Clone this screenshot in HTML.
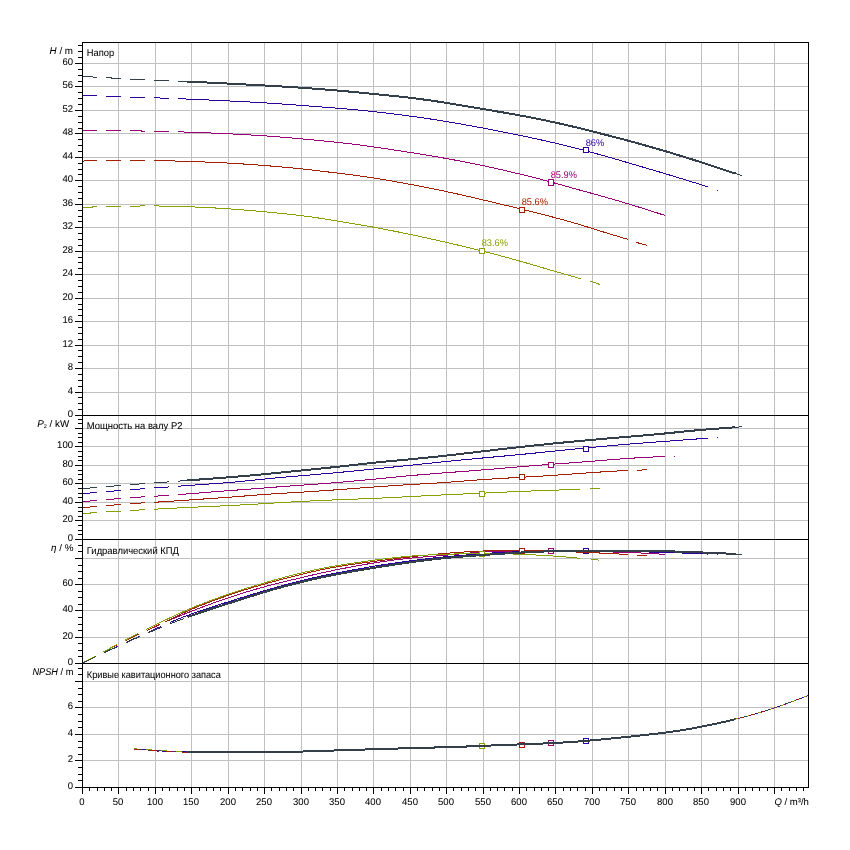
<!DOCTYPE html>
<html><head><meta charset="utf-8"><title>Pump curves</title>
<style>html,body{margin:0;padding:0;background:#fff;width:850px;height:850px;overflow:hidden}svg{display:block}</style>
</head><body>
<svg width="850" height="850" viewBox="0 0 850 850">
<rect width="850" height="850" fill="#fff"/>
<path d="M118.5 42V787M155.5 42V787M191.5 42V787M228.5 42V787M264.5 42V787M301.5 42V787M337.5 42V787M373.5 42V787M410.5 42V787M446.5 42V787M483.5 42V787M519.5 42V787M555.5 42V787M592.5 42V787M628.5 42V787M665.5 42V787M701.5 42V787M738.5 42V787M774.5 42V787M82 392.5H808M82 368.5H808M82 345.5H808M82 321.5H808M82 298.5H808M82 274.5H808M82 251.5H808M82 227.5H808M82 204.5H808M82 180.5H808M82 157.5H808M82 133.5H808M82 110.5H808M82 86.5H808M82 63.5H808M82 520.5H808M82 502.5H808M82 483.5H808M82 465.5H808M82 446.5H808M82 428.5H808M82 637.5H808M82 610.5H808M82 584.5H808M82 558.5H808M82 760.5H808M82 734.5H808M82 707.5H808M82 681.5H808" stroke="#c0c0c0" stroke-width="1" fill="none" shape-rendering="crispEdges"/>
<g fill="none" shape-rendering="crispEdges" stroke-linejoin="round">
<polyline points="82.5,95.28 83.5,95.32 84.5,95.36 85.5,95.40 86.5,95.44 87.5,95.47 88.5,95.51 89.5,95.55 90.5,95.59 91.5,95.63 92.5,95.67 93.5,95.71 94.5,95.75 95.5,95.79 96.5,95.83 97.5,95.87 98.5,95.91 99.5,95.95 100.5,95.99 101.5,96.03 102.5,96.07 103.5,96.11 104.5,96.15 105.5,96.19 106.5,96.23 107.5,96.27 108.5,96.30 109.5,96.34 110.5,96.38 111.5,96.42 112.5,96.46 113.5,96.50 114.5,96.53 115.5,96.57 116.5,96.61 117.5,96.65 118.5,96.68 119.5,96.72 120.5,96.76 121.5,96.79 122.5,96.83 123.5,96.86 124.5,96.90 125.5,96.93 126.5,96.97 127.5,97.00 128.5,97.04 129.5,97.07 130.5,97.11 131.5,97.14 132.5,97.17 133.5,97.20 134.5,97.24 135.5,97.27 136.5,97.30 137.5,97.33 138.5,97.36 139.5,97.39 140.5,97.42 141.5,97.45 142.5,97.48 143.5,97.51 144.5,97.54 145.5,97.57 146.5,97.60 147.5,97.62 148.5,97.65 149.5,97.68 150.5,97.71 151.5,97.74 152.5,97.77 153.5,97.80 154.5,97.83 155.5,97.86 156.5,97.89 157.5,97.93 158.5,97.96 159.5,97.99 160.5,98.03 161.5,98.06 162.5,98.09 163.5,98.13 164.5,98.16 165.5,98.20 166.5,98.24 167.5,98.27 168.5,98.31 169.5,98.35 170.5,98.38 171.5,98.42 172.5,98.46 173.5,98.50 174.5,98.54 175.5,98.57 176.5,98.61 177.5,98.65 178.5,98.69 179.5,98.73 180.5,98.77 181.5,98.82 182.5,98.86" stroke="#2e00a0" stroke-width="1" stroke-dasharray="15 9"/>
<polyline points="182.5,98.86 183.5,98.90 184.5,98.94 185.5,98.98 186.5,99.02 187.5,99.07 188.5,99.11 189.5,99.15 190.5,99.20 191.5,99.24 192.5,99.28 193.5,99.33 194.5,99.37 195.5,99.41 196.5,99.46 197.5,99.50 198.5,99.55 199.5,99.59 200.5,99.64 201.5,99.68 202.5,99.72 203.5,99.77 204.5,99.81 205.5,99.86 206.5,99.90 207.5,99.95 208.5,99.99 209.5,100.04 210.5,100.08 211.5,100.13 212.5,100.17 213.5,100.22 214.5,100.26 215.5,100.31 216.5,100.36 217.5,100.40 218.5,100.45 219.5,100.50 220.5,100.54 221.5,100.59 222.5,100.64 223.5,100.68 224.5,100.73 225.5,100.78 226.5,100.82 227.5,100.87 228.5,100.92 229.5,100.97 230.5,101.02 231.5,101.07 232.5,101.11 233.5,101.16 234.5,101.21 235.5,101.26 236.5,101.31 237.5,101.36 238.5,101.41 239.5,101.46 240.5,101.51 241.5,101.57 242.5,101.62 243.5,101.67 244.5,101.72 245.5,101.77 246.5,101.83 247.5,101.88 248.5,101.93 249.5,101.99 250.5,102.04 251.5,102.10 252.5,102.15 253.5,102.21 254.5,102.26 255.5,102.32 256.5,102.38 257.5,102.44 258.5,102.49 259.5,102.55 260.5,102.61 261.5,102.67 262.5,102.74 263.5,102.80 264.5,102.86 265.5,102.92 266.5,102.99 267.5,103.05 268.5,103.11 269.5,103.18 270.5,103.24 271.5,103.31 272.5,103.38 273.5,103.44 274.5,103.51 275.5,103.58 276.5,103.65 277.5,103.72 278.5,103.79 279.5,103.86 280.5,103.93 281.5,104.00 282.5,104.07 283.5,104.14 284.5,104.21 285.5,104.28 286.5,104.35 287.5,104.42 288.5,104.50 289.5,104.57 290.5,104.64 291.5,104.71 292.5,104.79 293.5,104.86 294.5,104.93 295.5,105.00 296.5,105.08 297.5,105.15 298.5,105.22 299.5,105.30 300.5,105.37 301.5,105.45 302.5,105.52 303.5,105.59 304.5,105.67 305.5,105.74 306.5,105.82 307.5,105.89 308.5,105.97 309.5,106.04 310.5,106.12 311.5,106.19 312.5,106.27 313.5,106.34 314.5,106.42 315.5,106.50 316.5,106.57 317.5,106.65 318.5,106.72 319.5,106.80 320.5,106.87 321.5,106.95 322.5,107.03 323.5,107.10 324.5,107.18 325.5,107.26 326.5,107.33 327.5,107.41 328.5,107.49 329.5,107.57 330.5,107.64 331.5,107.72 332.5,107.80 333.5,107.88 334.5,107.96 335.5,108.04 336.5,108.12 337.5,108.20 338.5,108.28 339.5,108.36 340.5,108.44 341.5,108.53 342.5,108.61 343.5,108.69 344.5,108.78 345.5,108.86 346.5,108.95 347.5,109.04 348.5,109.13 349.5,109.22 350.5,109.31 351.5,109.40 352.5,109.49 353.5,109.58 354.5,109.68 355.5,109.77 356.5,109.87 357.5,109.96 358.5,110.06 359.5,110.16 360.5,110.26 361.5,110.36 362.5,110.46 363.5,110.57 364.5,110.67 365.5,110.78 366.5,110.88 367.5,110.99 368.5,111.09 369.5,111.20 370.5,111.31 371.5,111.42 372.5,111.52 373.5,111.63 374.5,111.74 375.5,111.85 376.5,111.97 377.5,112.08 378.5,112.19 379.5,112.30 380.5,112.42 381.5,112.53 382.5,112.65 383.5,112.76 384.5,112.88 385.5,113.00 386.5,113.12 387.5,113.24 388.5,113.35 389.5,113.47 390.5,113.59 391.5,113.72 392.5,113.84 393.5,113.96 394.5,114.08 395.5,114.21 396.5,114.33 397.5,114.46 398.5,114.58 399.5,114.71 400.5,114.84 401.5,114.97 402.5,115.09 403.5,115.22 404.5,115.35 405.5,115.49 406.5,115.62 407.5,115.75 408.5,115.88 409.5,116.02 410.5,116.15 411.5,116.29 412.5,116.42 413.5,116.56 414.5,116.70 415.5,116.84 416.5,116.98 417.5,117.12 418.5,117.26 419.5,117.40 420.5,117.54 421.5,117.68 422.5,117.83 423.5,117.97 424.5,118.12 425.5,118.26 426.5,118.41 427.5,118.56 428.5,118.71 429.5,118.86 430.5,119.01 431.5,119.16 432.5,119.31 433.5,119.47 434.5,119.62 435.5,119.78 436.5,119.93 437.5,120.09 438.5,120.25 439.5,120.40 440.5,120.56 441.5,120.72 442.5,120.89 443.5,121.05 444.5,121.21 445.5,121.38 446.5,121.54 447.5,121.71 448.5,121.87 449.5,122.04 450.5,122.21 451.5,122.38 452.5,122.55 453.5,122.72 454.5,122.90 455.5,123.07 456.5,123.24 457.5,123.42 458.5,123.59 459.5,123.77 460.5,123.95 461.5,124.13 462.5,124.30 463.5,124.48 464.5,124.66 465.5,124.84 466.5,125.03 467.5,125.21 468.5,125.39 469.5,125.57 470.5,125.76 471.5,125.94 472.5,126.12 473.5,126.31 474.5,126.49 475.5,126.68 476.5,126.87 477.5,127.05 478.5,127.24 479.5,127.43 480.5,127.62 481.5,127.80 482.5,127.99 483.5,128.18 484.5,128.37 485.5,128.56 486.5,128.75 487.5,128.94 488.5,129.13 489.5,129.32 490.5,129.51 491.5,129.71 492.5,129.90 493.5,130.09 494.5,130.28 495.5,130.48 496.5,130.67 497.5,130.87 498.5,131.06 499.5,131.26 500.5,131.45 501.5,131.65 502.5,131.85 503.5,132.05 504.5,132.24 505.5,132.44 506.5,132.64 507.5,132.84 508.5,133.04 509.5,133.24 510.5,133.44 511.5,133.65 512.5,133.85 513.5,134.05 514.5,134.26 515.5,134.46 516.5,134.67 517.5,134.87 518.5,135.08 519.5,135.28 520.5,135.49 521.5,135.70 522.5,135.91 523.5,136.12 524.5,136.33 525.5,136.54 526.5,136.75 527.5,136.96 528.5,137.18 529.5,137.39 530.5,137.60 531.5,137.82 532.5,138.03 533.5,138.25 534.5,138.47 535.5,138.69 536.5,138.90 537.5,139.12 538.5,139.34 539.5,139.56 540.5,139.79 541.5,140.01 542.5,140.23 543.5,140.46 544.5,140.68 545.5,140.91 546.5,141.13 547.5,141.36 548.5,141.59 549.5,141.81 550.5,142.04 551.5,142.27 552.5,142.51 553.5,142.74 554.5,142.97 555.5,143.20 556.5,143.44 557.5,143.67 558.5,143.91 559.5,144.15 560.5,144.39 561.5,144.62 562.5,144.86 563.5,145.11 564.5,145.35 565.5,145.59 566.5,145.84 567.5,146.08 568.5,146.33 569.5,146.58 570.5,146.83 571.5,147.08 572.5,147.33 573.5,147.59 574.5,147.84 575.5,148.10 576.5,148.36 577.5,148.62 578.5,148.88 579.5,149.14 580.5,149.40 581.5,149.67 582.5,149.93 583.5,150.20 584.5,150.47 585.5,150.73 586.5,151.00 587.5,151.27 588.5,151.54 589.5,151.81 590.5,152.08 591.5,152.36 592.5,152.63 593.5,152.90 594.5,153.18 595.5,153.45 596.5,153.73 597.5,154.00 598.5,154.28 599.5,154.56 600.5,154.83 601.5,155.11 602.5,155.39 603.5,155.67 604.5,155.95 605.5,156.23 606.5,156.52 607.5,156.80 608.5,157.08 609.5,157.37 610.5,157.65 611.5,157.94 612.5,158.23 613.5,158.51 614.5,158.80 615.5,159.09 616.5,159.38 617.5,159.67 618.5,159.96 619.5,160.25 620.5,160.54 621.5,160.83 622.5,161.13 623.5,161.42 624.5,161.71 625.5,162.00 626.5,162.30 627.5,162.59 628.5,162.88 629.5,163.18 630.5,163.47 631.5,163.77 632.5,164.06 633.5,164.35 634.5,164.65 635.5,164.94 636.5,165.23 637.5,165.53 638.5,165.82 639.5,166.11 640.5,166.41 641.5,166.70 642.5,166.99 643.5,167.29 644.5,167.58 645.5,167.87 646.5,168.16 647.5,168.46 648.5,168.75 649.5,169.04 650.5,169.33 651.5,169.63 652.5,169.92 653.5,170.21 654.5,170.51 655.5,170.80 656.5,171.10 657.5,171.39 658.5,171.69 659.5,171.99 660.5,172.28 661.5,172.58 662.5,172.88 663.5,173.18 664.5,173.48 665.5,173.78 666.5,174.08 667.5,174.38 668.5,174.69 669.5,174.99 670.5,175.29 671.5,175.60 672.5,175.90 673.5,176.20 674.5,176.51 675.5,176.81 676.5,177.12 677.5,177.42 678.5,177.73 679.5,178.03 680.5,178.34 681.5,178.65 682.5,178.95 683.5,179.26 684.5,179.57 685.5,179.88 686.5,180.18 687.5,180.49 688.5,180.80 689.5,181.11 690.5,181.42 691.5,181.73 692.5,182.04 693.5,182.35 694.5,182.66 695.5,182.97 696.5,183.28 697.5,183.59 698.5,183.91 699.5,184.22 700.5,184.54 701.5,184.85 702.5,185.17 703.5,185.48 704.5,185.80 705.5,186.12 706.5,186.43 707.5,186.75 708,186.91" stroke="#2e00a0" stroke-width="1"/>
<polyline points="717,190.50 718,190.70" stroke="#2e00a0" stroke-width="1"/>
<rect x="583.5" y="147.5" width="5" height="5" fill="#fff" stroke="#2e00a0"/>
<polyline points="82.5,130.47 83.5,130.47 84.5,130.47 85.5,130.47 86.5,130.47 87.5,130.47 88.5,130.47 89.5,130.47 90.5,130.48 91.5,130.48 92.5,130.48 93.5,130.48 94.5,130.48 95.5,130.48 96.5,130.49 97.5,130.49 98.5,130.49 99.5,130.49 100.5,130.50 101.5,130.50 102.5,130.50 103.5,130.51 104.5,130.51 105.5,130.52 106.5,130.52 107.5,130.53 108.5,130.53 109.5,130.54 110.5,130.55 111.5,130.56 112.5,130.56 113.5,130.57 114.5,130.58 115.5,130.59 116.5,130.60 117.5,130.61 118.5,130.62 119.5,130.63 120.5,130.65 121.5,130.66 122.5,130.67 123.5,130.69 124.5,130.70 125.5,130.72 126.5,130.73 127.5,130.75 128.5,130.76 129.5,130.78 130.5,130.80 131.5,130.81 132.5,130.83 133.5,130.85 134.5,130.87 135.5,130.89 136.5,130.91 137.5,130.93 138.5,130.95 139.5,130.97 140.5,130.99 141.5,131.01 142.5,131.03 143.5,131.05 144.5,131.08 145.5,131.10 146.5,131.12 147.5,131.14 148.5,131.16 149.5,131.18 150.5,131.20 151.5,131.22 152.5,131.25 153.5,131.27 154.5,131.29 155.5,131.31 156.5,131.33 157.5,131.35 158.5,131.38 159.5,131.40 160.5,131.42 161.5,131.44 162.5,131.46 163.5,131.49 164.5,131.51 165.5,131.53 166.5,131.56 167.5,131.58 168.5,131.60 169.5,131.63 170.5,131.65 171.5,131.67 172.5,131.70 173.5,131.72 174.5,131.75 175.5,131.78 176.5,131.80 177.5,131.83 178.5,131.86 179.5,131.88 180.5,131.91 181.5,131.94" stroke="#9c0078" stroke-width="1" stroke-dasharray="15 9"/>
<polyline points="181.5,131.94 182.5,131.97 183.5,132.00 184.5,132.03 185.5,132.06 186.5,132.09 187.5,132.13 188.5,132.16 189.5,132.19 190.5,132.23 191.5,132.26 192.5,132.29 193.5,132.33 194.5,132.36 195.5,132.40 196.5,132.44 197.5,132.47 198.5,132.51 199.5,132.55 200.5,132.58 201.5,132.62 202.5,132.66 203.5,132.70 204.5,132.74 205.5,132.78 206.5,132.82 207.5,132.86 208.5,132.90 209.5,132.94 210.5,132.98 211.5,133.02 212.5,133.06 213.5,133.11 214.5,133.15 215.5,133.19 216.5,133.24 217.5,133.28 218.5,133.32 219.5,133.37 220.5,133.41 221.5,133.46 222.5,133.50 223.5,133.55 224.5,133.60 225.5,133.64 226.5,133.69 227.5,133.74 228.5,133.79 229.5,133.84 230.5,133.89 231.5,133.94 232.5,133.99 233.5,134.04 234.5,134.09 235.5,134.14 236.5,134.19 237.5,134.24 238.5,134.30 239.5,134.35 240.5,134.40 241.5,134.46 242.5,134.51 243.5,134.57 244.5,134.62 245.5,134.68 246.5,134.74 247.5,134.79 248.5,134.85 249.5,134.91 250.5,134.97 251.5,135.03 252.5,135.09 253.5,135.15 254.5,135.21 255.5,135.27 256.5,135.34 257.5,135.40 258.5,135.46 259.5,135.53 260.5,135.59 261.5,135.66 262.5,135.73 263.5,135.79 264.5,135.86 265.5,135.93 266.5,136.00 267.5,136.07 268.5,136.14 269.5,136.22 270.5,136.29 271.5,136.36 272.5,136.44 273.5,136.51 274.5,136.59 275.5,136.66 276.5,136.74 277.5,136.82 278.5,136.89 279.5,136.97 280.5,137.05 281.5,137.13 282.5,137.22 283.5,137.30 284.5,137.38 285.5,137.46 286.5,137.55 287.5,137.63 288.5,137.72 289.5,137.80 290.5,137.89 291.5,137.98 292.5,138.07 293.5,138.15 294.5,138.24 295.5,138.33 296.5,138.42 297.5,138.51 298.5,138.60 299.5,138.69 300.5,138.78 301.5,138.88 302.5,138.97 303.5,139.06 304.5,139.15 305.5,139.25 306.5,139.34 307.5,139.43 308.5,139.53 309.5,139.62 310.5,139.71 311.5,139.81 312.5,139.90 313.5,140.00 314.5,140.09 315.5,140.19 316.5,140.28 317.5,140.38 318.5,140.47 319.5,140.57 320.5,140.67 321.5,140.76 322.5,140.86 323.5,140.96 324.5,141.06 325.5,141.16 326.5,141.26 327.5,141.36 328.5,141.46 329.5,141.57 330.5,141.67 331.5,141.77 332.5,141.88 333.5,141.98 334.5,142.09 335.5,142.19 336.5,142.30 337.5,142.41 338.5,142.52 339.5,142.63 340.5,142.74 341.5,142.85 342.5,142.96 343.5,143.07 344.5,143.18 345.5,143.30 346.5,143.41 347.5,143.53 348.5,143.65 349.5,143.76 350.5,143.88 351.5,144.00 352.5,144.12 353.5,144.25 354.5,144.37 355.5,144.49 356.5,144.62 357.5,144.74 358.5,144.87 359.5,145.00 360.5,145.13 361.5,145.26 362.5,145.39 363.5,145.53 364.5,145.66 365.5,145.79 366.5,145.93 367.5,146.07 368.5,146.21 369.5,146.34 370.5,146.48 371.5,146.63 372.5,146.77 373.5,146.91 374.5,147.05 375.5,147.19 376.5,147.34 377.5,147.48 378.5,147.63 379.5,147.77 380.5,147.92 381.5,148.07 382.5,148.21 383.5,148.36 384.5,148.51 385.5,148.66 386.5,148.81 387.5,148.96 388.5,149.11 389.5,149.26 390.5,149.41 391.5,149.56 392.5,149.71 393.5,149.87 394.5,150.02 395.5,150.17 396.5,150.33 397.5,150.48 398.5,150.63 399.5,150.79 400.5,150.94 401.5,151.10 402.5,151.26 403.5,151.41 404.5,151.57 405.5,151.72 406.5,151.88 407.5,152.04 408.5,152.20 409.5,152.36 410.5,152.51 411.5,152.67 412.5,152.83 413.5,152.99 414.5,153.15 415.5,153.31 416.5,153.47 417.5,153.63 418.5,153.79 419.5,153.96 420.5,154.12 421.5,154.28 422.5,154.44 423.5,154.61 424.5,154.77 425.5,154.94 426.5,155.10 427.5,155.27 428.5,155.43 429.5,155.60 430.5,155.77 431.5,155.93 432.5,156.10 433.5,156.27 434.5,156.44 435.5,156.61 436.5,156.78 437.5,156.96 438.5,157.13 439.5,157.30 440.5,157.48 441.5,157.65 442.5,157.83 443.5,158.00 444.5,158.18 445.5,158.36 446.5,158.54 447.5,158.72 448.5,158.90 449.5,159.08 450.5,159.26 451.5,159.44 452.5,159.63 453.5,159.81 454.5,160.00 455.5,160.18 456.5,160.37 457.5,160.56 458.5,160.75 459.5,160.94 460.5,161.13 461.5,161.32 462.5,161.51 463.5,161.71 464.5,161.90 465.5,162.10 466.5,162.29 467.5,162.49 468.5,162.69 469.5,162.89 470.5,163.09 471.5,163.29 472.5,163.49 473.5,163.69 474.5,163.90 475.5,164.10 476.5,164.31 477.5,164.51 478.5,164.72 479.5,164.93 480.5,165.14 481.5,165.35 482.5,165.56 483.5,165.77 484.5,165.99 485.5,166.20 486.5,166.42 487.5,166.63 488.5,166.85 489.5,167.07 490.5,167.28 491.5,167.50 492.5,167.72 493.5,167.95 494.5,168.17 495.5,168.39 496.5,168.62 497.5,168.84 498.5,169.07 499.5,169.29 500.5,169.52 501.5,169.75 502.5,169.98 503.5,170.21 504.5,170.44 505.5,170.67 506.5,170.90 507.5,171.13 508.5,171.37 509.5,171.60 510.5,171.83 511.5,172.07 512.5,172.31 513.5,172.54 514.5,172.78 515.5,173.02 516.5,173.26 517.5,173.50 518.5,173.74 519.5,173.98 520.5,174.22 521.5,174.47 522.5,174.71 523.5,174.95 524.5,175.20 525.5,175.44 526.5,175.69 527.5,175.94 528.5,176.19 529.5,176.44 530.5,176.69 531.5,176.94 532.5,177.19 533.5,177.44 534.5,177.69 535.5,177.95 536.5,178.20 537.5,178.46 538.5,178.72 539.5,178.98 540.5,179.24 541.5,179.50 542.5,179.76 543.5,180.03 544.5,180.29 545.5,180.56 546.5,180.82 547.5,181.09 548.5,181.36 549.5,181.63 550.5,181.91 551.5,182.18 552.5,182.45 553.5,182.73 554.5,183.00 555.5,183.28 556.5,183.56 557.5,183.83 558.5,184.11 559.5,184.39 560.5,184.67 561.5,184.95 562.5,185.23 563.5,185.51 564.5,185.79 565.5,186.07 566.5,186.35 567.5,186.63 568.5,186.92 569.5,187.20 570.5,187.48 571.5,187.76 572.5,188.04 573.5,188.32 574.5,188.60 575.5,188.88 576.5,189.16 577.5,189.44 578.5,189.72 579.5,189.99 580.5,190.27 581.5,190.55 582.5,190.82 583.5,191.10 584.5,191.37 585.5,191.65 586.5,191.92 587.5,192.20 588.5,192.47 589.5,192.74 590.5,193.02 591.5,193.29 592.5,193.57 593.5,193.85 594.5,194.12 595.5,194.40 596.5,194.68 597.5,194.95 598.5,195.23 599.5,195.51 600.5,195.79 601.5,196.07 602.5,196.35 603.5,196.64 604.5,196.92 605.5,197.20 606.5,197.49 607.5,197.77 608.5,198.05 609.5,198.34 610.5,198.63 611.5,198.91 612.5,199.20 613.5,199.49 614.5,199.78 615.5,200.07 616.5,200.36 617.5,200.66 618.5,200.95 619.5,201.24 620.5,201.54 621.5,201.83 622.5,202.13 623.5,202.43 624.5,202.73 625.5,203.03 626.5,203.33 627.5,203.63 628.5,203.93 629.5,204.23 630.5,204.54 631.5,204.84 632.5,205.15 633.5,205.45 634.5,205.76 635.5,206.07 636.5,206.38 637.5,206.69 638.5,207.00 639.5,207.31 640.5,207.62 641.5,207.94 642.5,208.25 643.5,208.57 644.5,208.88 645.5,209.20 646.5,209.51 647.5,209.83 648.5,210.15 649.5,210.46 650.5,210.78 651.5,211.10 652.5,211.42 653.5,211.74 654.5,212.05 655.5,212.37 656.5,212.69 657.5,213.01 658.5,213.33 659.5,213.65 660.5,213.98 661.5,214.30 662.5,214.62 663.5,214.94 664.5,215.26 665.3,215.51" stroke="#9c0078" stroke-width="1"/>
<rect x="548.5" y="179.5" width="5" height="6" fill="#fff" stroke="#9c0078"/>
<polyline points="82.5,161.05 83.5,161.03 84.5,161.00 85.5,160.98 86.5,160.95 87.5,160.93 88.5,160.91 89.5,160.88 90.5,160.86 91.5,160.84 92.5,160.82 93.5,160.80 94.5,160.78 95.5,160.76 96.5,160.74 97.5,160.72 98.5,160.70 99.5,160.68 100.5,160.67 101.5,160.65 102.5,160.63 103.5,160.62 104.5,160.61 105.5,160.59 106.5,160.58 107.5,160.57 108.5,160.55 109.5,160.54 110.5,160.53 111.5,160.52 112.5,160.51 113.5,160.50 114.5,160.49 115.5,160.49 116.5,160.48 117.5,160.47 118.5,160.47 119.5,160.46 120.5,160.45 121.5,160.45 122.5,160.45 123.5,160.44 124.5,160.44 125.5,160.44 126.5,160.43 127.5,160.43 128.5,160.43 129.5,160.43 130.5,160.43 131.5,160.43 132.5,160.43 133.5,160.43 134.5,160.43 135.5,160.44 136.5,160.44 137.5,160.44 138.5,160.45 139.5,160.45 140.5,160.45 141.5,160.46 142.5,160.47 143.5,160.47 144.5,160.48 145.5,160.48 146.5,160.49 147.5,160.50 148.5,160.51 149.5,160.52 150.5,160.53 151.5,160.54 152.5,160.55 153.5,160.56 154.5,160.58 155.5,160.59 156.5,160.60 157.5,160.62 158.5,160.63 159.5,160.65 160.5,160.67 161.5,160.69 162.5,160.70 163.5,160.72 164.5,160.74 165.5,160.77" stroke="#a52000" stroke-width="1" stroke-dasharray="15 9"/>
<polyline points="165.5,160.77 166.5,160.79 167.5,160.81 168.5,160.83 169.5,160.86 170.5,160.88 171.5,160.91 172.5,160.93 173.5,160.96 174.5,160.99 175.5,161.02 176.5,161.04 177.5,161.07 178.5,161.10 179.5,161.13 180.5,161.16 181.5,161.19 182.5,161.22 183.5,161.25 184.5,161.28 185.5,161.32 186.5,161.35 187.5,161.38 188.5,161.41 189.5,161.45 190.5,161.48 191.5,161.51 192.5,161.55 193.5,161.58 194.5,161.62 195.5,161.65 196.5,161.69 197.5,161.72 198.5,161.76 199.5,161.80 200.5,161.84 201.5,161.87 202.5,161.91 203.5,161.95 204.5,161.99 205.5,162.03 206.5,162.07 207.5,162.11 208.5,162.15 209.5,162.19 210.5,162.24 211.5,162.28 212.5,162.32 213.5,162.37 214.5,162.41 215.5,162.46 216.5,162.50 217.5,162.55 218.5,162.60 219.5,162.65 220.5,162.70 221.5,162.75 222.5,162.80 223.5,162.85 224.5,162.90 225.5,162.95 226.5,163.00 227.5,163.06 228.5,163.11 229.5,163.17 230.5,163.22 231.5,163.28 232.5,163.34 233.5,163.39 234.5,163.45 235.5,163.51 236.5,163.57 237.5,163.63 238.5,163.69 239.5,163.75 240.5,163.82 241.5,163.88 242.5,163.95 243.5,164.01 244.5,164.08 245.5,164.14 246.5,164.21 247.5,164.28 248.5,164.34 249.5,164.41 250.5,164.48 251.5,164.55 252.5,164.62 253.5,164.70 254.5,164.77 255.5,164.84 256.5,164.92 257.5,164.99 258.5,165.06 259.5,165.14 260.5,165.22 261.5,165.29 262.5,165.37 263.5,165.45 264.5,165.53 265.5,165.61 266.5,165.69 267.5,165.77 268.5,165.85 269.5,165.93 270.5,166.01 271.5,166.09 272.5,166.18 273.5,166.26 274.5,166.35 275.5,166.43 276.5,166.52 277.5,166.60 278.5,166.69 279.5,166.78 280.5,166.87 281.5,166.95 282.5,167.04 283.5,167.13 284.5,167.23 285.5,167.32 286.5,167.41 287.5,167.50 288.5,167.60 289.5,167.69 290.5,167.79 291.5,167.88 292.5,167.98 293.5,168.08 294.5,168.17 295.5,168.27 296.5,168.37 297.5,168.48 298.5,168.58 299.5,168.68 300.5,168.78 301.5,168.89 302.5,168.99 303.5,169.10 304.5,169.21 305.5,169.32 306.5,169.43 307.5,169.54 308.5,169.65 309.5,169.76 310.5,169.87 311.5,169.99 312.5,170.10 313.5,170.22 314.5,170.34 315.5,170.45 316.5,170.57 317.5,170.69 318.5,170.81 319.5,170.93 320.5,171.05 321.5,171.17 322.5,171.29 323.5,171.41 324.5,171.53 325.5,171.65 326.5,171.77 327.5,171.89 328.5,172.01 329.5,172.13 330.5,172.25 331.5,172.37 332.5,172.49 333.5,172.61 334.5,172.73 335.5,172.85 336.5,172.97 337.5,173.09 338.5,173.22 339.5,173.34 340.5,173.46 341.5,173.58 342.5,173.70 343.5,173.82 344.5,173.95 345.5,174.07 346.5,174.20 347.5,174.32 348.5,174.45 349.5,174.58 350.5,174.70 351.5,174.83 352.5,174.96 353.5,175.10 354.5,175.23 355.5,175.36 356.5,175.50 357.5,175.64 358.5,175.78 359.5,175.91 360.5,176.06 361.5,176.20 362.5,176.34 363.5,176.49 364.5,176.63 365.5,176.78 366.5,176.93 367.5,177.08 368.5,177.23 369.5,177.38 370.5,177.54 371.5,177.69 372.5,177.85 373.5,178.00 374.5,178.16 375.5,178.32 376.5,178.48 377.5,178.64 378.5,178.80 379.5,178.96 380.5,179.13 381.5,179.29 382.5,179.46 383.5,179.62 384.5,179.79 385.5,179.96 386.5,180.13 387.5,180.30 388.5,180.47 389.5,180.64 390.5,180.81 391.5,180.99 392.5,181.16 393.5,181.33 394.5,181.51 395.5,181.69 396.5,181.86 397.5,182.04 398.5,182.22 399.5,182.40 400.5,182.58 401.5,182.76 402.5,182.94 403.5,183.12 404.5,183.30 405.5,183.49 406.5,183.67 407.5,183.86 408.5,184.04 409.5,184.23 410.5,184.41 411.5,184.60 412.5,184.79 413.5,184.98 414.5,185.16 415.5,185.35 416.5,185.54 417.5,185.73 418.5,185.92 419.5,186.12 420.5,186.31 421.5,186.50 422.5,186.70 423.5,186.89 424.5,187.09 425.5,187.28 426.5,187.48 427.5,187.68 428.5,187.87 429.5,188.07 430.5,188.27 431.5,188.47 432.5,188.68 433.5,188.88 434.5,189.08 435.5,189.29 436.5,189.49 437.5,189.70 438.5,189.90 439.5,190.11 440.5,190.32 441.5,190.53 442.5,190.74 443.5,190.95 444.5,191.16 445.5,191.37 446.5,191.59 447.5,191.80 448.5,192.02 449.5,192.23 450.5,192.45 451.5,192.67 452.5,192.89 453.5,193.11 454.5,193.33 455.5,193.55 456.5,193.78 457.5,194.00 458.5,194.22 459.5,194.45 460.5,194.68 461.5,194.90 462.5,195.13 463.5,195.36 464.5,195.59 465.5,195.82 466.5,196.05 467.5,196.28 468.5,196.51 469.5,196.74 470.5,196.97 471.5,197.20 472.5,197.44 473.5,197.67 474.5,197.91 475.5,198.14 476.5,198.38 477.5,198.61 478.5,198.85 479.5,199.08 480.5,199.32 481.5,199.56 482.5,199.79 483.5,200.03 484.5,200.27 485.5,200.50 486.5,200.74 487.5,200.98 488.5,201.22 489.5,201.45 490.5,201.69 491.5,201.93 492.5,202.17 493.5,202.41 494.5,202.64 495.5,202.88 496.5,203.12 497.5,203.36 498.5,203.60 499.5,203.84 500.5,204.07 501.5,204.31 502.5,204.55 503.5,204.79 504.5,205.03 505.5,205.27 506.5,205.51 507.5,205.75 508.5,205.99 509.5,206.23 510.5,206.47 511.5,206.71 512.5,206.95 513.5,207.19 514.5,207.43 515.5,207.67 516.5,207.92 517.5,208.16 518.5,208.40 519.5,208.65 520.5,208.89 521.5,209.14 522.5,209.38 523.5,209.63 524.5,209.88 525.5,210.12 526.5,210.37 527.5,210.62 528.5,210.87 529.5,211.12 530.5,211.37 531.5,211.61 532.5,211.87 533.5,212.12 534.5,212.37 535.5,212.62 536.5,212.87 537.5,213.12 538.5,213.38 539.5,213.63 540.5,213.89 541.5,214.14 542.5,214.40 543.5,214.65 544.5,214.91 545.5,215.17 546.5,215.43 547.5,215.69 548.5,215.95 549.5,216.21 550.5,216.47 551.5,216.74 552.5,217.00 553.5,217.26 554.5,217.53 555.5,217.80 556.5,218.06 557.5,218.33 558.5,218.60 559.5,218.87 560.5,219.14 561.5,219.42 562.5,219.69 563.5,219.96 564.5,220.24 565.5,220.52 566.5,220.80 567.5,221.08 568.5,221.36 569.5,221.64 570.5,221.93 571.5,222.21 572.5,222.50 573.5,222.79 574.5,223.08 575.5,223.37 576.5,223.67 577.5,223.96 578.5,224.26 579.5,224.56 580.5,224.86 581.5,225.16 582.5,225.47 583.5,225.78 584.5,226.08 585.5,226.39 586.5,226.70 587.5,227.01 588.5,227.32 589.5,227.63 590.5,227.95 591.5,228.26 592.5,228.57 593.5,228.88 594.5,229.19 595.5,229.50 596.5,229.82 597.5,230.13 598.5,230.44 599.5,230.75 600.5,231.06 601.5,231.37 602.5,231.67 603.5,231.98 604.5,232.29 605.5,232.60 606.5,232.91 607.5,233.21 608.5,233.52 609.5,233.82 610.5,234.13 611.5,234.43 612.5,234.74 613.5,235.04 614.5,235.34 615.5,235.64 616.5,235.94 617.5,236.25 618.5,236.55 619.5,236.85 620.5,237.15 621.5,237.45 622.5,237.75 623.5,238.04 624.5,238.34 625.5,238.64 626.5,238.94 627.5,239.24 628.4,239.51" stroke="#a52000" stroke-width="1"/>
<polyline points="636,242.30 647,245.30" stroke="#a52000" stroke-width="1"/>
<rect x="519.5" y="207.5" width="5" height="5" fill="#fff" stroke="#a52000"/>
<polyline points="82.5,207.39 83.5,207.35 84.5,207.31 85.5,207.27 86.5,207.23 87.5,207.20 88.5,207.16 89.5,207.12 90.5,207.08 91.5,207.05 92.5,207.01 93.5,206.98 94.5,206.94 95.5,206.91 96.5,206.88 97.5,206.84 98.5,206.81 99.5,206.78 100.5,206.75 101.5,206.73 102.5,206.70 103.5,206.67 104.5,206.65 105.5,206.62 106.5,206.60 107.5,206.57 108.5,206.55 109.5,206.53 110.5,206.50 111.5,206.48 112.5,206.46 113.5,206.44 114.5,206.42 115.5,206.40 116.5,206.38 117.5,206.36 118.5,206.34 119.5,206.32 120.5,206.30 121.5,206.28 122.5,206.27 123.5,206.25 124.5,206.23 125.5,206.22 126.5,206.20 127.5,206.18 128.5,206.17 129.5,206.15 130.5,206.14 131.5,206.12 132.5,206.11 133.5,206.09 134.5,206.08 135.5,206.07 136.5,206.05 137.5,206.04 138.5,206.03 139.5,206.01 140.5,206.00 141.5,205.99 142.5,205.98 143.5,205.98 144.5,205.97 145.5,205.96 146.5,205.96 147.5,205.95 148.5,205.95 149.5,205.95 150.5,205.95 151.5,205.95 152.5,205.95 153.5,205.96 154.5,205.96 155.5,205.97 156.5,205.98 157.5,205.99 158.5,206.00 159.5,206.01" stroke="#88a000" stroke-width="1" stroke-dasharray="15 9"/>
<polyline points="159.5,206.01 160.5,206.02 161.5,206.04 162.5,206.05 163.5,206.07 164.5,206.09 165.5,206.11 166.5,206.13 167.5,206.15 168.5,206.17 169.5,206.20 170.5,206.22 171.5,206.24 172.5,206.27 173.5,206.29 174.5,206.32 175.5,206.35 176.5,206.37 177.5,206.40 178.5,206.43 179.5,206.46 180.5,206.49 181.5,206.52 182.5,206.55 183.5,206.59 184.5,206.62 185.5,206.65 186.5,206.69 187.5,206.72 188.5,206.76 189.5,206.80 190.5,206.83 191.5,206.87 192.5,206.91 193.5,206.95 194.5,206.99 195.5,207.03 196.5,207.08 197.5,207.12 198.5,207.16 199.5,207.21 200.5,207.25 201.5,207.30 202.5,207.34 203.5,207.39 204.5,207.44 205.5,207.49 206.5,207.54 207.5,207.58 208.5,207.64 209.5,207.69 210.5,207.74 211.5,207.79 212.5,207.85 213.5,207.90 214.5,207.96 215.5,208.01 216.5,208.07 217.5,208.13 218.5,208.19 219.5,208.25 220.5,208.31 221.5,208.37 222.5,208.43 223.5,208.50 224.5,208.56 225.5,208.63 226.5,208.69 227.5,208.76 228.5,208.83 229.5,208.90 230.5,208.97 231.5,209.04 232.5,209.11 233.5,209.18 234.5,209.26 235.5,209.33 236.5,209.41 237.5,209.48 238.5,209.56 239.5,209.64 240.5,209.72 241.5,209.80 242.5,209.88 243.5,209.96 244.5,210.04 245.5,210.13 246.5,210.21 247.5,210.29 248.5,210.38 249.5,210.47 250.5,210.55 251.5,210.64 252.5,210.73 253.5,210.81 254.5,210.90 255.5,210.99 256.5,211.08 257.5,211.17 258.5,211.26 259.5,211.35 260.5,211.44 261.5,211.53 262.5,211.62 263.5,211.71 264.5,211.81 265.5,211.90 266.5,211.99 267.5,212.09 268.5,212.18 269.5,212.28 270.5,212.37 271.5,212.47 272.5,212.56 273.5,212.66 274.5,212.75 275.5,212.85 276.5,212.95 277.5,213.05 278.5,213.15 279.5,213.25 280.5,213.35 281.5,213.45 282.5,213.55 283.5,213.65 284.5,213.76 285.5,213.86 286.5,213.97 287.5,214.07 288.5,214.18 289.5,214.29 290.5,214.40 291.5,214.51 292.5,214.62 293.5,214.73 294.5,214.85 295.5,214.96 296.5,215.08 297.5,215.19 298.5,215.31 299.5,215.43 300.5,215.55 301.5,215.68 302.5,215.80 303.5,215.93 304.5,216.06 305.5,216.19 306.5,216.32 307.5,216.45 308.5,216.58 309.5,216.72 310.5,216.86 311.5,217.00 312.5,217.14 313.5,217.28 314.5,217.42 315.5,217.57 316.5,217.71 317.5,217.86 318.5,218.01 319.5,218.16 320.5,218.32 321.5,218.47 322.5,218.63 323.5,218.79 324.5,218.94 325.5,219.10 326.5,219.26 327.5,219.43 328.5,219.59 329.5,219.75 330.5,219.92 331.5,220.08 332.5,220.24 333.5,220.41 334.5,220.57 335.5,220.74 336.5,220.90 337.5,221.07 338.5,221.23 339.5,221.40 340.5,221.56 341.5,221.73 342.5,221.89 343.5,222.06 344.5,222.22 345.5,222.39 346.5,222.55 347.5,222.71 348.5,222.88 349.5,223.04 350.5,223.21 351.5,223.37 352.5,223.54 353.5,223.70 354.5,223.87 355.5,224.03 356.5,224.20 357.5,224.37 358.5,224.54 359.5,224.71 360.5,224.88 361.5,225.05 362.5,225.22 363.5,225.39 364.5,225.57 365.5,225.74 366.5,225.92 367.5,226.10 368.5,226.28 369.5,226.45 370.5,226.64 371.5,226.82 372.5,227.00 373.5,227.18 374.5,227.37 375.5,227.55 376.5,227.74 377.5,227.92 378.5,228.11 379.5,228.30 380.5,228.49 381.5,228.68 382.5,228.87 383.5,229.06 384.5,229.25 385.5,229.44 386.5,229.63 387.5,229.83 388.5,230.02 389.5,230.22 390.5,230.41 391.5,230.61 392.5,230.81 393.5,231.01 394.5,231.21 395.5,231.41 396.5,231.61 397.5,231.81 398.5,232.01 399.5,232.21 400.5,232.42 401.5,232.62 402.5,232.83 403.5,233.03 404.5,233.24 405.5,233.44 406.5,233.65 407.5,233.86 408.5,234.07 409.5,234.28 410.5,234.49 411.5,234.70 412.5,234.91 413.5,235.12 414.5,235.34 415.5,235.55 416.5,235.76 417.5,235.98 418.5,236.19 419.5,236.41 420.5,236.63 421.5,236.84 422.5,237.06 423.5,237.28 424.5,237.50 425.5,237.72 426.5,237.94 427.5,238.16 428.5,238.38 429.5,238.60 430.5,238.82 431.5,239.05 432.5,239.27 433.5,239.49 434.5,239.72 435.5,239.94 436.5,240.17 437.5,240.39 438.5,240.62 439.5,240.85 440.5,241.07 441.5,241.30 442.5,241.53 443.5,241.76 444.5,241.99 445.5,242.22 446.5,242.45 447.5,242.68 448.5,242.91 449.5,243.14 450.5,243.37 451.5,243.60 452.5,243.84 453.5,244.07 454.5,244.30 455.5,244.54 456.5,244.77 457.5,245.01 458.5,245.24 459.5,245.48 460.5,245.72 461.5,245.95 462.5,246.19 463.5,246.43 464.5,246.67 465.5,246.91 466.5,247.15 467.5,247.39 468.5,247.63 469.5,247.88 470.5,248.12 471.5,248.36 472.5,248.61 473.5,248.85 474.5,249.10 475.5,249.35 476.5,249.60 477.5,249.84 478.5,250.09 479.5,250.34 480.5,250.59 481.5,250.85 482.5,251.10 483.5,251.35 484.5,251.60 485.5,251.86 486.5,252.11 487.5,252.37 488.5,252.63 489.5,252.88 490.5,253.14 491.5,253.40 492.5,253.66 493.5,253.92 494.5,254.18 495.5,254.44 496.5,254.70 497.5,254.97 498.5,255.23 499.5,255.50 500.5,255.76 501.5,256.03 502.5,256.30 503.5,256.57 504.5,256.84 505.5,257.11 506.5,257.38 507.5,257.65 508.5,257.92 509.5,258.20 510.5,258.47 511.5,258.75 512.5,259.03 513.5,259.30 514.5,259.58 515.5,259.86 516.5,260.14 517.5,260.43 518.5,260.71 519.5,260.99 520.5,261.28 521.5,261.57 522.5,261.85 523.5,262.14 524.5,262.43 525.5,262.72 526.5,263.01 527.5,263.30 528.5,263.60 529.5,263.89 530.5,264.18 531.5,264.48 532.5,264.77 533.5,265.07 534.5,265.36 535.5,265.66 536.5,265.95 537.5,266.25 538.5,266.54 539.5,266.84 540.5,267.13 541.5,267.43 542.5,267.73 543.5,268.02 544.5,268.32 545.5,268.61 546.5,268.91 547.5,269.20 548.5,269.50 549.5,269.79 550.5,270.08 551.5,270.38 552.5,270.67 553.5,270.96 554.5,271.25 555.5,271.54 556.5,271.83 557.5,272.12 558.5,272.40 559.5,272.69 560.5,272.98 561.5,273.26 562.5,273.55 563.5,273.83 564.5,274.11 565.5,274.40 566.5,274.68 567.5,274.96 568.5,275.24 569.5,275.52 570.5,275.81 571.5,276.09 572.5,276.37 573.5,276.65 574.5,276.93 575.5,277.20 576.5,277.48 577.5,277.76 578.5,278.04 579.5,278.32 580.5,278.60" stroke="#88a000" stroke-width="1"/>
<polyline points="590.3,281.20 599.7,284.40" stroke="#88a000" stroke-width="1"/>
<rect x="479.5" y="248.5" width="5" height="5" fill="#fff" stroke="#88a000"/>
<polyline points="82.5,76.41 83.5,76.47 84.5,76.53 85.5,76.59 86.5,76.65 87.5,76.71 88.5,76.77 89.5,76.82 90.5,76.88 91.5,76.94 92.5,77.00 93.5,77.05 94.5,77.11 95.5,77.16 96.5,77.22 97.5,77.27 98.5,77.32 99.5,77.38 100.5,77.43 101.5,77.48 102.5,77.53 103.5,77.58 104.5,77.64 105.5,77.69 106.5,77.74 107.5,77.79 108.5,77.85 109.5,77.90 110.5,77.95 111.5,78.01 112.5,78.06 113.5,78.12 114.5,78.17 115.5,78.23 116.5,78.28 117.5,78.34 118.5,78.39 119.5,78.45 120.5,78.51 121.5,78.56 122.5,78.62 123.5,78.67 124.5,78.72 125.5,78.78 126.5,78.83 127.5,78.89 128.5,78.94 129.5,79.00 130.5,79.05 131.5,79.10 132.5,79.16 133.5,79.21 134.5,79.26 135.5,79.31 136.5,79.36 137.5,79.42 138.5,79.47 139.5,79.52 140.5,79.57 141.5,79.62 142.5,79.67 143.5,79.72 144.5,79.76 145.5,79.81 146.5,79.86 147.5,79.91 148.5,79.96 149.5,80.01 150.5,80.05 151.5,80.10 152.5,80.15 153.5,80.19 154.5,80.24 155.5,80.29 156.5,80.33 157.5,80.38 158.5,80.42 159.5,80.47 160.5,80.51 161.5,80.56 162.5,80.61 163.5,80.65 164.5,80.70 165.5,80.74 166.5,80.78 167.5,80.83 168.5,80.87 169.5,80.92 170.5,80.96 171.5,81.01 172.5,81.05 173.5,81.09 174.5,81.14 175.5,81.18 176.5,81.22 177.5,81.27 178.5,81.31 179.5,81.35 180.5,81.39 181.5,81.43 182.5,81.47 183.5,81.52 184.5,81.56 185.5,81.60 186.5,81.64 187.5,81.68" stroke="#343f4c" stroke-width="1" stroke-dasharray="15 9"/>
<polyline points="187.5,81.68 188.5,81.72 189.5,81.76 190.5,81.80 191.5,81.84 192.5,81.88 193.5,81.93 194.5,81.97 195.5,82.01 196.5,82.05 197.5,82.09 198.5,82.14 199.5,82.18 200.5,82.22 201.5,82.27 202.5,82.31 203.5,82.36 204.5,82.40 205.5,82.45 206.5,82.49 207.5,82.54 208.5,82.58 209.5,82.63 210.5,82.68 211.5,82.72 212.5,82.77 213.5,82.82 214.5,82.87 215.5,82.92 216.5,82.96 217.5,83.01 218.5,83.06 219.5,83.11 220.5,83.16 221.5,83.21 222.5,83.26 223.5,83.31 224.5,83.36 225.5,83.41 226.5,83.46 227.5,83.52 228.5,83.57 229.5,83.62 230.5,83.67 231.5,83.72 232.5,83.77 233.5,83.83 234.5,83.88 235.5,83.93 236.5,83.99 237.5,84.04 238.5,84.09 239.5,84.14 240.5,84.20 241.5,84.25 242.5,84.30 243.5,84.36 244.5,84.41 245.5,84.47 246.5,84.52 247.5,84.57 248.5,84.63 249.5,84.68 250.5,84.74 251.5,84.79 252.5,84.85 253.5,84.90 254.5,84.95 255.5,85.01 256.5,85.06 257.5,85.12 258.5,85.17 259.5,85.23 260.5,85.28 261.5,85.34 262.5,85.39 263.5,85.45 264.5,85.50 265.5,85.56 266.5,85.62 267.5,85.67 268.5,85.73 269.5,85.78 270.5,85.84 271.5,85.89 272.5,85.95 273.5,86.01 274.5,86.06 275.5,86.12 276.5,86.18 277.5,86.23 278.5,86.29 279.5,86.35 280.5,86.41 281.5,86.47 282.5,86.52 283.5,86.58 284.5,86.64 285.5,86.70 286.5,86.76 287.5,86.83 288.5,86.89 289.5,86.95 290.5,87.01 291.5,87.08 292.5,87.14 293.5,87.21 294.5,87.27 295.5,87.34 296.5,87.40 297.5,87.47 298.5,87.54 299.5,87.61 300.5,87.68 301.5,87.75 302.5,87.82 303.5,87.89 304.5,87.96 305.5,88.03 306.5,88.11 307.5,88.18 308.5,88.26 309.5,88.33 310.5,88.40 311.5,88.48 312.5,88.56 313.5,88.63 314.5,88.71 315.5,88.79 316.5,88.86 317.5,88.94 318.5,89.02 319.5,89.09 320.5,89.17 321.5,89.25 322.5,89.33 323.5,89.41 324.5,89.48 325.5,89.56 326.5,89.64 327.5,89.72 328.5,89.80 329.5,89.88 330.5,89.96 331.5,90.04 332.5,90.13 333.5,90.21 334.5,90.29 335.5,90.37 336.5,90.46 337.5,90.54 338.5,90.63 339.5,90.71 340.5,90.80 341.5,90.88 342.5,90.97 343.5,91.06 344.5,91.15 345.5,91.24 346.5,91.33 347.5,91.42 348.5,91.51 349.5,91.60 350.5,91.69 351.5,91.79 352.5,91.88 353.5,91.98 354.5,92.07 355.5,92.17 356.5,92.26 357.5,92.36 358.5,92.46 359.5,92.56 360.5,92.65 361.5,92.75 362.5,92.85 363.5,92.95 364.5,93.05 365.5,93.15 366.5,93.25 367.5,93.35 368.5,93.45 369.5,93.55 370.5,93.65 371.5,93.75 372.5,93.86 373.5,93.96 374.5,94.06 375.5,94.16 376.5,94.26 377.5,94.36 378.5,94.46 379.5,94.56 380.5,94.66 381.5,94.76 382.5,94.86 383.5,94.96 384.5,95.06 385.5,95.16 386.5,95.26 387.5,95.37 388.5,95.47 389.5,95.57 390.5,95.67 391.5,95.77 392.5,95.87 393.5,95.98 394.5,96.08 395.5,96.19 396.5,96.29 397.5,96.40 398.5,96.50 399.5,96.61 400.5,96.72 401.5,96.83 402.5,96.94 403.5,97.05 404.5,97.16 405.5,97.27 406.5,97.38 407.5,97.50 408.5,97.61 409.5,97.73 410.5,97.85 411.5,97.97 412.5,98.09 413.5,98.21 414.5,98.34 415.5,98.46 416.5,98.59 417.5,98.72 418.5,98.85 419.5,98.98 420.5,99.11 421.5,99.24 422.5,99.38 423.5,99.51 424.5,99.65 425.5,99.78 426.5,99.92 427.5,100.06 428.5,100.20 429.5,100.35 430.5,100.49 431.5,100.63 432.5,100.78 433.5,100.92 434.5,101.07 435.5,101.22 436.5,101.37 437.5,101.52 438.5,101.67 439.5,101.82 440.5,101.97 441.5,102.13 442.5,102.28 443.5,102.44 444.5,102.60 445.5,102.75 446.5,102.91 447.5,103.07 448.5,103.23 449.5,103.39 450.5,103.55 451.5,103.71 452.5,103.88 453.5,104.04 454.5,104.21 455.5,104.37 456.5,104.54 457.5,104.70 458.5,104.87 459.5,105.03 460.5,105.20 461.5,105.37 462.5,105.54 463.5,105.71 464.5,105.88 465.5,106.04 466.5,106.21 467.5,106.38 468.5,106.55 469.5,106.72 470.5,106.89 471.5,107.06 472.5,107.23 473.5,107.41 474.5,107.58 475.5,107.75 476.5,107.92 477.5,108.09 478.5,108.26 479.5,108.43 480.5,108.60 481.5,108.77 482.5,108.94 483.5,109.11 484.5,109.28 485.5,109.45 486.5,109.62 487.5,109.79 488.5,109.96 489.5,110.13 490.5,110.30 491.5,110.47 492.5,110.63 493.5,110.80 494.5,110.97 495.5,111.14 496.5,111.31 497.5,111.49 498.5,111.66 499.5,111.83 500.5,112.00 501.5,112.17 502.5,112.34 503.5,112.52 504.5,112.69 505.5,112.86 506.5,113.04 507.5,113.21 508.5,113.39 509.5,113.56 510.5,113.74 511.5,113.92 512.5,114.09 513.5,114.27 514.5,114.45 515.5,114.63 516.5,114.81 517.5,115.00 518.5,115.18 519.5,115.36 520.5,115.55 521.5,115.73 522.5,115.92 523.5,116.11 524.5,116.29 525.5,116.48 526.5,116.67 527.5,116.87 528.5,117.06 529.5,117.25 530.5,117.45 531.5,117.64 532.5,117.84 533.5,118.03 534.5,118.23 535.5,118.43 536.5,118.63 537.5,118.83 538.5,119.03 539.5,119.24 540.5,119.44 541.5,119.65 542.5,119.85 543.5,120.06 544.5,120.27 545.5,120.48 546.5,120.69 547.5,120.90 548.5,121.11 549.5,121.32 550.5,121.54 551.5,121.75 552.5,121.97 553.5,122.19 554.5,122.41 555.5,122.63 556.5,122.85 557.5,123.07 558.5,123.29 559.5,123.52 560.5,123.74 561.5,123.97 562.5,124.19 563.5,124.42 564.5,124.65 565.5,124.88 566.5,125.11 567.5,125.34 568.5,125.58 569.5,125.81 570.5,126.04 571.5,126.28 572.5,126.52 573.5,126.75 574.5,126.99 575.5,127.23 576.5,127.47 577.5,127.72 578.5,127.96 579.5,128.20 580.5,128.45 581.5,128.69 582.5,128.94 583.5,129.19 584.5,129.43 585.5,129.68 586.5,129.93 587.5,130.18 588.5,130.43 589.5,130.68 590.5,130.93 591.5,131.18 592.5,131.44 593.5,131.69 594.5,131.94 595.5,132.20 596.5,132.45 597.5,132.70 598.5,132.96 599.5,133.21 600.5,133.47 601.5,133.72 602.5,133.98 603.5,134.24 604.5,134.49 605.5,134.75 606.5,135.01 607.5,135.27 608.5,135.52 609.5,135.78 610.5,136.04 611.5,136.30 612.5,136.56 613.5,136.82 614.5,137.09 615.5,137.35 616.5,137.61 617.5,137.87 618.5,138.14 619.5,138.40 620.5,138.67 621.5,138.93 622.5,139.20 623.5,139.46 624.5,139.73 625.5,140.00 626.5,140.26 627.5,140.53 628.5,140.80 629.5,141.07 630.5,141.34 631.5,141.61 632.5,141.89 633.5,142.16 634.5,142.43 635.5,142.70 636.5,142.98 637.5,143.25 638.5,143.53 639.5,143.81 640.5,144.08 641.5,144.36 642.5,144.64 643.5,144.92 644.5,145.20 645.5,145.48 646.5,145.76 647.5,146.04 648.5,146.32 649.5,146.61 650.5,146.89 651.5,147.18 652.5,147.46 653.5,147.75 654.5,148.04 655.5,148.32 656.5,148.61 657.5,148.90 658.5,149.19 659.5,149.48 660.5,149.78 661.5,150.07 662.5,150.36 663.5,150.66 664.5,150.95 665.5,151.25 666.5,151.55 667.5,151.84 668.5,152.14 669.5,152.44 670.5,152.74 671.5,153.04 672.5,153.34 673.5,153.65 674.5,153.95 675.5,154.26 676.5,154.56 677.5,154.87 678.5,155.17 679.5,155.48 680.5,155.79 681.5,156.10 682.5,156.41 683.5,156.72 684.5,157.03 685.5,157.34 686.5,157.65 687.5,157.96 688.5,158.28 689.5,158.59 690.5,158.91 691.5,159.22 692.5,159.54 693.5,159.85 694.5,160.17 695.5,160.49 696.5,160.81 697.5,161.13 698.5,161.45 699.5,161.77 700.5,162.09 701.5,162.41 702.5,162.73 703.5,163.05 704.5,163.37 705.5,163.70 706.5,164.02 707.5,164.34 708.5,164.67 709.5,164.99 710.5,165.32 711.5,165.65 712.5,165.97 713.5,166.30 714.5,166.62 715.5,166.95 716.5,167.28 717.5,167.61 718.5,167.94 719.5,168.26 720.5,168.59 721.5,168.92 722.5,169.25 723.5,169.58 724.5,169.91 725.5,170.24 726.5,170.57 727.5,170.90 728.5,171.23 729.5,171.56 730.5,171.90 731.5,172.23 732.5,172.56 733.5,172.89 734.5,173.22 735.5,173.55" stroke="#343f4c" stroke-width="2"/>
<polyline points="735.5,173.55 736.5,173.89 737.5,174.22 738.5,174.55 739.5,174.88 740.5,175.22 741.5,175.55 742,175.71" stroke="#343f4c" stroke-width="1"/>
<polyline points="82.5,493.66 83.5,493.57 84.5,493.48 85.5,493.40 86.5,493.31 87.5,493.23 88.5,493.14 89.5,493.06 90.5,492.97 91.5,492.89 92.5,492.80 93.5,492.71 94.5,492.63 95.5,492.54 96.5,492.46 97.5,492.38 98.5,492.29 99.5,492.21 100.5,492.12 101.5,492.04 102.5,491.96 103.5,491.87 104.5,491.79 105.5,491.71 106.5,491.63 107.5,491.54 108.5,491.46 109.5,491.38 110.5,491.29 111.5,491.21 112.5,491.13 113.5,491.05 114.5,490.96 115.5,490.88 116.5,490.80 117.5,490.72 118.5,490.64 119.5,490.56 120.5,490.48 121.5,490.40 122.5,490.32 123.5,490.24 124.5,490.16 125.5,490.08 126.5,490.01 127.5,489.93 128.5,489.85 129.5,489.78 130.5,489.70 131.5,489.62 132.5,489.55 133.5,489.47 134.5,489.40 135.5,489.33 136.5,489.25 137.5,489.18 138.5,489.11 139.5,489.03 140.5,488.96 141.5,488.89 142.5,488.82 143.5,488.75 144.5,488.68 145.5,488.61 146.5,488.54 147.5,488.47 148.5,488.40 149.5,488.33 150.5,488.26 151.5,488.19 152.5,488.12 153.5,488.05 154.5,487.98 155.5,487.91 156.5,487.84 157.5,487.77 158.5,487.70 159.5,487.62 160.5,487.55 161.5,487.47 162.5,487.40 163.5,487.32 164.5,487.25 165.5,487.17 166.5,487.10 167.5,487.02 168.5,486.95 169.5,486.87 170.5,486.79 171.5,486.72 172.5,486.64 173.5,486.57 174.5,486.49 175.5,486.42 176.5,486.34 177.5,486.27 178.5,486.20 179.5,486.12 180.5,486.05 181.5,485.97 182.5,485.90" stroke="#2e00a0" stroke-width="1" stroke-dasharray="15 9"/>
<polyline points="182.5,485.90 183.5,485.82 184.5,485.75 185.5,485.67 186.5,485.60 187.5,485.53 188.5,485.45 189.5,485.38 190.5,485.31 191.5,485.24 192.5,485.17 193.5,485.10 194.5,485.03 195.5,484.96 196.5,484.89 197.5,484.82 198.5,484.75 199.5,484.68 200.5,484.61 201.5,484.54 202.5,484.47 203.5,484.40 204.5,484.33 205.5,484.27 206.5,484.20 207.5,484.13 208.5,484.06 209.5,483.99 210.5,483.92 211.5,483.85 212.5,483.78 213.5,483.71 214.5,483.63 215.5,483.56 216.5,483.49 217.5,483.42 218.5,483.34 219.5,483.27 220.5,483.19 221.5,483.12 222.5,483.04 223.5,482.96 224.5,482.88 225.5,482.80 226.5,482.72 227.5,482.64 228.5,482.55 229.5,482.47 230.5,482.38 231.5,482.30 232.5,482.21 233.5,482.12 234.5,482.03 235.5,481.94 236.5,481.85 237.5,481.76 238.5,481.66 239.5,481.57 240.5,481.48 241.5,481.38 242.5,481.29 243.5,481.19 244.5,481.09 245.5,480.99 246.5,480.90 247.5,480.80 248.5,480.70 249.5,480.60 250.5,480.50 251.5,480.40 252.5,480.30 253.5,480.20 254.5,480.09 255.5,479.99 256.5,479.89 257.5,479.79 258.5,479.69 259.5,479.59 260.5,479.49 261.5,479.38 262.5,479.28 263.5,479.18 264.5,479.08 265.5,478.98 266.5,478.88 267.5,478.78 268.5,478.68 269.5,478.58 270.5,478.48 271.5,478.38 272.5,478.28 273.5,478.18 274.5,478.09 275.5,477.99 276.5,477.89 277.5,477.80 278.5,477.70 279.5,477.61 280.5,477.52 281.5,477.42 282.5,477.33 283.5,477.24 284.5,477.15 285.5,477.06 286.5,476.98 287.5,476.89 288.5,476.80 289.5,476.71 290.5,476.63 291.5,476.54 292.5,476.46 293.5,476.37 294.5,476.29 295.5,476.20 296.5,476.12 297.5,476.03 298.5,475.95 299.5,475.86 300.5,475.78 301.5,475.70 302.5,475.61 303.5,475.53 304.5,475.44 305.5,475.36 306.5,475.28 307.5,475.19 308.5,475.11 309.5,475.02 310.5,474.94 311.5,474.85 312.5,474.77 313.5,474.68 314.5,474.60 315.5,474.51 316.5,474.42 317.5,474.34 318.5,474.25 319.5,474.17 320.5,474.08 321.5,473.99 322.5,473.91 323.5,473.82 324.5,473.73 325.5,473.64 326.5,473.56 327.5,473.47 328.5,473.38 329.5,473.29 330.5,473.20 331.5,473.11 332.5,473.02 333.5,472.93 334.5,472.84 335.5,472.75 336.5,472.66 337.5,472.57 338.5,472.47 339.5,472.38 340.5,472.29 341.5,472.20 342.5,472.10 343.5,472.01 344.5,471.92 345.5,471.82 346.5,471.73 347.5,471.63 348.5,471.54 349.5,471.44 350.5,471.34 351.5,471.25 352.5,471.15 353.5,471.05 354.5,470.96 355.5,470.86 356.5,470.76 357.5,470.66 358.5,470.57 359.5,470.47 360.5,470.37 361.5,470.27 362.5,470.17 363.5,470.07 364.5,469.97 365.5,469.87 366.5,469.77 367.5,469.67 368.5,469.57 369.5,469.47 370.5,469.37 371.5,469.27 372.5,469.17 373.5,469.06 374.5,468.96 375.5,468.86 376.5,468.76 377.5,468.66 378.5,468.55 379.5,468.45 380.5,468.35 381.5,468.25 382.5,468.14 383.5,468.04 384.5,467.94 385.5,467.84 386.5,467.73 387.5,467.63 388.5,467.53 389.5,467.43 390.5,467.32 391.5,467.22 392.5,467.12 393.5,467.01 394.5,466.91 395.5,466.81 396.5,466.71 397.5,466.60 398.5,466.50 399.5,466.39 400.5,466.29 401.5,466.19 402.5,466.08 403.5,465.98 404.5,465.88 405.5,465.77 406.5,465.67 407.5,465.56 408.5,465.46 409.5,465.35 410.5,465.25 411.5,465.14 412.5,465.04 413.5,464.93 414.5,464.82 415.5,464.72 416.5,464.61 417.5,464.51 418.5,464.40 419.5,464.29 420.5,464.19 421.5,464.08 422.5,463.98 423.5,463.87 424.5,463.76 425.5,463.66 426.5,463.55 427.5,463.44 428.5,463.34 429.5,463.23 430.5,463.13 431.5,463.02 432.5,462.92 433.5,462.81 434.5,462.70 435.5,462.60 436.5,462.49 437.5,462.39 438.5,462.29 439.5,462.18 440.5,462.08 441.5,461.97 442.5,461.87 443.5,461.77 444.5,461.67 445.5,461.56 446.5,461.46 447.5,461.36 448.5,461.26 449.5,461.16 450.5,461.06 451.5,460.96 452.5,460.86 453.5,460.76 454.5,460.66 455.5,460.56 456.5,460.46 457.5,460.36 458.5,460.27 459.5,460.17 460.5,460.07 461.5,459.98 462.5,459.88 463.5,459.78 464.5,459.69 465.5,459.59 466.5,459.50 467.5,459.40 468.5,459.31 469.5,459.21 470.5,459.12 471.5,459.02 472.5,458.93 473.5,458.84 474.5,458.74 475.5,458.65 476.5,458.56 477.5,458.47 478.5,458.37 479.5,458.28 480.5,458.19 481.5,458.10 482.5,458.01 483.5,457.92 484.5,457.83 485.5,457.73 486.5,457.64 487.5,457.55 488.5,457.46 489.5,457.37 490.5,457.28 491.5,457.19 492.5,457.10 493.5,457.01 494.5,456.92 495.5,456.83 496.5,456.74 497.5,456.65 498.5,456.56 499.5,456.47 500.5,456.38 501.5,456.28 502.5,456.19 503.5,456.10 504.5,456.01 505.5,455.92 506.5,455.83 507.5,455.73 508.5,455.64 509.5,455.55 510.5,455.46 511.5,455.36 512.5,455.27 513.5,455.17 514.5,455.08 515.5,454.99 516.5,454.89 517.5,454.79 518.5,454.70 519.5,454.60 520.5,454.51 521.5,454.41 522.5,454.31 523.5,454.21 524.5,454.11 525.5,454.01 526.5,453.92 527.5,453.82 528.5,453.72 529.5,453.62 530.5,453.52 531.5,453.41 532.5,453.31 533.5,453.21 534.5,453.11 535.5,453.01 536.5,452.91 537.5,452.81 538.5,452.70 539.5,452.60 540.5,452.50 541.5,452.40 542.5,452.29 543.5,452.19 544.5,452.09 545.5,451.99 546.5,451.89 547.5,451.78 548.5,451.68 549.5,451.58 550.5,451.48 551.5,451.37 552.5,451.27 553.5,451.17 554.5,451.07 555.5,450.97 556.5,450.87 557.5,450.77 558.5,450.67 559.5,450.57 560.5,450.47 561.5,450.37 562.5,450.27 563.5,450.17 564.5,450.07 565.5,449.97 566.5,449.87 567.5,449.77 568.5,449.67 569.5,449.57 570.5,449.47 571.5,449.37 572.5,449.28 573.5,449.18 574.5,449.08 575.5,448.98 576.5,448.88 577.5,448.79 578.5,448.69 579.5,448.59 580.5,448.49 581.5,448.40 582.5,448.30 583.5,448.20 584.5,448.11 585.5,448.01 586.5,447.91 587.5,447.82 588.5,447.72 589.5,447.63 590.5,447.53 591.5,447.44 592.5,447.34 593.5,447.25 594.5,447.15 595.5,447.06 596.5,446.97 597.5,446.87 598.5,446.78 599.5,446.69 600.5,446.59 601.5,446.50 602.5,446.41 603.5,446.32 604.5,446.23 605.5,446.14 606.5,446.05 607.5,445.96 608.5,445.87 609.5,445.78 610.5,445.69 611.5,445.60 612.5,445.51 613.5,445.42 614.5,445.34 615.5,445.25 616.5,445.16 617.5,445.08 618.5,444.99 619.5,444.91 620.5,444.82 621.5,444.74 622.5,444.65 623.5,444.57 624.5,444.48 625.5,444.40 626.5,444.32 627.5,444.24 628.5,444.16 629.5,444.07 630.5,443.99 631.5,443.91 632.5,443.83 633.5,443.75 634.5,443.67 635.5,443.60 636.5,443.52 637.5,443.44 638.5,443.36 639.5,443.28 640.5,443.21 641.5,443.13 642.5,443.05 643.5,442.98 644.5,442.90 645.5,442.82 646.5,442.75 647.5,442.67 648.5,442.60 649.5,442.52 650.5,442.45 651.5,442.37 652.5,442.30 653.5,442.22 654.5,442.15 655.5,442.07 656.5,442.00 657.5,441.92 658.5,441.85 659.5,441.77 660.5,441.70 661.5,441.62 662.5,441.55 663.5,441.47 664.5,441.40 665.5,441.32 666.5,441.25 667.5,441.17 668.5,441.10 669.5,441.02 670.5,440.95 671.5,440.87 672.5,440.80 673.5,440.72 674.5,440.65 675.5,440.57 676.5,440.50 677.5,440.42 678.5,440.35 679.5,440.27 680.5,440.20 681.5,440.12 682.5,440.05 683.5,439.97 684.5,439.90 685.5,439.82 686.5,439.75 687.5,439.67 688.5,439.60 689.5,439.53 690.5,439.45 691.5,439.38 692.5,439.31 693.5,439.23 694.5,439.16 695.5,439.09 696.5,439.01 697.5,438.94 698.5,438.87 699.5,438.80 700.5,438.72 701.5,438.65 702.5,438.58 703.5,438.51 704.5,438.44 705.5,438.37 706.5,438.30 707.5,438.23 708,438.19" stroke="#2e00a0" stroke-width="1"/>
<polyline points="717,437.50 718,437.50" stroke="#2e00a0" stroke-width="1"/>
<rect x="583.5" y="446.5" width="5" height="5" fill="#fff" stroke="#2e00a0"/>
<polyline points="82.5,501.65 83.5,501.57 84.5,501.48 85.5,501.40 86.5,501.31 87.5,501.22 88.5,501.14 89.5,501.05 90.5,500.96 91.5,500.88 92.5,500.79 93.5,500.71 94.5,500.62 95.5,500.54 96.5,500.45 97.5,500.37 98.5,500.28 99.5,500.20 100.5,500.11 101.5,500.03 102.5,499.95 103.5,499.86 104.5,499.78 105.5,499.70 106.5,499.61 107.5,499.53 108.5,499.45 109.5,499.37 110.5,499.28 111.5,499.20 112.5,499.12 113.5,499.04 114.5,498.96 115.5,498.88 116.5,498.80 117.5,498.72 118.5,498.64 119.5,498.56 120.5,498.48 121.5,498.40 122.5,498.32 123.5,498.25 124.5,498.17 125.5,498.10 126.5,498.02 127.5,497.95 128.5,497.88 129.5,497.81 130.5,497.73 131.5,497.66 132.5,497.59 133.5,497.52 134.5,497.45 135.5,497.39 136.5,497.32 137.5,497.25 138.5,497.19 139.5,497.12 140.5,497.06 141.5,496.99 142.5,496.93 143.5,496.87 144.5,496.81 145.5,496.75 146.5,496.69 147.5,496.63 148.5,496.57 149.5,496.51 150.5,496.45 151.5,496.39 152.5,496.33 153.5,496.27 154.5,496.21 155.5,496.15 156.5,496.09 157.5,496.03 158.5,495.97 159.5,495.91 160.5,495.84 161.5,495.78 162.5,495.71 163.5,495.65 164.5,495.58 165.5,495.51 166.5,495.45 167.5,495.38 168.5,495.31 169.5,495.24 170.5,495.17 171.5,495.10 172.5,495.03 173.5,494.95 174.5,494.88 175.5,494.81 176.5,494.73 177.5,494.66 178.5,494.58 179.5,494.51 180.5,494.43 181.5,494.36" stroke="#9c0078" stroke-width="1" stroke-dasharray="15 9"/>
<polyline points="181.5,494.36 182.5,494.28 183.5,494.20 184.5,494.12 185.5,494.05 186.5,493.97 187.5,493.89 188.5,493.81 189.5,493.73 190.5,493.65 191.5,493.57 192.5,493.49 193.5,493.42 194.5,493.34 195.5,493.26 196.5,493.18 197.5,493.10 198.5,493.02 199.5,492.94 200.5,492.86 201.5,492.78 202.5,492.70 203.5,492.62 204.5,492.55 205.5,492.47 206.5,492.39 207.5,492.31 208.5,492.23 209.5,492.15 210.5,492.07 211.5,491.99 212.5,491.92 213.5,491.84 214.5,491.76 215.5,491.68 216.5,491.60 217.5,491.53 218.5,491.45 219.5,491.37 220.5,491.29 221.5,491.22 222.5,491.14 223.5,491.06 224.5,490.99 225.5,490.91 226.5,490.84 227.5,490.76 228.5,490.68 229.5,490.61 230.5,490.53 231.5,490.46 232.5,490.38 233.5,490.31 234.5,490.24 235.5,490.16 236.5,490.09 237.5,490.01 238.5,489.94 239.5,489.87 240.5,489.79 241.5,489.72 242.5,489.64 243.5,489.57 244.5,489.50 245.5,489.42 246.5,489.35 247.5,489.27 248.5,489.20 249.5,489.13 250.5,489.05 251.5,488.98 252.5,488.90 253.5,488.83 254.5,488.75 255.5,488.67 256.5,488.60 257.5,488.52 258.5,488.44 259.5,488.37 260.5,488.29 261.5,488.21 262.5,488.13 263.5,488.05 264.5,487.98 265.5,487.90 266.5,487.82 267.5,487.74 268.5,487.66 269.5,487.57 270.5,487.49 271.5,487.41 272.5,487.33 273.5,487.25 274.5,487.17 275.5,487.09 276.5,487.01 277.5,486.94 278.5,486.86 279.5,486.78 280.5,486.70 281.5,486.63 282.5,486.55 283.5,486.48 284.5,486.41 285.5,486.34 286.5,486.26 287.5,486.19 288.5,486.12 289.5,486.05 290.5,485.98 291.5,485.91 292.5,485.84 293.5,485.77 294.5,485.70 295.5,485.63 296.5,485.56 297.5,485.49 298.5,485.42 299.5,485.35 300.5,485.28 301.5,485.21 302.5,485.14 303.5,485.07 304.5,485.00 305.5,484.93 306.5,484.85 307.5,484.78 308.5,484.71 309.5,484.64 310.5,484.56 311.5,484.49 312.5,484.41 313.5,484.34 314.5,484.26 315.5,484.19 316.5,484.11 317.5,484.03 318.5,483.96 319.5,483.88 320.5,483.80 321.5,483.73 322.5,483.65 323.5,483.57 324.5,483.49 325.5,483.41 326.5,483.33 327.5,483.26 328.5,483.18 329.5,483.10 330.5,483.02 331.5,482.93 332.5,482.85 333.5,482.77 334.5,482.69 335.5,482.61 336.5,482.53 337.5,482.45 338.5,482.36 339.5,482.28 340.5,482.20 341.5,482.11 342.5,482.03 343.5,481.95 344.5,481.86 345.5,481.78 346.5,481.69 347.5,481.61 348.5,481.52 349.5,481.44 350.5,481.35 351.5,481.26 352.5,481.18 353.5,481.09 354.5,481.00 355.5,480.91 356.5,480.82 357.5,480.73 358.5,480.64 359.5,480.55 360.5,480.46 361.5,480.37 362.5,480.28 363.5,480.19 364.5,480.10 365.5,480.00 366.5,479.91 367.5,479.81 368.5,479.72 369.5,479.62 370.5,479.53 371.5,479.43 372.5,479.33 373.5,479.24 374.5,479.14 375.5,479.04 376.5,478.94 377.5,478.84 378.5,478.74 379.5,478.64 380.5,478.54 381.5,478.44 382.5,478.34 383.5,478.24 384.5,478.14 385.5,478.04 386.5,477.94 387.5,477.84 388.5,477.74 389.5,477.64 390.5,477.54 391.5,477.44 392.5,477.34 393.5,477.25 394.5,477.15 395.5,477.05 396.5,476.95 397.5,476.85 398.5,476.76 399.5,476.66 400.5,476.56 401.5,476.47 402.5,476.37 403.5,476.28 404.5,476.18 405.5,476.09 406.5,476.00 407.5,475.90 408.5,475.81 409.5,475.72 410.5,475.63 411.5,475.54 412.5,475.45 413.5,475.36 414.5,475.27 415.5,475.19 416.5,475.10 417.5,475.01 418.5,474.93 419.5,474.84 420.5,474.76 421.5,474.67 422.5,474.59 423.5,474.51 424.5,474.42 425.5,474.34 426.5,474.26 427.5,474.18 428.5,474.10 429.5,474.02 430.5,473.94 431.5,473.86 432.5,473.78 433.5,473.70 434.5,473.62 435.5,473.54 436.5,473.46 437.5,473.38 438.5,473.31 439.5,473.23 440.5,473.15 441.5,473.08 442.5,473.00 443.5,472.92 444.5,472.85 445.5,472.77 446.5,472.69 447.5,472.62 448.5,472.54 449.5,472.47 450.5,472.39 451.5,472.31 452.5,472.24 453.5,472.16 454.5,472.09 455.5,472.01 456.5,471.94 457.5,471.86 458.5,471.78 459.5,471.71 460.5,471.63 461.5,471.56 462.5,471.48 463.5,471.40 464.5,471.33 465.5,471.25 466.5,471.18 467.5,471.10 468.5,471.02 469.5,470.95 470.5,470.87 471.5,470.79 472.5,470.71 473.5,470.64 474.5,470.56 475.5,470.48 476.5,470.40 477.5,470.32 478.5,470.24 479.5,470.16 480.5,470.08 481.5,470.00 482.5,469.92 483.5,469.84 484.5,469.76 485.5,469.68 486.5,469.60 487.5,469.51 488.5,469.43 489.5,469.35 490.5,469.27 491.5,469.18 492.5,469.10 493.5,469.02 494.5,468.93 495.5,468.85 496.5,468.76 497.5,468.68 498.5,468.60 499.5,468.51 500.5,468.43 501.5,468.34 502.5,468.26 503.5,468.17 504.5,468.09 505.5,468.00 506.5,467.92 507.5,467.84 508.5,467.75 509.5,467.67 510.5,467.58 511.5,467.50 512.5,467.41 513.5,467.33 514.5,467.24 515.5,467.16 516.5,467.07 517.5,466.99 518.5,466.90 519.5,466.82 520.5,466.74 521.5,466.65 522.5,466.57 523.5,466.49 524.5,466.40 525.5,466.32 526.5,466.24 527.5,466.15 528.5,466.07 529.5,465.99 530.5,465.91 531.5,465.83 532.5,465.74 533.5,465.66 534.5,465.58 535.5,465.50 536.5,465.42 537.5,465.34 538.5,465.26 539.5,465.18 540.5,465.10 541.5,465.02 542.5,464.94 543.5,464.87 544.5,464.79 545.5,464.71 546.5,464.63 547.5,464.56 548.5,464.48 549.5,464.40 550.5,464.33 551.5,464.25 552.5,464.18 553.5,464.10 554.5,464.03 555.5,463.95 556.5,463.88 557.5,463.81 558.5,463.74 559.5,463.66 560.5,463.59 561.5,463.52 562.5,463.45 563.5,463.38 564.5,463.31 565.5,463.23 566.5,463.16 567.5,463.09 568.5,463.02 569.5,462.95 570.5,462.88 571.5,462.80 572.5,462.73 573.5,462.66 574.5,462.59 575.5,462.51 576.5,462.44 577.5,462.37 578.5,462.29 579.5,462.22 580.5,462.14 581.5,462.06 582.5,461.99 583.5,461.91 584.5,461.83 585.5,461.75 586.5,461.67 587.5,461.60 588.5,461.52 589.5,461.44 590.5,461.35 591.5,461.27 592.5,461.19 593.5,461.11 594.5,461.03 595.5,460.95 596.5,460.87 597.5,460.79 598.5,460.70 599.5,460.62 600.5,460.54 601.5,460.46 602.5,460.38 603.5,460.29 604.5,460.21 605.5,460.13 606.5,460.05 607.5,459.97 608.5,459.89 609.5,459.81 610.5,459.73 611.5,459.65 612.5,459.57 613.5,459.49 614.5,459.41 615.5,459.33 616.5,459.26 617.5,459.18 618.5,459.11 619.5,459.03 620.5,458.96 621.5,458.88 622.5,458.81 623.5,458.74 624.5,458.67 625.5,458.60 626.5,458.53 627.5,458.46 628.5,458.39 629.5,458.33 630.5,458.26 631.5,458.20 632.5,458.13 633.5,458.07 634.5,458.01 635.5,457.95 636.5,457.89 637.5,457.83 638.5,457.77 639.5,457.71 640.5,457.66 641.5,457.60 642.5,457.55 643.5,457.49 644.5,457.44 645.5,457.38 646.5,457.33 647.5,457.28 648.5,457.23 649.5,457.17 650.5,457.12 651.5,457.07 652.5,457.02 653.5,456.97 654.5,456.92 655.5,456.87 656.5,456.82 657.5,456.78 658.5,456.73 659.5,456.68 660.5,456.63 661.5,456.58 662.5,456.53 663.5,456.49 664.5,456.44 665.3,456.40" stroke="#9c0078" stroke-width="1"/>
<polyline points="674,456.50 675.2,456.50" stroke="#9c0078" stroke-width="1"/>
<rect x="548.5" y="462.5" width="5" height="5" fill="#fff" stroke="#9c0078"/>
<polyline points="82.5,507.65 83.5,507.57 84.5,507.48 85.5,507.40 86.5,507.31 87.5,507.22 88.5,507.14 89.5,507.05 90.5,506.96 91.5,506.88 92.5,506.79 93.5,506.70 94.5,506.62 95.5,506.53 96.5,506.45 97.5,506.36 98.5,506.28 99.5,506.19 100.5,506.11 101.5,506.03 102.5,505.94 103.5,505.86 104.5,505.78 105.5,505.69 106.5,505.61 107.5,505.53 108.5,505.44 109.5,505.36 110.5,505.28 111.5,505.20 112.5,505.11 113.5,505.03 114.5,504.95 115.5,504.87 116.5,504.79 117.5,504.71 118.5,504.63 119.5,504.55 120.5,504.47 121.5,504.39 122.5,504.32 123.5,504.24 124.5,504.17 125.5,504.09 126.5,504.02 127.5,503.94 128.5,503.87 129.5,503.80 130.5,503.73 131.5,503.66 132.5,503.59 133.5,503.52 134.5,503.45 135.5,503.38 136.5,503.32 137.5,503.25 138.5,503.18 139.5,503.12 140.5,503.06 141.5,502.99 142.5,502.93 143.5,502.87 144.5,502.81 145.5,502.75 146.5,502.70 147.5,502.64 148.5,502.58 149.5,502.52 150.5,502.47 151.5,502.41 152.5,502.35 153.5,502.30 154.5,502.24 155.5,502.18 156.5,502.13 157.5,502.07 158.5,502.01 159.5,501.95 160.5,501.89 161.5,501.83 162.5,501.77 163.5,501.71 164.5,501.65 165.5,501.59" stroke="#a52000" stroke-width="1" stroke-dasharray="15 9"/>
<polyline points="165.5,501.59 166.5,501.53 167.5,501.46 168.5,501.40 169.5,501.33 170.5,501.27 171.5,501.20 172.5,501.14 173.5,501.07 174.5,501.00 175.5,500.93 176.5,500.87 177.5,500.80 178.5,500.73 179.5,500.66 180.5,500.59 181.5,500.52 182.5,500.45 183.5,500.38 184.5,500.31 185.5,500.24 186.5,500.17 187.5,500.10 188.5,500.03 189.5,499.97 190.5,499.90 191.5,499.83 192.5,499.76 193.5,499.69 194.5,499.62 195.5,499.55 196.5,499.49 197.5,499.42 198.5,499.35 199.5,499.28 200.5,499.21 201.5,499.15 202.5,499.08 203.5,499.01 204.5,498.94 205.5,498.87 206.5,498.81 207.5,498.74 208.5,498.67 209.5,498.60 210.5,498.53 211.5,498.46 212.5,498.39 213.5,498.33 214.5,498.26 215.5,498.19 216.5,498.12 217.5,498.05 218.5,497.98 219.5,497.90 220.5,497.83 221.5,497.76 222.5,497.69 223.5,497.62 224.5,497.54 225.5,497.47 226.5,497.40 227.5,497.32 228.5,497.25 229.5,497.17 230.5,497.10 231.5,497.02 232.5,496.94 233.5,496.87 234.5,496.79 235.5,496.71 236.5,496.64 237.5,496.56 238.5,496.48 239.5,496.40 240.5,496.32 241.5,496.24 242.5,496.16 243.5,496.08 244.5,496.01 245.5,495.93 246.5,495.85 247.5,495.77 248.5,495.69 249.5,495.61 250.5,495.53 251.5,495.45 252.5,495.38 253.5,495.30 254.5,495.22 255.5,495.14 256.5,495.07 257.5,494.99 258.5,494.91 259.5,494.84 260.5,494.76 261.5,494.69 262.5,494.61 263.5,494.54 264.5,494.47 265.5,494.39 266.5,494.32 267.5,494.25 268.5,494.18 269.5,494.11 270.5,494.04 271.5,493.97 272.5,493.91 273.5,493.84 274.5,493.77 275.5,493.71 276.5,493.64 277.5,493.58 278.5,493.52 279.5,493.45 280.5,493.39 281.5,493.33 282.5,493.27 283.5,493.21 284.5,493.15 285.5,493.09 286.5,493.03 287.5,492.98 288.5,492.92 289.5,492.86 290.5,492.81 291.5,492.75 292.5,492.69 293.5,492.63 294.5,492.58 295.5,492.52 296.5,492.46 297.5,492.40 298.5,492.35 299.5,492.29 300.5,492.23 301.5,492.17 302.5,492.11 303.5,492.05 304.5,491.99 305.5,491.92 306.5,491.86 307.5,491.80 308.5,491.74 309.5,491.67 310.5,491.61 311.5,491.54 312.5,491.48 313.5,491.41 314.5,491.34 315.5,491.28 316.5,491.21 317.5,491.14 318.5,491.07 319.5,491.00 320.5,490.93 321.5,490.87 322.5,490.80 323.5,490.73 324.5,490.65 325.5,490.58 326.5,490.51 327.5,490.44 328.5,490.37 329.5,490.30 330.5,490.23 331.5,490.15 332.5,490.08 333.5,490.01 334.5,489.93 335.5,489.86 336.5,489.79 337.5,489.71 338.5,489.64 339.5,489.56 340.5,489.49 341.5,489.42 342.5,489.34 343.5,489.27 344.5,489.19 345.5,489.12 346.5,489.04 347.5,488.97 348.5,488.89 349.5,488.82 350.5,488.74 351.5,488.67 352.5,488.59 353.5,488.51 354.5,488.44 355.5,488.36 356.5,488.29 357.5,488.21 358.5,488.14 359.5,488.06 360.5,487.99 361.5,487.91 362.5,487.84 363.5,487.76 364.5,487.69 365.5,487.61 366.5,487.54 367.5,487.47 368.5,487.39 369.5,487.32 370.5,487.24 371.5,487.17 372.5,487.10 373.5,487.02 374.5,486.95 375.5,486.88 376.5,486.80 377.5,486.73 378.5,486.66 379.5,486.59 380.5,486.52 381.5,486.45 382.5,486.38 383.5,486.31 384.5,486.24 385.5,486.17 386.5,486.10 387.5,486.03 388.5,485.97 389.5,485.90 390.5,485.83 391.5,485.77 392.5,485.70 393.5,485.64 394.5,485.57 395.5,485.51 396.5,485.44 397.5,485.38 398.5,485.31 399.5,485.25 400.5,485.19 401.5,485.13 402.5,485.06 403.5,485.00 404.5,484.94 405.5,484.88 406.5,484.82 407.5,484.76 408.5,484.70 409.5,484.64 410.5,484.58 411.5,484.52 412.5,484.46 413.5,484.40 414.5,484.34 415.5,484.28 416.5,484.22 417.5,484.17 418.5,484.11 419.5,484.05 420.5,483.99 421.5,483.93 422.5,483.87 423.5,483.81 424.5,483.75 425.5,483.70 426.5,483.64 427.5,483.58 428.5,483.52 429.5,483.46 430.5,483.40 431.5,483.33 432.5,483.27 433.5,483.21 434.5,483.15 435.5,483.09 436.5,483.02 437.5,482.96 438.5,482.90 439.5,482.83 440.5,482.77 441.5,482.70 442.5,482.63 443.5,482.56 444.5,482.50 445.5,482.43 446.5,482.36 447.5,482.29 448.5,482.21 449.5,482.14 450.5,482.07 451.5,481.99 452.5,481.92 453.5,481.84 454.5,481.77 455.5,481.69 456.5,481.62 457.5,481.54 458.5,481.46 459.5,481.38 460.5,481.31 461.5,481.23 462.5,481.15 463.5,481.07 464.5,480.99 465.5,480.91 466.5,480.84 467.5,480.76 468.5,480.68 469.5,480.60 470.5,480.53 471.5,480.45 472.5,480.37 473.5,480.30 474.5,480.22 475.5,480.15 476.5,480.07 477.5,480.00 478.5,479.92 479.5,479.85 480.5,479.78 481.5,479.71 482.5,479.64 483.5,479.57 484.5,479.50 485.5,479.43 486.5,479.36 487.5,479.30 488.5,479.23 489.5,479.17 490.5,479.10 491.5,479.04 492.5,478.97 493.5,478.91 494.5,478.85 495.5,478.79 496.5,478.72 497.5,478.66 498.5,478.60 499.5,478.54 500.5,478.48 501.5,478.42 502.5,478.36 503.5,478.30 504.5,478.24 505.5,478.18 506.5,478.13 507.5,478.07 508.5,478.01 509.5,477.95 510.5,477.89 511.5,477.84 512.5,477.78 513.5,477.72 514.5,477.67 515.5,477.61 516.5,477.55 517.5,477.49 518.5,477.44 519.5,477.38 520.5,477.32 521.5,477.26 522.5,477.21 523.5,477.15 524.5,477.09 525.5,477.03 526.5,476.98 527.5,476.92 528.5,476.86 529.5,476.80 530.5,476.74 531.5,476.68 532.5,476.62 533.5,476.56 534.5,476.50 535.5,476.44 536.5,476.38 537.5,476.32 538.5,476.26 539.5,476.20 540.5,476.14 541.5,476.08 542.5,476.02 543.5,475.95 544.5,475.89 545.5,475.83 546.5,475.76 547.5,475.70 548.5,475.64 549.5,475.57 550.5,475.50 551.5,475.44 552.5,475.37 553.5,475.31 554.5,475.24 555.5,475.17 556.5,475.10 557.5,475.03 558.5,474.96 559.5,474.89 560.5,474.82 561.5,474.75 562.5,474.68 563.5,474.61 564.5,474.54 565.5,474.47 566.5,474.39 567.5,474.32 568.5,474.25 569.5,474.18 570.5,474.10 571.5,474.03 572.5,473.96 573.5,473.88 574.5,473.81 575.5,473.74 576.5,473.67 577.5,473.59 578.5,473.52 579.5,473.45 580.5,473.38 581.5,473.30 582.5,473.23 583.5,473.16 584.5,473.09 585.5,473.02 586.5,472.95 587.5,472.88 588.5,472.81 589.5,472.74 590.5,472.67 591.5,472.60 592.5,472.53 593.5,472.46 594.5,472.40 595.5,472.33 596.5,472.27 597.5,472.20 598.5,472.13 599.5,472.07 600.5,472.01 601.5,471.94 602.5,471.88 603.5,471.82 604.5,471.75 605.5,471.69 606.5,471.63 607.5,471.57 608.5,471.51 609.5,471.45 610.5,471.39 611.5,471.33 612.5,471.27 613.5,471.21 614.5,471.15 615.5,471.09 616.5,471.03 617.5,470.97 618.5,470.91 619.5,470.85 620.5,470.79 621.5,470.73 622.5,470.67 623.5,470.62 624.5,470.56 625.5,470.50 626.5,470.44 627.5,470.38 628.4,470.33" stroke="#a52000" stroke-width="1"/>
<polyline points="637,470.60 647,469.40" stroke="#a52000" stroke-width="1"/>
<rect x="519.5" y="474.5" width="5" height="5" fill="#fff" stroke="#a52000"/>
<polyline points="82.5,513.58 83.5,513.51 84.5,513.44 85.5,513.37 86.5,513.30 87.5,513.22 88.5,513.15 89.5,513.08 90.5,513.01 91.5,512.94 92.5,512.87 93.5,512.80 94.5,512.73 95.5,512.66 96.5,512.59 97.5,512.53 98.5,512.46 99.5,512.39 100.5,512.33 101.5,512.26 102.5,512.20 103.5,512.13 104.5,512.07 105.5,512.00 106.5,511.94 107.5,511.88 108.5,511.81 109.5,511.75 110.5,511.69 111.5,511.63 112.5,511.57 113.5,511.51 114.5,511.45 115.5,511.39 116.5,511.33 117.5,511.27 118.5,511.21 119.5,511.15 120.5,511.09 121.5,511.03 122.5,510.97 123.5,510.92 124.5,510.86 125.5,510.80 126.5,510.74 127.5,510.68 128.5,510.63 129.5,510.57 130.5,510.51 131.5,510.45 132.5,510.40 133.5,510.34 134.5,510.28 135.5,510.23 136.5,510.17 137.5,510.11 138.5,510.05 139.5,510.00 140.5,509.94 141.5,509.88 142.5,509.83 143.5,509.77 144.5,509.72 145.5,509.66 146.5,509.61 147.5,509.55 148.5,509.50 149.5,509.45 150.5,509.39 151.5,509.34 152.5,509.29 153.5,509.23 154.5,509.18 155.5,509.13 156.5,509.07 157.5,509.02 158.5,508.97 159.5,508.91" stroke="#88a000" stroke-width="1" stroke-dasharray="15 9"/>
<polyline points="159.5,508.91 160.5,508.86 161.5,508.81 162.5,508.76 163.5,508.70 164.5,508.65 165.5,508.60 166.5,508.54 167.5,508.49 168.5,508.44 169.5,508.39 170.5,508.34 171.5,508.28 172.5,508.23 173.5,508.18 174.5,508.13 175.5,508.08 176.5,508.03 177.5,507.98 178.5,507.93 179.5,507.88 180.5,507.83 181.5,507.78 182.5,507.73 183.5,507.69 184.5,507.64 185.5,507.59 186.5,507.55 187.5,507.50 188.5,507.45 189.5,507.41 190.5,507.36 191.5,507.32 192.5,507.27 193.5,507.22 194.5,507.18 195.5,507.13 196.5,507.09 197.5,507.04 198.5,507.00 199.5,506.95 200.5,506.91 201.5,506.86 202.5,506.81 203.5,506.77 204.5,506.72 205.5,506.68 206.5,506.63 207.5,506.58 208.5,506.54 209.5,506.49 210.5,506.45 211.5,506.40 212.5,506.35 213.5,506.31 214.5,506.26 215.5,506.21 216.5,506.17 217.5,506.12 218.5,506.07 219.5,506.02 220.5,505.98 221.5,505.93 222.5,505.88 223.5,505.83 224.5,505.78 225.5,505.73 226.5,505.69 227.5,505.64 228.5,505.59 229.5,505.54 230.5,505.49 231.5,505.44 232.5,505.39 233.5,505.33 234.5,505.28 235.5,505.23 236.5,505.18 237.5,505.13 238.5,505.08 239.5,505.02 240.5,504.97 241.5,504.92 242.5,504.86 243.5,504.81 244.5,504.76 245.5,504.70 246.5,504.65 247.5,504.59 248.5,504.54 249.5,504.48 250.5,504.42 251.5,504.37 252.5,504.31 253.5,504.25 254.5,504.20 255.5,504.14 256.5,504.08 257.5,504.02 258.5,503.96 259.5,503.90 260.5,503.84 261.5,503.78 262.5,503.72 263.5,503.66 264.5,503.60 265.5,503.54 266.5,503.47 267.5,503.41 268.5,503.35 269.5,503.29 270.5,503.22 271.5,503.16 272.5,503.10 273.5,503.04 274.5,502.97 275.5,502.91 276.5,502.85 277.5,502.79 278.5,502.73 279.5,502.66 280.5,502.60 281.5,502.54 282.5,502.49 283.5,502.43 284.5,502.37 285.5,502.31 286.5,502.25 287.5,502.20 288.5,502.14 289.5,502.09 290.5,502.03 291.5,501.98 292.5,501.92 293.5,501.87 294.5,501.81 295.5,501.76 296.5,501.71 297.5,501.65 298.5,501.60 299.5,501.55 300.5,501.50 301.5,501.45 302.5,501.40 303.5,501.34 304.5,501.29 305.5,501.24 306.5,501.19 307.5,501.14 308.5,501.09 309.5,501.04 310.5,501.00 311.5,500.95 312.5,500.90 313.5,500.85 314.5,500.80 315.5,500.75 316.5,500.71 317.5,500.66 318.5,500.61 319.5,500.57 320.5,500.52 321.5,500.48 322.5,500.43 323.5,500.39 324.5,500.34 325.5,500.30 326.5,500.25 327.5,500.21 328.5,500.16 329.5,500.12 330.5,500.08 331.5,500.04 332.5,499.99 333.5,499.95 334.5,499.91 335.5,499.87 336.5,499.83 337.5,499.79 338.5,499.75 339.5,499.71 340.5,499.67 341.5,499.63 342.5,499.59 343.5,499.56 344.5,499.52 345.5,499.48 346.5,499.44 347.5,499.40 348.5,499.37 349.5,499.33 350.5,499.29 351.5,499.25 352.5,499.22 353.5,499.18 354.5,499.14 355.5,499.10 356.5,499.07 357.5,499.03 358.5,498.99 359.5,498.95 360.5,498.91 361.5,498.88 362.5,498.84 363.5,498.80 364.5,498.76 365.5,498.72 366.5,498.68 367.5,498.64 368.5,498.60 369.5,498.56 370.5,498.52 371.5,498.47 372.5,498.43 373.5,498.39 374.5,498.34 375.5,498.30 376.5,498.26 377.5,498.21 378.5,498.16 379.5,498.12 380.5,498.07 381.5,498.02 382.5,497.98 383.5,497.93 384.5,497.88 385.5,497.83 386.5,497.78 387.5,497.73 388.5,497.68 389.5,497.63 390.5,497.58 391.5,497.53 392.5,497.48 393.5,497.43 394.5,497.38 395.5,497.33 396.5,497.28 397.5,497.22 398.5,497.17 399.5,497.12 400.5,497.07 401.5,497.02 402.5,496.96 403.5,496.91 404.5,496.86 405.5,496.81 406.5,496.75 407.5,496.70 408.5,496.65 409.5,496.59 410.5,496.54 411.5,496.49 412.5,496.44 413.5,496.38 414.5,496.33 415.5,496.28 416.5,496.23 417.5,496.18 418.5,496.13 419.5,496.07 420.5,496.02 421.5,495.97 422.5,495.92 423.5,495.87 424.5,495.82 425.5,495.77 426.5,495.72 427.5,495.67 428.5,495.62 429.5,495.57 430.5,495.52 431.5,495.47 432.5,495.42 433.5,495.37 434.5,495.32 435.5,495.27 436.5,495.22 437.5,495.17 438.5,495.12 439.5,495.07 440.5,495.03 441.5,494.98 442.5,494.93 443.5,494.89 444.5,494.84 445.5,494.79 446.5,494.75 447.5,494.70 448.5,494.65 449.5,494.61 450.5,494.56 451.5,494.52 452.5,494.47 453.5,494.43 454.5,494.38 455.5,494.34 456.5,494.30 457.5,494.25 458.5,494.21 459.5,494.16 460.5,494.12 461.5,494.08 462.5,494.03 463.5,493.99 464.5,493.95 465.5,493.91 466.5,493.86 467.5,493.82 468.5,493.78 469.5,493.73 470.5,493.69 471.5,493.65 472.5,493.61 473.5,493.56 474.5,493.52 475.5,493.48 476.5,493.44 477.5,493.39 478.5,493.35 479.5,493.30 480.5,493.26 481.5,493.22 482.5,493.17 483.5,493.12 484.5,493.08 485.5,493.03 486.5,492.99 487.5,492.94 488.5,492.89 489.5,492.84 490.5,492.80 491.5,492.75 492.5,492.70 493.5,492.65 494.5,492.60 495.5,492.56 496.5,492.51 497.5,492.46 498.5,492.41 499.5,492.36 500.5,492.31 501.5,492.27 502.5,492.22 503.5,492.17 504.5,492.12 505.5,492.08 506.5,492.03 507.5,491.98 508.5,491.93 509.5,491.89 510.5,491.84 511.5,491.80 512.5,491.75 513.5,491.71 514.5,491.66 515.5,491.62 516.5,491.58 517.5,491.53 518.5,491.49 519.5,491.45 520.5,491.41 521.5,491.37 522.5,491.33 523.5,491.29 524.5,491.25 525.5,491.21 526.5,491.17 527.5,491.13 528.5,491.10 529.5,491.06 530.5,491.02 531.5,490.98 532.5,490.95 533.5,490.91 534.5,490.87 535.5,490.84 536.5,490.80 537.5,490.77 538.5,490.73 539.5,490.69 540.5,490.66 541.5,490.62 542.5,490.59 543.5,490.55 544.5,490.52 545.5,490.48 546.5,490.45 547.5,490.41 548.5,490.38 549.5,490.34 550.5,490.31 551.5,490.27 552.5,490.24 553.5,490.20 554.5,490.17 555.5,490.13 556.5,490.10 557.5,490.06 558.5,490.03 559.5,489.99 560.5,489.95 561.5,489.92 562.5,489.88 563.5,489.85 564.5,489.81 565.5,489.77 566.5,489.74 567.5,489.70 568.5,489.66 569.5,489.63 570.5,489.59 571.5,489.55 572.5,489.51 573.5,489.48 574.5,489.44 575.5,489.40 576.5,489.37 577.5,489.33 578.5,489.29 579.5,489.25 580.5,489.22" stroke="#88a000" stroke-width="1"/>
<polyline points="590,488.50 600,488.50" stroke="#88a000" stroke-width="1"/>
<rect x="479.5" y="491.5" width="5" height="5" fill="#fff" stroke="#88a000"/>
<polyline points="82.5,488.66 83.5,488.57 84.5,488.49 85.5,488.40 86.5,488.32 87.5,488.23 88.5,488.14 89.5,488.06 90.5,487.97 91.5,487.89 92.5,487.80 93.5,487.72 94.5,487.63 95.5,487.55 96.5,487.46 97.5,487.38 98.5,487.30 99.5,487.21 100.5,487.13 101.5,487.04 102.5,486.96 103.5,486.88 104.5,486.79 105.5,486.71 106.5,486.63 107.5,486.54 108.5,486.46 109.5,486.38 110.5,486.30 111.5,486.21 112.5,486.13 113.5,486.05 114.5,485.96 115.5,485.88 116.5,485.80 117.5,485.72 118.5,485.63 119.5,485.55 120.5,485.47 121.5,485.39 122.5,485.31 123.5,485.23 124.5,485.15 125.5,485.07 126.5,484.99 127.5,484.91 128.5,484.84 129.5,484.76 130.5,484.68 131.5,484.60 132.5,484.53 133.5,484.45 134.5,484.37 135.5,484.30 136.5,484.22 137.5,484.14 138.5,484.07 139.5,483.99 140.5,483.92 141.5,483.85 142.5,483.77 143.5,483.70 144.5,483.63 145.5,483.55 146.5,483.48 147.5,483.41 148.5,483.34 149.5,483.27 150.5,483.20 151.5,483.13 152.5,483.06 153.5,482.98 154.5,482.91 155.5,482.84 156.5,482.77 157.5,482.70 158.5,482.62 159.5,482.55 160.5,482.47 161.5,482.40 162.5,482.33 163.5,482.25 164.5,482.18 165.5,482.10 166.5,482.02 167.5,481.95 168.5,481.87 169.5,481.80 170.5,481.72 171.5,481.65 172.5,481.57 173.5,481.49 174.5,481.42 175.5,481.34 176.5,481.27 177.5,481.19 178.5,481.11 179.5,481.04 180.5,480.96 181.5,480.88 182.5,480.81 183.5,480.73 184.5,480.65 185.5,480.58 186.5,480.50 187.5,480.42" stroke="#343f4c" stroke-width="1" stroke-dasharray="15 9"/>
<polyline points="187.5,480.42 188.5,480.34 189.5,480.27 190.5,480.19 191.5,480.11 192.5,480.04 193.5,479.96 194.5,479.89 195.5,479.81 196.5,479.73 197.5,479.66 198.5,479.58 199.5,479.51 200.5,479.43 201.5,479.36 202.5,479.28 203.5,479.21 204.5,479.13 205.5,479.05 206.5,478.98 207.5,478.90 208.5,478.83 209.5,478.75 210.5,478.68 211.5,478.60 212.5,478.53 213.5,478.45 214.5,478.37 215.5,478.30 216.5,478.22 217.5,478.15 218.5,478.07 219.5,477.99 220.5,477.92 221.5,477.84 222.5,477.76 223.5,477.68 224.5,477.61 225.5,477.53 226.5,477.45 227.5,477.37 228.5,477.29 229.5,477.21 230.5,477.13 231.5,477.05 232.5,476.97 233.5,476.89 234.5,476.81 235.5,476.73 236.5,476.65 237.5,476.57 238.5,476.48 239.5,476.40 240.5,476.32 241.5,476.23 242.5,476.15 243.5,476.06 244.5,475.98 245.5,475.89 246.5,475.81 247.5,475.72 248.5,475.63 249.5,475.55 250.5,475.46 251.5,475.37 252.5,475.28 253.5,475.19 254.5,475.10 255.5,475.01 256.5,474.91 257.5,474.82 258.5,474.73 259.5,474.64 260.5,474.54 261.5,474.45 262.5,474.35 263.5,474.25 264.5,474.16 265.5,474.06 266.5,473.96 267.5,473.86 268.5,473.76 269.5,473.66 270.5,473.56 271.5,473.46 272.5,473.36 273.5,473.26 274.5,473.16 275.5,473.06 276.5,472.96 277.5,472.86 278.5,472.76 279.5,472.66 280.5,472.56 281.5,472.46 282.5,472.36 283.5,472.26 284.5,472.16 285.5,472.06 286.5,471.97 287.5,471.87 288.5,471.77 289.5,471.67 290.5,471.58 291.5,471.48 292.5,471.38 293.5,471.28 294.5,471.19 295.5,471.09 296.5,470.99 297.5,470.89 298.5,470.80 299.5,470.70 300.5,470.60 301.5,470.50 302.5,470.40 303.5,470.30 304.5,470.20 305.5,470.10 306.5,470.00 307.5,469.90 308.5,469.80 309.5,469.70 310.5,469.60 311.5,469.50 312.5,469.39 313.5,469.29 314.5,469.19 315.5,469.09 316.5,468.98 317.5,468.88 318.5,468.78 319.5,468.67 320.5,468.57 321.5,468.46 322.5,468.36 323.5,468.25 324.5,468.15 325.5,468.04 326.5,467.93 327.5,467.83 328.5,467.72 329.5,467.61 330.5,467.51 331.5,467.40 332.5,467.29 333.5,467.18 334.5,467.08 335.5,466.97 336.5,466.86 337.5,466.75 338.5,466.64 339.5,466.53 340.5,466.42 341.5,466.31 342.5,466.20 343.5,466.09 344.5,465.98 345.5,465.87 346.5,465.76 347.5,465.65 348.5,465.53 349.5,465.42 350.5,465.31 351.5,465.20 352.5,465.09 353.5,464.98 354.5,464.87 355.5,464.76 356.5,464.65 357.5,464.54 358.5,464.43 359.5,464.32 360.5,464.21 361.5,464.10 362.5,463.99 363.5,463.88 364.5,463.77 365.5,463.66 366.5,463.55 367.5,463.44 368.5,463.33 369.5,463.23 370.5,463.12 371.5,463.01 372.5,462.91 373.5,462.80 374.5,462.70 375.5,462.59 376.5,462.49 377.5,462.39 378.5,462.28 379.5,462.18 380.5,462.08 381.5,461.98 382.5,461.88 383.5,461.79 384.5,461.69 385.5,461.59 386.5,461.50 387.5,461.40 388.5,461.31 389.5,461.21 390.5,461.12 391.5,461.02 392.5,460.93 393.5,460.84 394.5,460.75 395.5,460.65 396.5,460.56 397.5,460.47 398.5,460.38 399.5,460.29 400.5,460.19 401.5,460.10 402.5,460.01 403.5,459.92 404.5,459.83 405.5,459.73 406.5,459.64 407.5,459.55 408.5,459.46 409.5,459.36 410.5,459.27 411.5,459.17 412.5,459.08 413.5,458.98 414.5,458.89 415.5,458.79 416.5,458.69 417.5,458.59 418.5,458.50 419.5,458.40 420.5,458.30 421.5,458.20 422.5,458.10 423.5,458.00 424.5,457.90 425.5,457.80 426.5,457.69 427.5,457.59 428.5,457.49 429.5,457.38 430.5,457.28 431.5,457.18 432.5,457.07 433.5,456.97 434.5,456.86 435.5,456.75 436.5,456.65 437.5,456.54 438.5,456.43 439.5,456.32 440.5,456.21 441.5,456.10 442.5,455.99 443.5,455.88 444.5,455.77 445.5,455.66 446.5,455.55 447.5,455.44 448.5,455.32 449.5,455.21 450.5,455.10 451.5,454.98 452.5,454.87 453.5,454.76 454.5,454.64 455.5,454.52 456.5,454.41 457.5,454.29 458.5,454.18 459.5,454.06 460.5,453.94 461.5,453.83 462.5,453.71 463.5,453.59 464.5,453.47 465.5,453.36 466.5,453.24 467.5,453.12 468.5,453.00 469.5,452.88 470.5,452.77 471.5,452.65 472.5,452.53 473.5,452.41 474.5,452.29 475.5,452.18 476.5,452.06 477.5,451.94 478.5,451.82 479.5,451.70 480.5,451.59 481.5,451.47 482.5,451.35 483.5,451.23 484.5,451.11 485.5,451.00 486.5,450.88 487.5,450.76 488.5,450.65 489.5,450.53 490.5,450.41 491.5,450.30 492.5,450.18 493.5,450.07 494.5,449.95 495.5,449.83 496.5,449.72 497.5,449.60 498.5,449.49 499.5,449.37 500.5,449.26 501.5,449.14 502.5,449.03 503.5,448.91 504.5,448.80 505.5,448.69 506.5,448.57 507.5,448.46 508.5,448.35 509.5,448.23 510.5,448.12 511.5,448.01 512.5,447.89 513.5,447.78 514.5,447.67 515.5,447.56 516.5,447.45 517.5,447.34 518.5,447.22 519.5,447.11 520.5,447.00 521.5,446.89 522.5,446.78 523.5,446.67 524.5,446.56 525.5,446.45 526.5,446.34 527.5,446.24 528.5,446.13 529.5,446.02 530.5,445.91 531.5,445.80 532.5,445.70 533.5,445.59 534.5,445.48 535.5,445.37 536.5,445.27 537.5,445.16 538.5,445.06 539.5,444.95 540.5,444.84 541.5,444.74 542.5,444.63 543.5,444.53 544.5,444.43 545.5,444.32 546.5,444.22 547.5,444.12 548.5,444.01 549.5,443.91 550.5,443.81 551.5,443.71 552.5,443.60 553.5,443.50 554.5,443.40 555.5,443.30 556.5,443.20 557.5,443.10 558.5,443.00 559.5,442.90 560.5,442.80 561.5,442.70 562.5,442.60 563.5,442.51 564.5,442.41 565.5,442.31 566.5,442.21 567.5,442.12 568.5,442.02 569.5,441.92 570.5,441.83 571.5,441.73 572.5,441.64 573.5,441.54 574.5,441.45 575.5,441.35 576.5,441.26 577.5,441.17 578.5,441.07 579.5,440.98 580.5,440.89 581.5,440.80 582.5,440.70 583.5,440.61 584.5,440.52 585.5,440.43 586.5,440.34 587.5,440.25 588.5,440.16 589.5,440.07 590.5,439.98 591.5,439.89 592.5,439.81 593.5,439.72 594.5,439.63 595.5,439.54 596.5,439.45 597.5,439.37 598.5,439.28 599.5,439.19 600.5,439.11 601.5,439.02 602.5,438.93 603.5,438.85 604.5,438.76 605.5,438.68 606.5,438.59 607.5,438.50 608.5,438.42 609.5,438.33 610.5,438.25 611.5,438.16 612.5,438.08 613.5,437.99 614.5,437.91 615.5,437.82 616.5,437.74 617.5,437.65 618.5,437.57 619.5,437.48 620.5,437.40 621.5,437.32 622.5,437.23 623.5,437.15 624.5,437.06 625.5,436.98 626.5,436.89 627.5,436.81 628.5,436.72 629.5,436.64 630.5,436.55 631.5,436.47 632.5,436.38 633.5,436.30 634.5,436.21 635.5,436.13 636.5,436.04 637.5,435.96 638.5,435.87 639.5,435.78 640.5,435.70 641.5,435.61 642.5,435.52 643.5,435.44 644.5,435.35 645.5,435.26 646.5,435.17 647.5,435.09 648.5,435.00 649.5,434.91 650.5,434.82 651.5,434.73 652.5,434.64 653.5,434.55 654.5,434.46 655.5,434.36 656.5,434.27 657.5,434.18 658.5,434.09 659.5,433.99 660.5,433.90 661.5,433.80 662.5,433.71 663.5,433.61 664.5,433.51 665.5,433.42 666.5,433.32 667.5,433.22 668.5,433.12 669.5,433.02 670.5,432.92 671.5,432.82 672.5,432.72 673.5,432.61 674.5,432.51 675.5,432.41 676.5,432.31 677.5,432.20 678.5,432.10 679.5,431.99 680.5,431.89 681.5,431.79 682.5,431.69 683.5,431.58 684.5,431.48 685.5,431.38 686.5,431.28 687.5,431.18 688.5,431.08 689.5,430.98 690.5,430.89 691.5,430.79 692.5,430.70 693.5,430.60 694.5,430.51 695.5,430.42 696.5,430.33 697.5,430.24 698.5,430.15 699.5,430.06 700.5,429.98 701.5,429.89 702.5,429.81 703.5,429.72 704.5,429.64 705.5,429.56 706.5,429.48 707.5,429.40 708.5,429.32 709.5,429.24 710.5,429.16 711.5,429.09 712.5,429.01 713.5,428.93 714.5,428.86 715.5,428.78 716.5,428.71 717.5,428.63 718.5,428.56 719.5,428.48 720.5,428.41 721.5,428.33 722.5,428.26 723.5,428.18 724.5,428.11 725.5,428.03 726.5,427.96 727.5,427.88 728.5,427.81 729.5,427.73 730.5,427.65 731.5,427.58 732.5,427.50 733.5,427.42 734.5,427.34 735.5,427.27" stroke="#343f4c" stroke-width="2"/>
<polyline points="735.5,427.27 736.5,427.19 737.5,427.11 738.5,427.03 739.5,426.95 740.5,426.87 741.5,426.79 742,426.75" stroke="#343f4c" stroke-width="1"/>
<polyline points="82.5,662.93 83.5,662.45 84.5,661.97 85.5,661.49 86.5,661.01 87.5,660.53 88.5,660.05 89.5,659.57 90.5,659.09 91.5,658.61 92.5,658.13 93.5,657.65 94.5,657.18 95.5,656.70 96.5,656.22 97.5,655.74 98.5,655.27 99.5,654.79 100.5,654.32 101.5,653.84 102.5,653.37 103.5,652.90 104.5,652.43 105.5,651.96 106.5,651.49 107.5,651.02 108.5,650.56 109.5,650.09 110.5,649.62 111.5,649.16 112.5,648.69 113.5,648.23 114.5,647.76 115.5,647.29 116.5,646.83 117.5,646.36 118.5,645.90 119.5,645.43 120.5,644.97 121.5,644.51 122.5,644.04 123.5,643.58 124.5,643.12 125.5,642.66 126.5,642.20 127.5,641.75 128.5,641.29 129.5,640.84 130.5,640.38 131.5,639.93 132.5,639.47 133.5,639.02 134.5,638.57 135.5,638.11 136.5,637.66 137.5,637.20 138.5,636.75 139.5,636.30 140.5,635.84 141.5,635.38 142.5,634.93 143.5,634.47 144.5,634.02 145.5,633.56 146.5,633.10 147.5,632.65 148.5,632.19 149.5,631.73 150.5,631.27 151.5,630.81 152.5,630.35 153.5,629.89 154.5,629.43 155.5,628.97 156.5,628.51 157.5,628.06 158.5,627.60 159.5,627.14 160.5,626.69 161.5,626.24 162.5,625.78 163.5,625.34 164.5,624.89 165.5,624.44 166.5,624.00 167.5,623.56 168.5,623.12 169.5,622.69 170.5,622.26 171.5,621.83 172.5,621.41 173.5,620.99 174.5,620.57 175.5,620.16 176.5,619.75 177.5,619.34 178.5,618.94 179.5,618.54 180.5,618.14 181.5,617.75 182.5,617.36" stroke="#2e00a0" stroke-width="1" stroke-dasharray="15 9"/>
<polyline points="182.5,617.36 183.5,616.97 184.5,616.58 185.5,616.20 186.5,615.82 187.5,615.45 188.5,615.07 189.5,614.70 190.5,614.33 191.5,613.97 192.5,613.61 193.5,613.25 194.5,612.89 195.5,612.54 196.5,612.18 197.5,611.83 198.5,611.49 199.5,611.14 200.5,610.80 201.5,610.46 202.5,610.12 203.5,609.78 204.5,609.44 205.5,609.11 206.5,608.78 207.5,608.45 208.5,608.12 209.5,607.79 210.5,607.47 211.5,607.14 212.5,606.82 213.5,606.50 214.5,606.17 215.5,605.85 216.5,605.54 217.5,605.22 218.5,604.90 219.5,604.58 220.5,604.27 221.5,603.95 222.5,603.64 223.5,603.33 224.5,603.01 225.5,602.70 226.5,602.39 227.5,602.07 228.5,601.76 229.5,601.45 230.5,601.14 231.5,600.82 232.5,600.51 233.5,600.20 234.5,599.89 235.5,599.57 236.5,599.26 237.5,598.95 238.5,598.64 239.5,598.33 240.5,598.02 241.5,597.70 242.5,597.39 243.5,597.08 244.5,596.77 245.5,596.46 246.5,596.15 247.5,595.84 248.5,595.53 249.5,595.22 250.5,594.91 251.5,594.60 252.5,594.29 253.5,593.98 254.5,593.67 255.5,593.37 256.5,593.06 257.5,592.76 258.5,592.46 259.5,592.15 260.5,591.85 261.5,591.55 262.5,591.25 263.5,590.96 264.5,590.66 265.5,590.37 266.5,590.07 267.5,589.78 268.5,589.49 269.5,589.20 270.5,588.92 271.5,588.63 272.5,588.34 273.5,588.06 274.5,587.78 275.5,587.50 276.5,587.22 277.5,586.94 278.5,586.66 279.5,586.39 280.5,586.11 281.5,585.84 282.5,585.57 283.5,585.29 284.5,585.02 285.5,584.75 286.5,584.49 287.5,584.22 288.5,583.95 289.5,583.69 290.5,583.42 291.5,583.16 292.5,582.90 293.5,582.64 294.5,582.38 295.5,582.12 296.5,581.86 297.5,581.60 298.5,581.35 299.5,581.09 300.5,580.84 301.5,580.59 302.5,580.34 303.5,580.10 304.5,579.86 305.5,579.61 306.5,579.38 307.5,579.14 308.5,578.90 309.5,578.67 310.5,578.44 311.5,578.21 312.5,577.98 313.5,577.76 314.5,577.53 315.5,577.31 316.5,577.09 317.5,576.87 318.5,576.66 319.5,576.44 320.5,576.23 321.5,576.02 322.5,575.81 323.5,575.60 324.5,575.39 325.5,575.18 326.5,574.98 327.5,574.78 328.5,574.57 329.5,574.37 330.5,574.17 331.5,573.97 332.5,573.78 333.5,573.58 334.5,573.38 335.5,573.19 336.5,573.00 337.5,572.80 338.5,572.61 339.5,572.42 340.5,572.23 341.5,572.04 342.5,571.85 343.5,571.67 344.5,571.48 345.5,571.29 346.5,571.11 347.5,570.92 348.5,570.74 349.5,570.56 350.5,570.37 351.5,570.19 352.5,570.01 353.5,569.83 354.5,569.64 355.5,569.46 356.5,569.28 357.5,569.10 358.5,568.92 359.5,568.74 360.5,568.56 361.5,568.39 362.5,568.21 363.5,568.03 364.5,567.85 365.5,567.68 366.5,567.50 367.5,567.33 368.5,567.16 369.5,566.99 370.5,566.82 371.5,566.65 372.5,566.48 373.5,566.31 374.5,566.14 375.5,565.98 376.5,565.81 377.5,565.65 378.5,565.49 379.5,565.33 380.5,565.17 381.5,565.01 382.5,564.85 383.5,564.69 384.5,564.54 385.5,564.38 386.5,564.23 387.5,564.07 388.5,563.92 389.5,563.77 390.5,563.62 391.5,563.47 392.5,563.33 393.5,563.18 394.5,563.03 395.5,562.89 396.5,562.74 397.5,562.60 398.5,562.46 399.5,562.31 400.5,562.17 401.5,562.03 402.5,561.89 403.5,561.76 404.5,561.62 405.5,561.48 406.5,561.35 407.5,561.21 408.5,561.08 409.5,560.94 410.5,560.81 411.5,560.68 412.5,560.54 413.5,560.41 414.5,560.28 415.5,560.15 416.5,560.03 417.5,559.90 418.5,559.77 419.5,559.65 420.5,559.52 421.5,559.40 422.5,559.28 423.5,559.15 424.5,559.03 425.5,558.91 426.5,558.79 427.5,558.68 428.5,558.56 429.5,558.44 430.5,558.33 431.5,558.22 432.5,558.10 433.5,557.99 434.5,557.88 435.5,557.77 436.5,557.67 437.5,557.56 438.5,557.46 439.5,557.35 440.5,557.25 441.5,557.15 442.5,557.05 443.5,556.95 444.5,556.85 445.5,556.76 446.5,556.66 447.5,556.57 448.5,556.48 449.5,556.39 450.5,556.30 451.5,556.21 452.5,556.12 453.5,556.04 454.5,555.95 455.5,555.87 456.5,555.79 457.5,555.71 458.5,555.62 459.5,555.54 460.5,555.46 461.5,555.38 462.5,555.30 463.5,555.22 464.5,555.15 465.5,555.07 466.5,554.99 467.5,554.91 468.5,554.83 469.5,554.76 470.5,554.68 471.5,554.60 472.5,554.52 473.5,554.44 474.5,554.36 475.5,554.28 476.5,554.21 477.5,554.13 478.5,554.05 479.5,553.97 480.5,553.89 481.5,553.80 482.5,553.72 483.5,553.64 484.5,553.57 485.5,553.49 486.5,553.41 487.5,553.33 488.5,553.25 489.5,553.17 490.5,553.10 491.5,553.02 492.5,552.94 493.5,552.87 494.5,552.80 495.5,552.72 496.5,552.65 497.5,552.58 498.5,552.51 499.5,552.45 500.5,552.38 501.5,552.31 502.5,552.25 503.5,552.19 504.5,552.13 505.5,552.07 506.5,552.01 507.5,551.95 508.5,551.90 509.5,551.84 510.5,551.79 511.5,551.74 512.5,551.69 513.5,551.64 514.5,551.59 515.5,551.55 516.5,551.50 517.5,551.46 518.5,551.42 519.5,551.38 520.5,551.34 521.5,551.31 522.5,551.27 523.5,551.24 524.5,551.20 525.5,551.17 526.5,551.14 527.5,551.11 528.5,551.09 529.5,551.06 530.5,551.03 531.5,551.01 532.5,550.99 533.5,550.97 534.5,550.95 535.5,550.93 536.5,550.91 537.5,550.89 538.5,550.87 539.5,550.86 540.5,550.85 541.5,550.83 542.5,550.82 543.5,550.81 544.5,550.80 545.5,550.79 546.5,550.78 547.5,550.77 548.5,550.77 549.5,550.76 550.5,550.76 551.5,550.75 552.5,550.75 553.5,550.75 554.5,550.75 555.5,550.74 556.5,550.74 557.5,550.74 558.5,550.74 559.5,550.75 560.5,550.75 561.5,550.75 562.5,550.75 563.5,550.76 564.5,550.76 565.5,550.77 566.5,550.77 567.5,550.78 568.5,550.79 569.5,550.79 570.5,550.80 571.5,550.81 572.5,550.82 573.5,550.82 574.5,550.83 575.5,550.84 576.5,550.85 577.5,550.86 578.5,550.87 579.5,550.88 580.5,550.89 581.5,550.90 582.5,550.91 583.5,550.93 584.5,550.94 585.5,550.95 586.5,550.96 587.5,550.97 588.5,550.98 589.5,550.99 590.5,551.01 591.5,551.02 592.5,551.03 593.5,551.04 594.5,551.05 595.5,551.07 596.5,551.08 597.5,551.09 598.5,551.10 599.5,551.12 600.5,551.13 601.5,551.14 602.5,551.16 603.5,551.17 604.5,551.19 605.5,551.20 606.5,551.21 607.5,551.23 608.5,551.24 609.5,551.26 610.5,551.27 611.5,551.29 612.5,551.30 613.5,551.32 614.5,551.33 615.5,551.35 616.5,551.36 617.5,551.38 618.5,551.40 619.5,551.41 620.5,551.43 621.5,551.45 622.5,551.46 623.5,551.48 624.5,551.50 625.5,551.52 626.5,551.54 627.5,551.55 628.5,551.57 629.5,551.59 630.5,551.61 631.5,551.63 632.5,551.65 633.5,551.67 634.5,551.69 635.5,551.71 636.5,551.73 637.5,551.75 638.5,551.77 639.5,551.79 640.5,551.82 641.5,551.84 642.5,551.86 643.5,551.88 644.5,551.91 645.5,551.93 646.5,551.95 647.5,551.98 648.5,552.00 649.5,552.03 650.5,552.05 651.5,552.08 652.5,552.10 653.5,552.13 654.5,552.15 655.5,552.18 656.5,552.21 657.5,552.23 658.5,552.26 659.5,552.29 660.5,552.32 661.5,552.34 662.5,552.37 663.5,552.40 664.5,552.43 665.5,552.46 666.5,552.49 667.5,552.52 668.5,552.55 669.5,552.58 670.5,552.61 671.5,552.64 672.5,552.67 673.5,552.71 674.5,552.74 675.5,552.77 676.5,552.80 677.5,552.84 678.5,552.87 679.5,552.90 680.5,552.94 681.5,552.97 682.5,553.01 683.5,553.04 684.5,553.08 685.5,553.11 686.5,553.15 687.5,553.18 688.5,553.22 689.5,553.26 690.5,553.30 691.5,553.34 692.5,553.38 693.5,553.42 694.5,553.46 695.5,553.50 696.5,553.54 697.5,553.58 698.5,553.63 699.5,553.67 700.5,553.72 701.5,553.76 702.5,553.81 703.5,553.86 704.5,553.90 705.5,553.95 706.5,554.00 707.5,554.04 708,554.07" stroke="#2e00a0" stroke-width="1"/>
<polyline points="717,554.50 718,554.50" stroke="#2e00a0" stroke-width="1"/>
<rect x="583.5" y="548.5" width="5" height="5" fill="#fff" stroke="#2e00a0"/>
<polyline points="82.5,663.09 83.5,662.57 84.5,662.05 85.5,661.53 86.5,661.01 87.5,660.49 88.5,659.97 89.5,659.45 90.5,658.92 91.5,658.40 92.5,657.88 93.5,657.36 94.5,656.84 95.5,656.31 96.5,655.79 97.5,655.27 98.5,654.74 99.5,654.22 100.5,653.69 101.5,653.17 102.5,652.64 103.5,652.12 104.5,651.59 105.5,651.07 106.5,650.55 107.5,650.02 108.5,649.50 109.5,648.98 110.5,648.46 111.5,647.93 112.5,647.41 113.5,646.89 114.5,646.37 115.5,645.85 116.5,645.33 117.5,644.82 118.5,644.30 119.5,643.78 120.5,643.27 121.5,642.76 122.5,642.25 123.5,641.74 124.5,641.24 125.5,640.74 126.5,640.24 127.5,639.75 128.5,639.25 129.5,638.76 130.5,638.28 131.5,637.79 132.5,637.31 133.5,636.83 134.5,636.35 135.5,635.87 136.5,635.39 137.5,634.92 138.5,634.44 139.5,633.97 140.5,633.50 141.5,633.02 142.5,632.55 143.5,632.08 144.5,631.62 145.5,631.15 146.5,630.68 147.5,630.22 148.5,629.76 149.5,629.29 150.5,628.84 151.5,628.38 152.5,627.92 153.5,627.47 154.5,627.01 155.5,626.56 156.5,626.10 157.5,625.65 158.5,625.20 159.5,624.75 160.5,624.30 161.5,623.85 162.5,623.40 163.5,622.95 164.5,622.50 165.5,622.05 166.5,621.60 167.5,621.16 168.5,620.71 169.5,620.27 170.5,619.83 171.5,619.39 172.5,618.96 173.5,618.53 174.5,618.10 175.5,617.68 176.5,617.25 177.5,616.83 178.5,616.42 179.5,616.00 180.5,615.59 181.5,615.19" stroke="#9c0078" stroke-width="1" stroke-dasharray="15 9"/>
<polyline points="181.5,615.19 182.5,614.78 183.5,614.38 184.5,613.98 185.5,613.59 186.5,613.19 187.5,612.80 188.5,612.41 189.5,612.02 190.5,611.63 191.5,611.24 192.5,610.85 193.5,610.47 194.5,610.08 195.5,609.70 196.5,609.31 197.5,608.93 198.5,608.55 199.5,608.17 200.5,607.79 201.5,607.41 202.5,607.04 203.5,606.66 204.5,606.29 205.5,605.91 206.5,605.54 207.5,605.17 208.5,604.80 209.5,604.43 210.5,604.07 211.5,603.70 212.5,603.34 213.5,602.97 214.5,602.61 215.5,602.25 216.5,601.89 217.5,601.54 218.5,601.18 219.5,600.83 220.5,600.47 221.5,600.12 222.5,599.77 223.5,599.43 224.5,599.08 225.5,598.74 226.5,598.40 227.5,598.06 228.5,597.72 229.5,597.38 230.5,597.05 231.5,596.72 232.5,596.38 233.5,596.06 234.5,595.73 235.5,595.41 236.5,595.08 237.5,594.76 238.5,594.44 239.5,594.13 240.5,593.81 241.5,593.50 242.5,593.19 243.5,592.88 244.5,592.57 245.5,592.26 246.5,591.95 247.5,591.65 248.5,591.35 249.5,591.05 250.5,590.75 251.5,590.45 252.5,590.16 253.5,589.87 254.5,589.58 255.5,589.29 256.5,589.00 257.5,588.71 258.5,588.43 259.5,588.15 260.5,587.87 261.5,587.59 262.5,587.32 263.5,587.04 264.5,586.77 265.5,586.50 266.5,586.23 267.5,585.97 268.5,585.70 269.5,585.44 270.5,585.18 271.5,584.92 272.5,584.67 273.5,584.41 274.5,584.16 275.5,583.90 276.5,583.65 277.5,583.40 278.5,583.15 279.5,582.90 280.5,582.66 281.5,582.41 282.5,582.16 283.5,581.92 284.5,581.68 285.5,581.43 286.5,581.19 287.5,580.95 288.5,580.71 289.5,580.47 290.5,580.22 291.5,579.98 292.5,579.74 293.5,579.50 294.5,579.26 295.5,579.02 296.5,578.78 297.5,578.54 298.5,578.30 299.5,578.06 300.5,577.83 301.5,577.59 302.5,577.35 303.5,577.11 304.5,576.88 305.5,576.64 306.5,576.41 307.5,576.17 308.5,575.94 309.5,575.71 310.5,575.47 311.5,575.24 312.5,575.01 313.5,574.78 314.5,574.56 315.5,574.33 316.5,574.10 317.5,573.88 318.5,573.65 319.5,573.43 320.5,573.21 321.5,572.98 322.5,572.76 323.5,572.54 324.5,572.33 325.5,572.11 326.5,571.89 327.5,571.68 328.5,571.46 329.5,571.25 330.5,571.04 331.5,570.83 332.5,570.62 333.5,570.41 334.5,570.20 335.5,569.99 336.5,569.79 337.5,569.59 338.5,569.38 339.5,569.18 340.5,568.98 341.5,568.79 342.5,568.59 343.5,568.39 344.5,568.20 345.5,568.00 346.5,567.81 347.5,567.62 348.5,567.43 349.5,567.24 350.5,567.05 351.5,566.86 352.5,566.68 353.5,566.49 354.5,566.31 355.5,566.13 356.5,565.94 357.5,565.76 358.5,565.58 359.5,565.41 360.5,565.23 361.5,565.05 362.5,564.88 363.5,564.70 364.5,564.53 365.5,564.36 366.5,564.19 367.5,564.02 368.5,563.85 369.5,563.68 370.5,563.52 371.5,563.35 372.5,563.19 373.5,563.03 374.5,562.87 375.5,562.71 376.5,562.55 377.5,562.40 378.5,562.25 379.5,562.09 380.5,561.94 381.5,561.79 382.5,561.65 383.5,561.50 384.5,561.35 385.5,561.21 386.5,561.07 387.5,560.93 388.5,560.79 389.5,560.65 390.5,560.52 391.5,560.39 392.5,560.25 393.5,560.12 394.5,559.99 395.5,559.87 396.5,559.74 397.5,559.62 398.5,559.50 399.5,559.38 400.5,559.26 401.5,559.14 402.5,559.03 403.5,558.91 404.5,558.80 405.5,558.69 406.5,558.58 407.5,558.48 408.5,558.37 409.5,558.27 410.5,558.17 411.5,558.07 412.5,557.97 413.5,557.88 414.5,557.78 415.5,557.69 416.5,557.60 417.5,557.51 418.5,557.42 419.5,557.34 420.5,557.25 421.5,557.17 422.5,557.08 423.5,557.00 424.5,556.92 425.5,556.84 426.5,556.76 427.5,556.68 428.5,556.60 429.5,556.53 430.5,556.45 431.5,556.37 432.5,556.29 433.5,556.22 434.5,556.14 435.5,556.06 436.5,555.98 437.5,555.90 438.5,555.82 439.5,555.74 440.5,555.66 441.5,555.58 442.5,555.50 443.5,555.42 444.5,555.33 445.5,555.25 446.5,555.16 447.5,555.08 448.5,554.99 449.5,554.90 450.5,554.81 451.5,554.71 452.5,554.62 453.5,554.53 454.5,554.43 455.5,554.34 456.5,554.24 457.5,554.15 458.5,554.06 459.5,553.96 460.5,553.87 461.5,553.77 462.5,553.68 463.5,553.59 464.5,553.50 465.5,553.40 466.5,553.31 467.5,553.22 468.5,553.14 469.5,553.05 470.5,552.96 471.5,552.88 472.5,552.80 473.5,552.72 474.5,552.64 475.5,552.57 476.5,552.49 477.5,552.42 478.5,552.35 479.5,552.28 480.5,552.22 481.5,552.15 482.5,552.09 483.5,552.03 484.5,551.97 485.5,551.92 486.5,551.86 487.5,551.81 488.5,551.76 489.5,551.71 490.5,551.66 491.5,551.62 492.5,551.57 493.5,551.53 494.5,551.49 495.5,551.45 496.5,551.41 497.5,551.37 498.5,551.34 499.5,551.31 500.5,551.27 501.5,551.24 502.5,551.21 503.5,551.19 504.5,551.16 505.5,551.13 506.5,551.11 507.5,551.09 508.5,551.07 509.5,551.04 510.5,551.03 511.5,551.01 512.5,550.99 513.5,550.97 514.5,550.96 515.5,550.95 516.5,550.93 517.5,550.92 518.5,550.91 519.5,550.90 520.5,550.89 521.5,550.88 522.5,550.88 523.5,550.87 524.5,550.86 525.5,550.86 526.5,550.86 527.5,550.85 528.5,550.85 529.5,550.85 530.5,550.85 531.5,550.85 532.5,550.85 533.5,550.85 534.5,550.85 535.5,550.85 536.5,550.85 537.5,550.86 538.5,550.86 539.5,550.87 540.5,550.87 541.5,550.87 542.5,550.88 543.5,550.89 544.5,550.89 545.5,550.90 546.5,550.90 547.5,550.91 548.5,550.92 549.5,550.93 550.5,550.93 551.5,550.94 552.5,550.95 553.5,550.96 554.5,550.97 555.5,550.97 556.5,550.98 557.5,550.99 558.5,551.00 559.5,551.01 560.5,551.02 561.5,551.03 562.5,551.04 563.5,551.05 564.5,551.06 565.5,551.07 566.5,551.08 567.5,551.09 568.5,551.11 569.5,551.12 570.5,551.13 571.5,551.14 572.5,551.15 573.5,551.17 574.5,551.18 575.5,551.19 576.5,551.21 577.5,551.22 578.5,551.24 579.5,551.25 580.5,551.27 581.5,551.28 582.5,551.30 583.5,551.32 584.5,551.33 585.5,551.35 586.5,551.37 587.5,551.39 588.5,551.41 589.5,551.43 590.5,551.45 591.5,551.47 592.5,551.49 593.5,551.51 594.5,551.53 595.5,551.55 596.5,551.57 597.5,551.60 598.5,551.62 599.5,551.64 600.5,551.67 601.5,551.69 602.5,551.72 603.5,551.74 604.5,551.77 605.5,551.79 606.5,551.82 607.5,551.85 608.5,551.88 609.5,551.91 610.5,551.93 611.5,551.96 612.5,551.99 613.5,552.02 614.5,552.05 615.5,552.08 616.5,552.11 617.5,552.14 618.5,552.17 619.5,552.20 620.5,552.23 621.5,552.26 622.5,552.29 623.5,552.32 624.5,552.36 625.5,552.39 626.5,552.42 627.5,552.46 628.5,552.49 629.5,552.52 630.5,552.56 631.5,552.60 632.5,552.63 633.5,552.67 634.5,552.71 635.5,552.75 636.5,552.79 637.5,552.84 638.5,552.88 639.5,552.92 640.5,552.97 641.5,553.02 642.5,553.07 643.5,553.12 644.5,553.17 645.5,553.22 646.5,553.27 647.5,553.32 648.5,553.38 649.5,553.43 650.5,553.49 651.5,553.55 652.5,553.60 653.5,553.66 654.5,553.72 655.5,553.78 656.5,553.84 657.5,553.90 658.5,553.96 659.5,554.02 660.5,554.09 661.5,554.15 662.5,554.21 663.5,554.27 664.5,554.34 665.3,554.39" stroke="#9c0078" stroke-width="1"/>
<rect x="548.5" y="548.5" width="5" height="5" fill="#fff" stroke="#9c0078"/>
<polyline points="82.5,663.11 83.5,662.59 84.5,662.06 85.5,661.54 86.5,661.02 87.5,660.49 88.5,659.97 89.5,659.45 90.5,658.92 91.5,658.40 92.5,657.87 93.5,657.35 94.5,656.82 95.5,656.29 96.5,655.76 97.5,655.23 98.5,654.71 99.5,654.18 100.5,653.65 101.5,653.12 102.5,652.59 103.5,652.06 104.5,651.53 105.5,651.00 106.5,650.47 107.5,649.94 108.5,649.41 109.5,648.88 110.5,648.36 111.5,647.83 112.5,647.30 113.5,646.78 114.5,646.25 115.5,645.73 116.5,645.20 117.5,644.68 118.5,644.16 119.5,643.64 120.5,643.12 121.5,642.60 122.5,642.09 123.5,641.58 124.5,641.07 125.5,640.57 126.5,640.07 127.5,639.58 128.5,639.08 129.5,638.60 130.5,638.11 131.5,637.62 132.5,637.14 133.5,636.66 134.5,636.19 135.5,635.71 136.5,635.24 137.5,634.76 138.5,634.29 139.5,633.82 140.5,633.35 141.5,632.88 142.5,632.41 143.5,631.95 144.5,631.48 145.5,631.01 146.5,630.55 147.5,630.08 148.5,629.62 149.5,629.16 150.5,628.69 151.5,628.23 152.5,627.76 153.5,627.30 154.5,626.83 155.5,626.37 156.5,625.90 157.5,625.43 158.5,624.96 159.5,624.49 160.5,624.01 161.5,623.54 162.5,623.06 163.5,622.57 164.5,622.09 165.5,621.61" stroke="#a52000" stroke-width="1" stroke-dasharray="15 9"/>
<polyline points="165.5,621.61 166.5,621.12 167.5,620.63 168.5,620.14 169.5,619.66 170.5,619.17 171.5,618.68 172.5,618.20 173.5,617.71 174.5,617.23 175.5,616.74 176.5,616.26 177.5,615.78 178.5,615.31 179.5,614.83 180.5,614.36 181.5,613.89 182.5,613.42 183.5,612.95 184.5,612.49 185.5,612.03 186.5,611.57 187.5,611.12 188.5,610.67 189.5,610.22 190.5,609.78 191.5,609.34 192.5,608.90 193.5,608.47 194.5,608.05 195.5,607.63 196.5,607.21 197.5,606.79 198.5,606.38 199.5,605.97 200.5,605.57 201.5,605.17 202.5,604.77 203.5,604.38 204.5,603.99 205.5,603.60 206.5,603.21 207.5,602.83 208.5,602.45 209.5,602.07 210.5,601.70 211.5,601.33 212.5,600.96 213.5,600.59 214.5,600.22 215.5,599.86 216.5,599.50 217.5,599.14 218.5,598.78 219.5,598.42 220.5,598.07 221.5,597.72 222.5,597.36 223.5,597.01 224.5,596.66 225.5,596.32 226.5,595.97 227.5,595.62 228.5,595.27 229.5,594.93 230.5,594.59 231.5,594.24 232.5,593.90 233.5,593.56 234.5,593.22 235.5,592.89 236.5,592.55 237.5,592.22 238.5,591.90 239.5,591.57 240.5,591.25 241.5,590.93 242.5,590.61 243.5,590.29 244.5,589.97 245.5,589.66 246.5,589.35 247.5,589.04 248.5,588.74 249.5,588.43 250.5,588.13 251.5,587.83 252.5,587.53 253.5,587.23 254.5,586.93 255.5,586.64 256.5,586.35 257.5,586.05 258.5,585.76 259.5,585.48 260.5,585.19 261.5,584.90 262.5,584.62 263.5,584.34 264.5,584.05 265.5,583.77 266.5,583.49 267.5,583.22 268.5,582.94 269.5,582.66 270.5,582.39 271.5,582.11 272.5,581.84 273.5,581.57 274.5,581.30 275.5,581.03 276.5,580.76 277.5,580.49 278.5,580.23 279.5,579.96 280.5,579.70 281.5,579.43 282.5,579.17 283.5,578.91 284.5,578.64 285.5,578.38 286.5,578.12 287.5,577.86 288.5,577.60 289.5,577.35 290.5,577.09 291.5,576.83 292.5,576.58 293.5,576.32 294.5,576.07 295.5,575.81 296.5,575.56 297.5,575.31 298.5,575.05 299.5,574.80 300.5,574.55 301.5,574.31 302.5,574.06 303.5,573.82 304.5,573.58 305.5,573.34 306.5,573.10 307.5,572.86 308.5,572.63 309.5,572.40 310.5,572.17 311.5,571.94 312.5,571.72 313.5,571.49 314.5,571.27 315.5,571.05 316.5,570.83 317.5,570.62 318.5,570.40 319.5,570.19 320.5,569.98 321.5,569.77 322.5,569.57 323.5,569.37 324.5,569.16 325.5,568.97 326.5,568.77 327.5,568.57 328.5,568.38 329.5,568.19 330.5,568.00 331.5,567.81 332.5,567.63 333.5,567.45 334.5,567.27 335.5,567.09 336.5,566.91 337.5,566.74 338.5,566.57 339.5,566.40 340.5,566.23 341.5,566.06 342.5,565.90 343.5,565.74 344.5,565.58 345.5,565.42 346.5,565.26 347.5,565.11 348.5,564.95 349.5,564.80 350.5,564.65 351.5,564.50 352.5,564.36 353.5,564.21 354.5,564.07 355.5,563.92 356.5,563.78 357.5,563.64 358.5,563.50 359.5,563.36 360.5,563.22 361.5,563.09 362.5,562.95 363.5,562.81 364.5,562.68 365.5,562.55 366.5,562.41 367.5,562.28 368.5,562.15 369.5,562.02 370.5,561.89 371.5,561.76 372.5,561.63 373.5,561.50 374.5,561.37 375.5,561.24 376.5,561.11 377.5,560.98 378.5,560.85 379.5,560.73 380.5,560.60 381.5,560.47 382.5,560.34 383.5,560.22 384.5,560.09 385.5,559.96 386.5,559.84 387.5,559.71 388.5,559.59 389.5,559.46 390.5,559.34 391.5,559.21 392.5,559.09 393.5,558.97 394.5,558.84 395.5,558.72 396.5,558.60 397.5,558.48 398.5,558.35 399.5,558.23 400.5,558.11 401.5,557.99 402.5,557.87 403.5,557.75 404.5,557.63 405.5,557.51 406.5,557.39 407.5,557.27 408.5,557.15 409.5,557.03 410.5,556.91 411.5,556.80 412.5,556.68 413.5,556.56 414.5,556.45 415.5,556.33 416.5,556.22 417.5,556.10 418.5,555.99 419.5,555.88 420.5,555.76 421.5,555.65 422.5,555.55 423.5,555.44 424.5,555.33 425.5,555.22 426.5,555.12 427.5,555.02 428.5,554.91 429.5,554.81 430.5,554.71 431.5,554.62 432.5,554.52 433.5,554.42 434.5,554.33 435.5,554.24 436.5,554.14 437.5,554.05 438.5,553.96 439.5,553.88 440.5,553.79 441.5,553.70 442.5,553.62 443.5,553.53 444.5,553.45 445.5,553.37 446.5,553.29 447.5,553.20 448.5,553.12 449.5,553.05 450.5,552.97 451.5,552.89 452.5,552.81 453.5,552.74 454.5,552.66 455.5,552.59 456.5,552.52 457.5,552.44 458.5,552.37 459.5,552.30 460.5,552.23 461.5,552.17 462.5,552.10 463.5,552.03 464.5,551.97 465.5,551.91 466.5,551.84 467.5,551.78 468.5,551.72 469.5,551.67 470.5,551.61 471.5,551.55 472.5,551.50 473.5,551.44 474.5,551.39 475.5,551.34 476.5,551.29 477.5,551.24 478.5,551.20 479.5,551.15 480.5,551.11 481.5,551.07 482.5,551.02 483.5,550.98 484.5,550.95 485.5,550.91 486.5,550.87 487.5,550.84 488.5,550.80 489.5,550.77 490.5,550.74 491.5,550.71 492.5,550.68 493.5,550.65 494.5,550.62 495.5,550.60 496.5,550.57 497.5,550.55 498.5,550.53 499.5,550.51 500.5,550.49 501.5,550.47 502.5,550.45 503.5,550.43 504.5,550.42 505.5,550.40 506.5,550.39 507.5,550.38 508.5,550.37 509.5,550.36 510.5,550.35 511.5,550.34 512.5,550.34 513.5,550.33 514.5,550.33 515.5,550.33 516.5,550.32 517.5,550.32 518.5,550.33 519.5,550.33 520.5,550.33 521.5,550.34 522.5,550.34 523.5,550.35 524.5,550.36 525.5,550.37 526.5,550.38 527.5,550.39 528.5,550.41 529.5,550.42 530.5,550.44 531.5,550.46 532.5,550.47 533.5,550.49 534.5,550.51 535.5,550.53 536.5,550.56 537.5,550.58 538.5,550.61 539.5,550.63 540.5,550.66 541.5,550.69 542.5,550.71 543.5,550.74 544.5,550.77 545.5,550.81 546.5,550.84 547.5,550.87 548.5,550.91 549.5,550.94 550.5,550.98 551.5,551.01 552.5,551.05 553.5,551.09 554.5,551.12 555.5,551.16 556.5,551.20 557.5,551.24 558.5,551.28 559.5,551.32 560.5,551.36 561.5,551.40 562.5,551.44 563.5,551.48 564.5,551.53 565.5,551.57 566.5,551.61 567.5,551.65 568.5,551.70 569.5,551.74 570.5,551.78 571.5,551.82 572.5,551.87 573.5,551.91 574.5,551.95 575.5,552.00 576.5,552.04 577.5,552.08 578.5,552.12 579.5,552.16 580.5,552.20 581.5,552.25 582.5,552.29 583.5,552.33 584.5,552.37 585.5,552.41 586.5,552.45 587.5,552.49 588.5,552.53 589.5,552.58 590.5,552.62 591.5,552.66 592.5,552.70 593.5,552.74 594.5,552.79 595.5,552.83 596.5,552.87 597.5,552.92 598.5,552.96 599.5,553.01 600.5,553.06 601.5,553.10 602.5,553.15 603.5,553.20 604.5,553.25 605.5,553.30 606.5,553.35 607.5,553.40 608.5,553.45 609.5,553.50 610.5,553.55 611.5,553.60 612.5,553.65 613.5,553.71 614.5,553.76 615.5,553.81 616.5,553.87 617.5,553.92 618.5,553.98 619.5,554.03 620.5,554.09 621.5,554.14 622.5,554.20 623.5,554.26 624.5,554.31 625.5,554.37 626.5,554.43 627.5,554.48 628.4,554.53" stroke="#a52000" stroke-width="1"/>
<polyline points="637.4,555.50 646.6,556.00" stroke="#a52000" stroke-width="1"/>
<rect x="519.5" y="548.5" width="5" height="5" fill="#fff" stroke="#a52000"/>
<polyline points="82.5,663.11 83.5,662.57 84.5,662.04 85.5,661.51 86.5,660.98 87.5,660.45 88.5,659.91 89.5,659.38 90.5,658.85 91.5,658.31 92.5,657.78 93.5,657.24 94.5,656.71 95.5,656.17 96.5,655.64 97.5,655.10 98.5,654.56 99.5,654.02 100.5,653.48 101.5,652.94 102.5,652.41 103.5,651.87 104.5,651.33 105.5,650.79 106.5,650.25 107.5,649.71 108.5,649.16 109.5,648.62 110.5,648.08 111.5,647.54 112.5,647.00 113.5,646.46 114.5,645.92 115.5,645.38 116.5,644.84 117.5,644.29 118.5,643.75 119.5,643.21 120.5,642.67 121.5,642.13 122.5,641.60 123.5,641.06 124.5,640.53 125.5,640.00 126.5,639.48 127.5,638.95 128.5,638.43 129.5,637.91 130.5,637.39 131.5,636.88 132.5,636.36 133.5,635.85 134.5,635.34 135.5,634.82 136.5,634.31 137.5,633.80 138.5,633.29 139.5,632.78 140.5,632.27 141.5,631.76 142.5,631.25 143.5,630.74 144.5,630.24 145.5,629.73 146.5,629.23 147.5,628.73 148.5,628.23 149.5,627.73 150.5,627.24 151.5,626.74 152.5,626.25 153.5,625.76 154.5,625.27 155.5,624.78 156.5,624.30 157.5,623.81 158.5,623.32 159.5,622.84" stroke="#88a000" stroke-width="1" stroke-dasharray="15 9"/>
<polyline points="159.5,622.84 160.5,622.36 161.5,621.87 162.5,621.39 163.5,620.91 164.5,620.43 165.5,619.95 166.5,619.47 167.5,618.99 168.5,618.52 169.5,618.04 170.5,617.57 171.5,617.10 172.5,616.63 173.5,616.16 174.5,615.70 175.5,615.23 176.5,614.77 177.5,614.31 178.5,613.85 179.5,613.40 180.5,612.94 181.5,612.49 182.5,612.04 183.5,611.59 184.5,611.15 185.5,610.71 186.5,610.27 187.5,609.84 188.5,609.40 189.5,608.97 190.5,608.55 191.5,608.12 192.5,607.70 193.5,607.29 194.5,606.87 195.5,606.46 196.5,606.05 197.5,605.65 198.5,605.25 199.5,604.85 200.5,604.45 201.5,604.06 202.5,603.67 203.5,603.28 204.5,602.90 205.5,602.51 206.5,602.13 207.5,601.75 208.5,601.38 209.5,601.00 210.5,600.63 211.5,600.26 212.5,599.89 213.5,599.53 214.5,599.16 215.5,598.80 216.5,598.44 217.5,598.08 218.5,597.72 219.5,597.36 220.5,597.01 221.5,596.65 222.5,596.30 223.5,595.95 224.5,595.60 225.5,595.25 226.5,594.90 227.5,594.55 228.5,594.21 229.5,593.86 230.5,593.52 231.5,593.17 232.5,592.83 233.5,592.49 234.5,592.15 235.5,591.82 236.5,591.48 237.5,591.15 238.5,590.82 239.5,590.50 240.5,590.17 241.5,589.85 242.5,589.53 243.5,589.22 244.5,588.90 245.5,588.59 246.5,588.27 247.5,587.96 248.5,587.65 249.5,587.35 250.5,587.04 251.5,586.74 252.5,586.44 253.5,586.13 254.5,585.83 255.5,585.53 256.5,585.24 257.5,584.94 258.5,584.64 259.5,584.35 260.5,584.06 261.5,583.76 262.5,583.47 263.5,583.18 264.5,582.89 265.5,582.60 266.5,582.31 267.5,582.02 268.5,581.73 269.5,581.44 270.5,581.16 271.5,580.87 272.5,580.58 273.5,580.30 274.5,580.02 275.5,579.73 276.5,579.45 277.5,579.17 278.5,578.89 279.5,578.61 280.5,578.34 281.5,578.06 282.5,577.79 283.5,577.51 284.5,577.24 285.5,576.97 286.5,576.70 287.5,576.43 288.5,576.17 289.5,575.90 290.5,575.64 291.5,575.38 292.5,575.12 293.5,574.86 294.5,574.60 295.5,574.35 296.5,574.10 297.5,573.85 298.5,573.60 299.5,573.35 300.5,573.11 301.5,572.86 302.5,572.63 303.5,572.39 304.5,572.15 305.5,571.92 306.5,571.69 307.5,571.47 308.5,571.24 309.5,571.02 310.5,570.80 311.5,570.58 312.5,570.36 313.5,570.15 314.5,569.94 315.5,569.73 316.5,569.52 317.5,569.32 318.5,569.11 319.5,568.91 320.5,568.71 321.5,568.51 322.5,568.32 323.5,568.12 324.5,567.93 325.5,567.74 326.5,567.55 327.5,567.37 328.5,567.18 329.5,567.00 330.5,566.82 331.5,566.64 332.5,566.46 333.5,566.28 334.5,566.11 335.5,565.93 336.5,565.76 337.5,565.59 338.5,565.42 339.5,565.26 340.5,565.09 341.5,564.92 342.5,564.76 343.5,564.60 344.5,564.44 345.5,564.28 346.5,564.12 347.5,563.96 348.5,563.81 349.5,563.65 350.5,563.50 351.5,563.35 352.5,563.20 353.5,563.05 354.5,562.90 355.5,562.75 356.5,562.61 357.5,562.46 358.5,562.32 359.5,562.17 360.5,562.03 361.5,561.89 362.5,561.75 363.5,561.61 364.5,561.47 365.5,561.34 366.5,561.20 367.5,561.06 368.5,560.93 369.5,560.80 370.5,560.66 371.5,560.53 372.5,560.40 373.5,560.27 374.5,560.13 375.5,560.00 376.5,559.88 377.5,559.75 378.5,559.62 379.5,559.49 380.5,559.36 381.5,559.24 382.5,559.11 383.5,558.99 384.5,558.87 385.5,558.75 386.5,558.63 387.5,558.51 388.5,558.39 389.5,558.27 390.5,558.15 391.5,558.04 392.5,557.93 393.5,557.81 394.5,557.70 395.5,557.59 396.5,557.49 397.5,557.38 398.5,557.27 399.5,557.17 400.5,557.07 401.5,556.97 402.5,556.87 403.5,556.77 404.5,556.68 405.5,556.58 406.5,556.49 407.5,556.40 408.5,556.31 409.5,556.23 410.5,556.14 411.5,556.06 412.5,555.98 413.5,555.90 414.5,555.83 415.5,555.76 416.5,555.69 417.5,555.62 418.5,555.55 419.5,555.49 420.5,555.43 421.5,555.37 422.5,555.31 423.5,555.25 424.5,555.20 425.5,555.15 426.5,555.10 427.5,555.05 428.5,555.00 429.5,554.96 430.5,554.91 431.5,554.87 432.5,554.82 433.5,554.78 434.5,554.74 435.5,554.70 436.5,554.66 437.5,554.63 438.5,554.59 439.5,554.55 440.5,554.51 441.5,554.48 442.5,554.44 443.5,554.41 444.5,554.37 445.5,554.33 446.5,554.30 447.5,554.26 448.5,554.23 449.5,554.19 450.5,554.15 451.5,554.12 452.5,554.08 453.5,554.05 454.5,554.01 455.5,553.98 456.5,553.94 457.5,553.91 458.5,553.87 459.5,553.84 460.5,553.81 461.5,553.78 462.5,553.75 463.5,553.72 464.5,553.69 465.5,553.66 466.5,553.63 467.5,553.61 468.5,553.59 469.5,553.56 470.5,553.54 471.5,553.52 472.5,553.50 473.5,553.49 474.5,553.47 475.5,553.46 476.5,553.44 477.5,553.43 478.5,553.43 479.5,553.42 480.5,553.41 481.5,553.41 482.5,553.41 483.5,553.41 484.5,553.41 485.5,553.41 486.5,553.42 487.5,553.42 488.5,553.43 489.5,553.44 490.5,553.45 491.5,553.46 492.5,553.48 493.5,553.49 494.5,553.51 495.5,553.52 496.5,553.54 497.5,553.56 498.5,553.58 499.5,553.61 500.5,553.63 501.5,553.66 502.5,553.68 503.5,553.71 504.5,553.74 505.5,553.77 506.5,553.80 507.5,553.83 508.5,553.86 509.5,553.89 510.5,553.93 511.5,553.96 512.5,554.00 513.5,554.03 514.5,554.07 515.5,554.11 516.5,554.14 517.5,554.18 518.5,554.22 519.5,554.26 520.5,554.30 521.5,554.34 522.5,554.38 523.5,554.43 524.5,554.47 525.5,554.51 526.5,554.56 527.5,554.60 528.5,554.65 529.5,554.69 530.5,554.74 531.5,554.79 532.5,554.83 533.5,554.88 534.5,554.93 535.5,554.98 536.5,555.04 537.5,555.09 538.5,555.14 539.5,555.20 540.5,555.25 541.5,555.31 542.5,555.36 543.5,555.42 544.5,555.48 545.5,555.54 546.5,555.60 547.5,555.67 548.5,555.73 549.5,555.80 550.5,555.86 551.5,555.93 552.5,556.00 553.5,556.07 554.5,556.14 555.5,556.21 556.5,556.28 557.5,556.35 558.5,556.43 559.5,556.51 560.5,556.58 561.5,556.66 562.5,556.74 563.5,556.82 564.5,556.91 565.5,556.99 566.5,557.07 567.5,557.16 568.5,557.25 569.5,557.33 570.5,557.42 571.5,557.51 572.5,557.60 573.5,557.69 574.5,557.78 575.5,557.87 576.5,557.97 577.5,558.06 578.5,558.15 579.5,558.24 580.5,558.34" stroke="#88a000" stroke-width="1"/>
<polyline points="590.6,559.20 597,559.60 599.4,560.60" stroke="#88a000" stroke-width="1"/>
<rect x="479.5" y="551.5" width="5" height="5" fill="#fff" stroke="#88a000"/>
<polyline points="82.5,662.97 83.5,662.50 84.5,662.03 85.5,661.56 86.5,661.09 87.5,660.62 88.5,660.14 89.5,659.67 90.5,659.20 91.5,658.73 92.5,658.26 93.5,657.79 94.5,657.32 95.5,656.85 96.5,656.38 97.5,655.91 98.5,655.44 99.5,654.98 100.5,654.51 101.5,654.04 102.5,653.58 103.5,653.11 104.5,652.65 105.5,652.18 106.5,651.72 107.5,651.26 108.5,650.80 109.5,650.34 110.5,649.88 111.5,649.41 112.5,648.95 113.5,648.49 114.5,648.03 115.5,647.57 116.5,647.11 117.5,646.65 118.5,646.19 119.5,645.73 120.5,645.27 121.5,644.81 122.5,644.35 123.5,643.89 124.5,643.44 125.5,642.98 126.5,642.53 127.5,642.08 128.5,641.63 129.5,641.18 130.5,640.73 131.5,640.28 132.5,639.83 133.5,639.38 134.5,638.94 135.5,638.49 136.5,638.05 137.5,637.60 138.5,637.16 139.5,636.72 140.5,636.28 141.5,635.83 142.5,635.39 143.5,634.95 144.5,634.52 145.5,634.08 146.5,633.64 147.5,633.21 148.5,632.77 149.5,632.34 150.5,631.91 151.5,631.48 152.5,631.05 153.5,630.62 154.5,630.20 155.5,629.77 156.5,629.35 157.5,628.93 158.5,628.51 159.5,628.10 160.5,627.69 161.5,627.28 162.5,626.87 163.5,626.46 164.5,626.06 165.5,625.65 166.5,625.25 167.5,624.85 168.5,624.46 169.5,624.06 170.5,623.67 171.5,623.27 172.5,622.88 173.5,622.49 174.5,622.11 175.5,621.72 176.5,621.33 177.5,620.95 178.5,620.57 179.5,620.19 180.5,619.81 181.5,619.43 182.5,619.05 183.5,618.67 184.5,618.30 185.5,617.92 186.5,617.55 187.5,617.18" stroke="#343f4c" stroke-width="1" stroke-dasharray="15 9"/>
<polyline points="187.5,617.18 188.5,616.81 189.5,616.44 190.5,616.08 191.5,615.71 192.5,615.35 193.5,614.99 194.5,614.64 195.5,614.28 196.5,613.93 197.5,613.58 198.5,613.23 199.5,612.89 200.5,612.54 201.5,612.20 202.5,611.86 203.5,611.52 204.5,611.18 205.5,610.85 206.5,610.51 207.5,610.18 208.5,609.85 209.5,609.52 210.5,609.19 211.5,608.86 212.5,608.53 213.5,608.21 214.5,607.88 215.5,607.56 216.5,607.24 217.5,606.91 218.5,606.59 219.5,606.27 220.5,605.95 221.5,605.63 222.5,605.31 223.5,605.00 224.5,604.68 225.5,604.36 226.5,604.04 227.5,603.73 228.5,603.41 229.5,603.09 230.5,602.78 231.5,602.46 232.5,602.14 233.5,601.83 234.5,601.51 235.5,601.20 236.5,600.88 237.5,600.57 238.5,600.25 239.5,599.93 240.5,599.62 241.5,599.30 242.5,598.98 243.5,598.67 244.5,598.35 245.5,598.03 246.5,597.71 247.5,597.39 248.5,597.08 249.5,596.76 250.5,596.44 251.5,596.13 252.5,595.81 253.5,595.50 254.5,595.18 255.5,594.87 256.5,594.56 257.5,594.24 258.5,593.93 259.5,593.62 260.5,593.31 261.5,593.01 262.5,592.70 263.5,592.40 264.5,592.10 265.5,591.79 266.5,591.50 267.5,591.20 268.5,590.90 269.5,590.61 270.5,590.31 271.5,590.02 272.5,589.73 273.5,589.45 274.5,589.16 275.5,588.88 276.5,588.59 277.5,588.31 278.5,588.03 279.5,587.75 280.5,587.48 281.5,587.20 282.5,586.93 283.5,586.65 284.5,586.38 285.5,586.11 286.5,585.85 287.5,585.58 288.5,585.31 289.5,585.05 290.5,584.79 291.5,584.53 292.5,584.27 293.5,584.01 294.5,583.75 295.5,583.50 296.5,583.24 297.5,582.99 298.5,582.74 299.5,582.49 300.5,582.24 301.5,582.00 302.5,581.75 303.5,581.51 304.5,581.27 305.5,581.03 306.5,580.80 307.5,580.56 308.5,580.33 309.5,580.10 310.5,579.87 311.5,579.64 312.5,579.41 313.5,579.19 314.5,578.97 315.5,578.74 316.5,578.52 317.5,578.31 318.5,578.09 319.5,577.87 320.5,577.66 321.5,577.45 322.5,577.24 323.5,577.03 324.5,576.82 325.5,576.61 326.5,576.41 327.5,576.20 328.5,576.00 329.5,575.80 330.5,575.60 331.5,575.40 332.5,575.20 333.5,575.01 334.5,574.81 335.5,574.62 336.5,574.43 337.5,574.24 338.5,574.04 339.5,573.86 340.5,573.67 341.5,573.48 342.5,573.29 343.5,573.11 344.5,572.92 345.5,572.74 346.5,572.56 347.5,572.38 348.5,572.20 349.5,572.02 350.5,571.84 351.5,571.66 352.5,571.48 353.5,571.30 354.5,571.13 355.5,570.95 356.5,570.78 357.5,570.60 358.5,570.43 359.5,570.26 360.5,570.08 361.5,569.91 362.5,569.74 363.5,569.57 364.5,569.40 365.5,569.23 366.5,569.06 367.5,568.89 368.5,568.72 369.5,568.56 370.5,568.39 371.5,568.22 372.5,568.06 373.5,567.90 374.5,567.73 375.5,567.57 376.5,567.41 377.5,567.24 378.5,567.08 379.5,566.92 380.5,566.76 381.5,566.60 382.5,566.44 383.5,566.29 384.5,566.13 385.5,565.97 386.5,565.82 387.5,565.66 388.5,565.51 389.5,565.35 390.5,565.20 391.5,565.05 392.5,564.89 393.5,564.74 394.5,564.59 395.5,564.44 396.5,564.29 397.5,564.14 398.5,564.00 399.5,563.85 400.5,563.70 401.5,563.56 402.5,563.41 403.5,563.27 404.5,563.13 405.5,562.98 406.5,562.84 407.5,562.70 408.5,562.56 409.5,562.42 410.5,562.28 411.5,562.14 412.5,562.01 413.5,561.87 414.5,561.73 415.5,561.60 416.5,561.46 417.5,561.33 418.5,561.20 419.5,561.07 420.5,560.94 421.5,560.81 422.5,560.68 423.5,560.55 424.5,560.42 425.5,560.30 426.5,560.17 427.5,560.05 428.5,559.92 429.5,559.80 430.5,559.68 431.5,559.56 432.5,559.44 433.5,559.33 434.5,559.21 435.5,559.10 436.5,558.98 437.5,558.87 438.5,558.76 439.5,558.65 440.5,558.54 441.5,558.44 442.5,558.33 443.5,558.23 444.5,558.12 445.5,558.02 446.5,557.92 447.5,557.82 448.5,557.73 449.5,557.63 450.5,557.54 451.5,557.45 452.5,557.36 453.5,557.27 454.5,557.18 455.5,557.09 456.5,557.00 457.5,556.92 458.5,556.83 459.5,556.75 460.5,556.67 461.5,556.59 462.5,556.51 463.5,556.43 464.5,556.35 465.5,556.27 466.5,556.20 467.5,556.12 468.5,556.05 469.5,555.97 470.5,555.90 471.5,555.82 472.5,555.75 473.5,555.68 474.5,555.61 475.5,555.54 476.5,555.46 477.5,555.39 478.5,555.32 479.5,555.25 480.5,555.18 481.5,555.11 482.5,555.05 483.5,554.98 484.5,554.91 485.5,554.84 486.5,554.77 487.5,554.70 488.5,554.64 489.5,554.57 490.5,554.50 491.5,554.43 492.5,554.36 493.5,554.30 494.5,554.23 495.5,554.16 496.5,554.09 497.5,554.03 498.5,553.96 499.5,553.89 500.5,553.83 501.5,553.76 502.5,553.69 503.5,553.63 504.5,553.56 505.5,553.49 506.5,553.43 507.5,553.36 508.5,553.30 509.5,553.23 510.5,553.17 511.5,553.11 512.5,553.04 513.5,552.98 514.5,552.92 515.5,552.86 516.5,552.80 517.5,552.74 518.5,552.68 519.5,552.62 520.5,552.56 521.5,552.51 522.5,552.45 523.5,552.39 524.5,552.34 525.5,552.29 526.5,552.23 527.5,552.18 528.5,552.13 529.5,552.08 530.5,552.03 531.5,551.99 532.5,551.94 533.5,551.90 534.5,551.85 535.5,551.81 536.5,551.77 537.5,551.73 538.5,551.69 539.5,551.65 540.5,551.61 541.5,551.58 542.5,551.54 543.5,551.51 544.5,551.48 545.5,551.45 546.5,551.42 547.5,551.39 548.5,551.36 549.5,551.33 550.5,551.31 551.5,551.28 552.5,551.26 553.5,551.24 554.5,551.22 555.5,551.20 556.5,551.18 557.5,551.16 558.5,551.14 559.5,551.13 560.5,551.11 561.5,551.10 562.5,551.08 563.5,551.07 564.5,551.06 565.5,551.05 566.5,551.04 567.5,551.03 568.5,551.02 569.5,551.01 570.5,551.00 571.5,550.99 572.5,550.99 573.5,550.98 574.5,550.97 575.5,550.97 576.5,550.96 577.5,550.96 578.5,550.95 579.5,550.95 580.5,550.95 581.5,550.94 582.5,550.94 583.5,550.94 584.5,550.94 585.5,550.94 586.5,550.93 587.5,550.93 588.5,550.93 589.5,550.93 590.5,550.93 591.5,550.93 592.5,550.93 593.5,550.93 594.5,550.93 595.5,550.93 596.5,550.92 597.5,550.92 598.5,550.92 599.5,550.92 600.5,550.92 601.5,550.92 602.5,550.92 603.5,550.92 604.5,550.92 605.5,550.91 606.5,550.91 607.5,550.91 608.5,550.91 609.5,550.91 610.5,550.91 611.5,550.91 612.5,550.90 613.5,550.90 614.5,550.90 615.5,550.90 616.5,550.90 617.5,550.90 618.5,550.90 619.5,550.90 620.5,550.90 621.5,550.90 622.5,550.90 623.5,550.90 624.5,550.90 625.5,550.90 626.5,550.90 627.5,550.90 628.5,550.90 629.5,550.90 630.5,550.90 631.5,550.90 632.5,550.91 633.5,550.91 634.5,550.91 635.5,550.92 636.5,550.92 637.5,550.93 638.5,550.93 639.5,550.94 640.5,550.94 641.5,550.95 642.5,550.95 643.5,550.96 644.5,550.97 645.5,550.98 646.5,550.99 647.5,551.00 648.5,551.01 649.5,551.02 650.5,551.03 651.5,551.04 652.5,551.05 653.5,551.07 654.5,551.08 655.5,551.09 656.5,551.11 657.5,551.13 658.5,551.14 659.5,551.16 660.5,551.18 661.5,551.20 662.5,551.22 663.5,551.24 664.5,551.26 665.5,551.28 666.5,551.30 667.5,551.33 668.5,551.35 669.5,551.38 670.5,551.40 671.5,551.43 672.5,551.46 673.5,551.49 674.5,551.51 675.5,551.54 676.5,551.57 677.5,551.60 678.5,551.64 679.5,551.67 680.5,551.70 681.5,551.73 682.5,551.76 683.5,551.80 684.5,551.83 685.5,551.86 686.5,551.90 687.5,551.93 688.5,551.97 689.5,552.00 690.5,552.04 691.5,552.07 692.5,552.11 693.5,552.15 694.5,552.18 695.5,552.22 696.5,552.26 697.5,552.29 698.5,552.33 699.5,552.37 700.5,552.41 701.5,552.45 702.5,552.49 703.5,552.53 704.5,552.57 705.5,552.61 706.5,552.65 707.5,552.69 708.5,552.73 709.5,552.77 710.5,552.81 711.5,552.85 712.5,552.90 713.5,552.94 714.5,552.98 715.5,553.03 716.5,553.07 717.5,553.12 718.5,553.16 719.5,553.21 720.5,553.26 721.5,553.30 722.5,553.35 723.5,553.40 724.5,553.45 725.5,553.50 726.5,553.55 727.5,553.60 728.5,553.65 729.5,553.70 730.5,553.75 731.5,553.80 732.5,553.86 733.5,553.91 734.5,553.96 735.5,554.02" stroke="#343f4c" stroke-width="2"/>
<polyline points="735.5,554.02 736.5,554.07 737.5,554.13 738.5,554.18 739.5,554.24 740.5,554.30 741.5,554.35 742,554.38" stroke="#343f4c" stroke-width="1"/>
<polyline points="134,748.74 135,748.83 136,748.92 137,749.02 138,749.11 139,749.21 140,749.30 141,749.39 142,749.48 143,749.57 144,749.66 145,749.75 146,749.83 147,749.92 148,750.00 149,750.09 150,750.17 151,750.25 152,750.32 153,750.40 154,750.47 155,750.54 156,750.62 157,750.68 158,750.75 159,750.82 160,750.88 161,750.94 162,751.00 163,751.06 164,751.12 165,751.17 166,751.23 167,751.28 168,751.33 169,751.38 170,751.42 171,751.47 172,751.51 173,751.56 174,751.60 175,751.64 176,751.67 177,751.71 178,751.74 179,751.78 180,751.81 181,751.84 182,751.87 183,751.90 184,751.92 185,751.95 186,751.97 187,752.00 188,752.02 189,752.04" stroke="#343f4c" stroke-width="1"/>
<polyline points="134,749.04 135,749.13 136,749.22 137,749.32 138,749.41 139,749.51 140,749.60 141,749.69 142,749.78 143,749.87 144,749.96 145,750.05 146,750.13 147,750.22 148,750.30 149,750.39 150,750.47 151,750.55 152,750.62 153,750.70 154,750.77 155,750.84 156,750.92 157,750.98 158,751.05 159,751.12 160,751.18 161,751.24 162,751.30 163,751.36 164,751.42 165,751.47 166,751.53 167,751.58 168,751.63 169,751.68 170,751.72 171,751.77 172,751.81 173,751.86 174,751.90 175,751.94 176,751.97 177,752.01 178,752.04 179,752.08 180,752.11 181,752.14 182,752.17 183,752.20 184,752.22 185,752.25 186,752.27 187,752.30 188,752.32 189,752.34" stroke="#a52000" stroke-width="1" stroke-dasharray="6 10" stroke-dashoffset="0"/>
<rect x="519.5" y="742.5" width="5" height="5" fill="#fff" stroke="#a52000"/>
<polyline points="134,749.04 135,749.13 136,749.22 137,749.32 138,749.41 139,749.51 140,749.60 141,749.69 142,749.78 143,749.87 144,749.96 145,750.05 146,750.13 147,750.22 148,750.30 149,750.39 150,750.47 151,750.55 152,750.62 153,750.70 154,750.77 155,750.84 156,750.92 157,750.98 158,751.05 159,751.12 160,751.18 161,751.24 162,751.30 163,751.36 164,751.42 165,751.47 166,751.53 167,751.58 168,751.63 169,751.68 170,751.72 171,751.77 172,751.81 173,751.86 174,751.90 175,751.94 176,751.97 177,752.01 178,752.04 179,752.08 180,752.11 181,752.14 182,752.17 183,752.20 184,752.22 185,752.25 186,752.27 187,752.30 188,752.32 189,752.34" stroke="#9c0078" stroke-width="1" stroke-dasharray="3 12" stroke-dashoffset="8"/>
<rect x="548.5" y="740.5" width="5" height="5" fill="#fff" stroke="#9c0078"/>
<polyline points="134,748.74 135,748.83 136,748.92 137,749.02 138,749.11 139,749.21 140,749.30 141,749.39 142,749.48 143,749.57 144,749.66 145,749.75 146,749.83 147,749.92 148,750.00 149,750.09 150,750.17 151,750.25 152,750.32 153,750.40 154,750.47 155,750.54 156,750.62 157,750.68 158,750.75 159,750.82 160,750.88 161,750.94 162,751.00 163,751.06 164,751.12 165,751.17 166,751.23 167,751.28 168,751.33 169,751.38 170,751.42 171,751.47 172,751.51 173,751.56 174,751.60 175,751.64 176,751.67 177,751.71 178,751.74 179,751.78 180,751.81 181,751.84 182,751.87 183,751.90 184,751.92 185,751.95 186,751.97 187,752.00 188,752.02 189,752.04" stroke="#2e00a0" stroke-width="1" stroke-dasharray="4 16" stroke-dashoffset="12"/>
<rect x="583.5" y="738.5" width="5" height="5" fill="#fff" stroke="#2e00a0"/>
<polyline points="134,748.34 135,748.43 136,748.52 137,748.62 138,748.71 139,748.81 140,748.90 141,748.99 142,749.08 143,749.17 144,749.26 145,749.35 146,749.43 147,749.52 148,749.60 149,749.69 150,749.77 151,749.85 152,749.92 153,750.00 154,750.07 155,750.14 156,750.22 157,750.28 158,750.35 159,750.42 160,750.48 161,750.54 162,750.60 163,750.66 164,750.72 165,750.77 166,750.83 167,750.88 168,750.93 169,750.98 170,751.02 171,751.07 172,751.11 173,751.16 174,751.20 175,751.24 176,751.27 177,751.31 178,751.34 179,751.38 180,751.41 181,751.44 182,751.47 183,751.50 184,751.52 185,751.55 186,751.57 187,751.60 188,751.62 189,751.64" stroke="#88a000" stroke-width="1" stroke-dasharray="6 9" stroke-dashoffset="3"/>
<rect x="479.5" y="743.5" width="5" height="5" fill="#fff" stroke="#88a000"/>
<polyline points="187,752.00 188,752.02 189,752.04 190,752.06 191,752.08 192,752.10 193,752.12 194,752.13 195,752.15 196,752.16 197,752.17 198,752.19 199,752.20 200,752.21 201,752.22 202,752.23 203,752.24 204,752.24 205,752.25 206,752.26 207,752.26 208,752.27 209,752.27 210,752.28 211,752.28 212,752.28 213,752.28 214,752.29 215,752.29 216,752.29 217,752.29 218,752.29 219,752.29 220,752.29 221,752.29 222,752.28 223,752.28 224,752.28 225,752.28 226,752.28 227,752.27 228,752.27 229,752.27 230,752.26 231,752.26 232,752.26 233,752.25 234,752.25 235,752.25 236,752.24 237,752.24 238,752.24 239,752.23 240,752.23 241,752.23 242,752.23 243,752.22 244,752.22 245,752.22 246,752.22 247,752.21 248,752.21 249,752.21 250,752.21 251,752.20 252,752.20 253,752.20 254,752.20 255,752.19 256,752.19 257,752.19 258,752.18 259,752.18 260,752.18 261,752.17 262,752.17 263,752.16 264,752.16 265,752.15 266,752.15 267,752.14 268,752.13 269,752.13 270,752.12 271,752.11 272,752.10 273,752.09 274,752.08 275,752.07 276,752.06 277,752.05 278,752.04 279,752.03 280,752.01 281,752.00 282,751.99 283,751.97 284,751.96 285,751.94 286,751.92 287,751.90 288,751.88 289,751.86 290,751.84 291,751.82 292,751.80 293,751.78 294,751.75 295,751.73 296,751.70 297,751.68 298,751.65 299,751.62 300,751.60 301,751.57 302,751.54 303,751.51 304,751.48 305,751.45 306,751.42 307,751.39 308,751.36 309,751.32 310,751.29 311,751.26 312,751.23 313,751.20 314,751.16 315,751.13 316,751.10 317,751.07 318,751.03 319,751.00 320,750.97 321,750.93 322,750.90 323,750.87 324,750.84 325,750.80 326,750.77 327,750.74 328,750.71 329,750.67 330,750.64 331,750.61 332,750.57 333,750.54 334,750.51 335,750.48 336,750.44 337,750.41 338,750.38 339,750.35 340,750.31 341,750.28 342,750.25 343,750.21 344,750.18 345,750.15 346,750.12 347,750.08 348,750.05 349,750.02 350,749.99 351,749.95 352,749.92 353,749.89 354,749.86 355,749.82 356,749.79 357,749.76 358,749.73 359,749.69 360,749.66 361,749.63 362,749.60 363,749.57 364,749.53 365,749.50 366,749.47 367,749.44 368,749.41 369,749.37 370,749.34 371,749.31 372,749.28 373,749.25 374,749.22 375,749.18 376,749.15 377,749.12 378,749.09 379,749.06 380,749.03 381,749.00 382,748.97 383,748.94 384,748.91 385,748.88 386,748.85 387,748.82 388,748.79 389,748.76 390,748.73 391,748.70 392,748.67 393,748.64 394,748.61 395,748.58 396,748.55 397,748.52 398,748.50 399,748.47 400,748.44 401,748.41 402,748.38 403,748.35 404,748.33 405,748.30 406,748.27 407,748.24 408,748.22 409,748.19 410,748.16 411,748.13 412,748.11 413,748.08 414,748.05 415,748.03 416,748.00 417,747.97 418,747.94 419,747.92 420,747.89 421,747.87 422,747.84 423,747.81 424,747.79 425,747.76 426,747.73 427,747.71 428,747.68 429,747.65 430,747.63 431,747.60 432,747.57 433,747.55 434,747.52 435,747.49 436,747.47 437,747.44 438,747.41 439,747.39 440,747.36 441,747.33 442,747.30 443,747.27 444,747.25 445,747.22 446,747.19 447,747.16 448,747.13 449,747.10 450,747.07 451,747.04 452,747.01 453,746.97 454,746.94 455,746.91 456,746.88 457,746.84 458,746.81 459,746.78 460,746.74 461,746.71 462,746.67 463,746.63 464,746.60 465,746.56 466,746.52 467,746.49 468,746.45 469,746.41 470,746.37 471,746.33 472,746.30 473,746.26 474,746.22 475,746.18 476,746.14 477,746.10 478,746.06 479,746.02 480,745.98 481,745.93 482,745.89 483,745.85 484,745.81 485,745.77 486,745.73 487,745.69 488,745.65 489,745.60 490,745.56 491,745.52 492,745.48 493,745.44 494,745.40 495,745.36 496,745.31 497,745.27 498,745.23 499,745.19 500,745.15 501,745.11 502,745.07 503,745.03 504,744.99 505,744.95 506,744.91 507,744.87 508,744.84 509,744.80 510,744.76 511,744.72 512,744.68 513,744.65 514,744.61 515,744.57 516,744.54 517,744.50 518,744.46 519,744.43 520,744.39 521,744.35 522,744.31 523,744.28 524,744.24 525,744.20 526,744.17 527,744.13 528,744.09 529,744.06 530,744.02 531,743.98 532,743.94 533,743.90 534,743.87 535,743.83 536,743.79 537,743.75 538,743.71 539,743.67 540,743.63 541,743.59 542,743.54 543,743.50 544,743.46 545,743.42 546,743.37 547,743.33 548,743.29 549,743.24 550,743.19 551,743.15 552,743.10 553,743.05 554,743.00 555,742.95 556,742.90 557,742.85 558,742.80 559,742.75 560,742.69 561,742.64 562,742.58 563,742.52 564,742.46 565,742.40 566,742.34 567,742.28 568,742.22 569,742.16 570,742.09 571,742.02 572,741.95 573,741.89 574,741.81 575,741.74 576,741.67 577,741.59 578,741.52 579,741.44 580,741.36 581,741.28 582,741.20 583,741.12 584,741.04 585,740.95 586,740.87 587,740.78 588,740.69 589,740.61 590,740.52 591,740.42 592,740.33 593,740.24 594,740.15 595,740.05 596,739.96 597,739.86 598,739.76 599,739.67 600,739.57 601,739.47 602,739.37 603,739.27 604,739.17 605,739.07 606,738.97 607,738.87 608,738.77 609,738.67 610,738.57 611,738.47 612,738.37 613,738.27 614,738.17 615,738.07 616,737.97 617,737.87 618,737.77 619,737.67 620,737.57 621,737.47 622,737.37 623,737.27 624,737.17 625,737.07 626,736.97 627,736.87 628,736.77 629,736.67 630,736.57 631,736.47 632,736.37 633,736.27 634,736.17 635,736.06 636,735.96 637,735.86 638,735.75 639,735.65 640,735.54 641,735.44 642,735.33 643,735.22 644,735.11 645,735.00 646,734.89 647,734.78 648,734.66 649,734.55 650,734.44 651,734.32 652,734.20 653,734.08 654,733.97 655,733.85 656,733.73 657,733.60 658,733.48 659,733.36 660,733.23 661,733.11 662,732.98 663,732.86 664,732.73 665,732.60 666,732.47 667,732.33 668,732.20 669,732.07 670,731.93 671,731.79 672,731.65 673,731.51 674,731.37 675,731.22 676,731.08 677,730.93 678,730.78 679,730.63 680,730.47 681,730.32 682,730.16 683,730.00 684,729.84 685,729.68 686,729.51 687,729.34 688,729.17 689,729.00 690,728.83 691,728.65 692,728.47 693,728.29 694,728.11 695,727.92 696,727.74 697,727.55 698,727.36 699,727.17 700,726.97 701,726.78 702,726.58 703,726.38 704,726.18 705,725.98 706,725.78 707,725.58 708,725.37 709,725.17 710,724.96 711,724.75 712,724.54 713,724.33 714,724.12 715,723.91 716,723.69 717,723.48 718,723.26 719,723.04 720,722.82 721,722.60 722,722.38 723,722.15 724,721.93 725,721.70 726,721.47 727,721.24 728,721.00 729,720.77 730,720.53 731,720.29 732,720.05 733,719.81 734,719.56 735,719.32 736,719.07" stroke="#343f4c" stroke-width="2"/>
<polyline points="735,719.32 736,719.07 737,718.82 738,718.56 739,718.31 740,718.05 741,717.79 742,717.53 743,717.27 744,717.00 745,716.73 746,716.46 747,716.19 748,715.92 749,715.64 750,715.36 751,715.08 752,714.80 753,714.51 754,714.23 755,713.94 756,713.64 757,713.35 758,713.05 759,712.75 760,712.45 761,712.15 762,711.84 763,711.53 764,711.22 765,710.91 766,710.60 767,710.28 768,709.96 769,709.64 770,709.31 771,708.98 772,708.65 773,708.32 774,707.99 775,707.65 776,707.31 777,706.97 778,706.63 779,706.28 780,705.93 781,705.58 782,705.23 783,704.88 784,704.52 785,704.16 786,703.80 787,703.44 788,703.08 789,702.72 790,702.35 791,701.98 792,701.62 793,701.25 794,700.88 795,700.51 796,700.13 797,699.76 798,699.39 799,699.01 800,698.64 801,698.26 802,697.88 803,697.51 804,697.13 805,696.75 806,696.38 807,696.00 808,695.62" stroke="#343f4c" stroke-width="1"/>
<polyline points="735,719.32 736,719.07 737,718.82 738,718.56 739,718.31 740,718.05 741,717.79 742,717.53 743,717.27 744,717.00 745,716.73 746,716.46 747,716.19 748,715.92 749,715.64 750,715.36 751,715.08 752,714.80 753,714.51 754,714.23 755,713.94 756,713.64 757,713.35 758,713.05 759,712.75 760,712.45 761,712.15 762,711.84 763,711.53 764,711.22 765,710.91 766,710.60 767,710.28 768,709.96 769,709.64 770,709.31 771,708.98 772,708.65 773,708.32 774,707.99 775,707.65 776,707.31 777,706.97 778,706.63 779,706.28 780,705.93 781,705.58 782,705.23 783,704.88 784,704.52 785,704.16 786,703.80 787,703.44 788,703.08 789,702.72 790,702.35 791,701.98 792,701.62 793,701.25 794,700.88 795,700.51 796,700.13 797,699.76 798,699.39 799,699.01 800,698.64 801,698.26 802,697.88 803,697.51 804,697.13 805,696.75 806,696.38 807,696.00 808,695.62" stroke="#88a000" stroke-width="1" stroke-dasharray="5 7" stroke-dashoffset="0"/>
<polyline points="735,719.32 736,719.07 737,718.82 738,718.56 739,718.31 740,718.05 741,717.79 742,717.53 743,717.27 744,717.00 745,716.73 746,716.46 747,716.19 748,715.92 749,715.64 750,715.36 751,715.08 752,714.80 753,714.51 754,714.23 755,713.94 756,713.64 757,713.35 758,713.05 759,712.75 760,712.45 761,712.15 762,711.84 763,711.53 764,711.22 765,710.91 766,710.60 767,710.28 768,709.96 769,709.64 770,709.31 771,708.98 772,708.65 773,708.32 774,707.99 775,707.65 776,707.31 777,706.97 778,706.63 779,706.28 780,705.93 781,705.58 782,705.23 783,704.88 784,704.52 785,704.16 786,703.80 787,703.44 788,703.08 789,702.72 790,702.35 791,701.98 792,701.62 793,701.25 794,700.88 795,700.51 796,700.13 797,699.76 798,699.39 799,699.01 800,698.64 801,698.26 802,697.88 803,697.51 804,697.13 805,696.75 806,696.38 807,696.00 808,695.62" stroke="#a52000" stroke-width="1" stroke-dasharray="2 10" stroke-dashoffset="6"/>
<polyline points="735,719.32 736,719.07 737,718.82 738,718.56 739,718.31 740,718.05 741,717.79 742,717.53 743,717.27 744,717.00 745,716.73 746,716.46 747,716.19 748,715.92 749,715.64 750,715.36 751,715.08 752,714.80 753,714.51 754,714.23 755,713.94 756,713.64 757,713.35 758,713.05 759,712.75 760,712.45 761,712.15 762,711.84 763,711.53 764,711.22 765,710.91 766,710.60 767,710.28 768,709.96 769,709.64 770,709.31 771,708.98 772,708.65 773,708.32 774,707.99 775,707.65 776,707.31 777,706.97 778,706.63 779,706.28 780,705.93 781,705.58 782,705.23 783,704.88 784,704.52 785,704.16 786,703.80 787,703.44 788,703.08 789,702.72 790,702.35 791,701.98 792,701.62 793,701.25 794,700.88 795,700.51 796,700.13 797,699.76 798,699.39 799,699.01 800,698.64 801,698.26 802,697.88 803,697.51 804,697.13 805,696.75 806,696.38 807,696.00 808,695.62" stroke="#9c0078" stroke-width="1" stroke-dasharray="2 10" stroke-dashoffset="9"/>
<polyline points="735,719.32 736,719.07 737,718.82 738,718.56 739,718.31 740,718.05 741,717.79 742,717.53 743,717.27 744,717.00 745,716.73 746,716.46 747,716.19 748,715.92 749,715.64 750,715.36 751,715.08 752,714.80 753,714.51 754,714.23 755,713.94 756,713.64 757,713.35 758,713.05 759,712.75 760,712.45 761,712.15 762,711.84 763,711.53 764,711.22 765,710.91 766,710.60 767,710.28 768,709.96 769,709.64 770,709.31 771,708.98 772,708.65 773,708.32 774,707.99 775,707.65 776,707.31 777,706.97 778,706.63 779,706.28 780,705.93 781,705.58 782,705.23 783,704.88 784,704.52 785,704.16 786,703.80 787,703.44 788,703.08 789,702.72 790,702.35 791,701.98 792,701.62 793,701.25 794,700.88 795,700.51 796,700.13 797,699.76 798,699.39 799,699.01 800,698.64 801,698.26 802,697.88 803,697.51 804,697.13 805,696.75 806,696.38 807,696.00 808,695.62" stroke="#2e00a0" stroke-width="1" stroke-dasharray="2 22" stroke-dashoffset="3"/>
</g>
<path d="M82.5 42V788M808.5 42V788M82 42.5H809M82 415.5H809M82 539.5H809M82 663.5H809M82 787.5H809M75 415.5H82M78 409.5H82M78 403.5H82M78 397.5H82M75 392.5H82M78 386.5H82M78 380.5H82M78 374.5H82M75 368.5H82M78 362.5H82M78 356.5H82M78 350.5H82M75 345.5H82M78 339.5H82M78 333.5H82M78 327.5H82M75 321.5H82M78 315.5H82M78 309.5H82M78 304.5H82M75 298.5H82M78 292.5H82M78 286.5H82M78 280.5H82M75 274.5H82M78 268.5H82M78 262.5H82M78 257.5H82M75 251.5H82M78 245.5H82M78 239.5H82M78 233.5H82M75 227.5H82M78 221.5H82M78 216.5H82M78 210.5H82M75 204.5H82M78 198.5H82M78 192.5H82M78 186.5H82M75 180.5H82M78 174.5H82M78 169.5H82M78 163.5H82M75 157.5H82M78 151.5H82M78 145.5H82M78 139.5H82M75 133.5H82M78 128.5H82M78 122.5H82M78 116.5H82M75 110.5H82M78 104.5H82M78 98.5H82M78 92.5H82M75 86.5H82M78 81.5H82M78 75.5H82M78 69.5H82M75 63.5H82M78 57.5H82M78 51.5H82M78 45.5H82M75 539.5H82M78 534.5H82M78 530.5H82M78 525.5H82M75 520.5H82M78 516.5H82M78 511.5H82M78 507.5H82M75 502.5H82M78 497.5H82M78 493.5H82M78 488.5H82M75 483.5H82M78 479.5H82M78 474.5H82M78 470.5H82M75 465.5H82M78 460.5H82M78 456.5H82M78 451.5H82M75 446.5H82M78 442.5H82M78 437.5H82M78 433.5H82M75 428.5H82M78 423.5H82M78 419.5H82M75 663.5H82M78 656.5H82M78 650.5H82M78 643.5H82M75 637.5H82M78 630.5H82M78 624.5H82M78 617.5H82M75 610.5H82M78 604.5H82M78 597.5H82M78 591.5H82M75 584.5H82M78 578.5H82M78 571.5H82M78 565.5H82M75 558.5H82M78 551.5H82M78 545.5H82M75 787.5H82M78 780.5H82M78 774.5H82M78 767.5H82M75 760.5H82M78 754.5H82M78 747.5H82M78 741.5H82M75 734.5H82M78 727.5H82M78 721.5H82M78 714.5H82M75 707.5H82M78 701.5H82M78 694.5H82M78 688.5H82M75 681.5H82M78 674.5H82M78 668.5H82M82.5 787V794M89.5 787V791M97.5 787V791M104.5 787V791M111.5 787V791M118.5 787V794M126.5 787V791M133.5 787V791M140.5 787V791M148.5 787V791M155.5 787V794M162.5 787V791M169.5 787V791M177.5 787V791M184.5 787V791M191.5 787V794M199.5 787V791M206.5 787V791M213.5 787V791M220.5 787V791M228.5 787V794M235.5 787V791M242.5 787V791M250.5 787V791M257.5 787V791M264.5 787V794M271.5 787V791M279.5 787V791M286.5 787V791M293.5 787V791M301.5 787V794M308.5 787V791M315.5 787V791M322.5 787V791M330.5 787V791M337.5 787V794M344.5 787V791M352.5 787V791M359.5 787V791M366.5 787V791M373.5 787V794M381.5 787V791M388.5 787V791M395.5 787V791M403.5 787V791M410.5 787V794M417.5 787V791M424.5 787V791M432.5 787V791M439.5 787V791M446.5 787V794M453.5 787V791M461.5 787V791M468.5 787V791M475.5 787V791M483.5 787V794M490.5 787V791M497.5 787V791M504.5 787V791M512.5 787V791M519.5 787V794M526.5 787V791M534.5 787V791M541.5 787V791M548.5 787V791M555.5 787V794M563.5 787V791M570.5 787V791M577.5 787V791M585.5 787V791M592.5 787V794M599.5 787V791M606.5 787V791M614.5 787V791M621.5 787V791M628.5 787V794M636.5 787V791M643.5 787V791M650.5 787V791M657.5 787V791M665.5 787V794M672.5 787V791M679.5 787V791M687.5 787V791M694.5 787V791M701.5 787V794M708.5 787V791M716.5 787V791M723.5 787V791M730.5 787V791M738.5 787V794M745.5 787V791M752.5 787V791M759.5 787V791M767.5 787V791M774.5 787V794M781.5 787V791M789.5 787V791M796.5 787V791M803.5 787V791" stroke="#000" stroke-width="1" fill="none" shape-rendering="crispEdges"/>
<g font-family="Liberation Sans, Arial, sans-serif" font-size="9.8" fill="#000" stroke="#000" stroke-width="0.05" text-rendering="geometricPrecision">
<text x="73.0" y="417" text-anchor="end" textLength="5.30" lengthAdjust="spacingAndGlyphs">0</text>
<text x="73.0" y="394" text-anchor="end" textLength="5.30" lengthAdjust="spacingAndGlyphs">4</text>
<text x="73.0" y="370" text-anchor="end" textLength="5.30" lengthAdjust="spacingAndGlyphs">8</text>
<text x="73.0" y="347" text-anchor="end" textLength="10.60" lengthAdjust="spacingAndGlyphs">12</text>
<text x="73.0" y="323" text-anchor="end" textLength="10.60" lengthAdjust="spacingAndGlyphs">16</text>
<text x="73.0" y="300" text-anchor="end" textLength="10.60" lengthAdjust="spacingAndGlyphs">20</text>
<text x="73.0" y="276" text-anchor="end" textLength="10.60" lengthAdjust="spacingAndGlyphs">24</text>
<text x="73.0" y="253" text-anchor="end" textLength="10.60" lengthAdjust="spacingAndGlyphs">28</text>
<text x="73.0" y="229" text-anchor="end" textLength="10.60" lengthAdjust="spacingAndGlyphs">32</text>
<text x="73.0" y="206" text-anchor="end" textLength="10.60" lengthAdjust="spacingAndGlyphs">36</text>
<text x="73.0" y="182" text-anchor="end" textLength="10.60" lengthAdjust="spacingAndGlyphs">40</text>
<text x="73.0" y="159" text-anchor="end" textLength="10.60" lengthAdjust="spacingAndGlyphs">44</text>
<text x="73.0" y="135" text-anchor="end" textLength="10.60" lengthAdjust="spacingAndGlyphs">48</text>
<text x="73.0" y="112" text-anchor="end" textLength="10.60" lengthAdjust="spacingAndGlyphs">52</text>
<text x="73.0" y="88" text-anchor="end" textLength="10.60" lengthAdjust="spacingAndGlyphs">56</text>
<text x="73.0" y="65" text-anchor="end" textLength="10.60" lengthAdjust="spacingAndGlyphs">60</text>
<text x="73.0" y="541" text-anchor="end" textLength="5.30" lengthAdjust="spacingAndGlyphs">0</text>
<text x="73.0" y="522" text-anchor="end" textLength="10.60" lengthAdjust="spacingAndGlyphs">20</text>
<text x="73.0" y="504" text-anchor="end" textLength="10.60" lengthAdjust="spacingAndGlyphs">40</text>
<text x="73.0" y="485" text-anchor="end" textLength="10.60" lengthAdjust="spacingAndGlyphs">60</text>
<text x="73.0" y="467" text-anchor="end" textLength="10.60" lengthAdjust="spacingAndGlyphs">80</text>
<text x="73.0" y="448" text-anchor="end" textLength="15.90" lengthAdjust="spacingAndGlyphs">100</text>
<text x="73.0" y="665" text-anchor="end" textLength="5.30" lengthAdjust="spacingAndGlyphs">0</text>
<text x="73.0" y="639" text-anchor="end" textLength="10.60" lengthAdjust="spacingAndGlyphs">20</text>
<text x="73.0" y="612" text-anchor="end" textLength="10.60" lengthAdjust="spacingAndGlyphs">40</text>
<text x="73.0" y="586" text-anchor="end" textLength="10.60" lengthAdjust="spacingAndGlyphs">60</text>
<text x="73.0" y="789" text-anchor="end" textLength="5.30" lengthAdjust="spacingAndGlyphs">0</text>
<text x="73.0" y="762" text-anchor="end" textLength="5.30" lengthAdjust="spacingAndGlyphs">2</text>
<text x="73.0" y="736" text-anchor="end" textLength="5.30" lengthAdjust="spacingAndGlyphs">4</text>
<text x="73.0" y="709" text-anchor="end" textLength="5.30" lengthAdjust="spacingAndGlyphs">6</text>
<text x="82" y="805" text-anchor="middle" textLength="5.30" lengthAdjust="spacingAndGlyphs">0</text>
<text x="118" y="805" text-anchor="middle" textLength="10.60" lengthAdjust="spacingAndGlyphs">50</text>
<text x="155" y="805" text-anchor="middle" textLength="15.90" lengthAdjust="spacingAndGlyphs">100</text>
<text x="191" y="805" text-anchor="middle" textLength="15.90" lengthAdjust="spacingAndGlyphs">150</text>
<text x="228" y="805" text-anchor="middle" textLength="15.90" lengthAdjust="spacingAndGlyphs">200</text>
<text x="264" y="805" text-anchor="middle" textLength="15.90" lengthAdjust="spacingAndGlyphs">250</text>
<text x="301" y="805" text-anchor="middle" textLength="15.90" lengthAdjust="spacingAndGlyphs">300</text>
<text x="337" y="805" text-anchor="middle" textLength="15.90" lengthAdjust="spacingAndGlyphs">350</text>
<text x="373" y="805" text-anchor="middle" textLength="15.90" lengthAdjust="spacingAndGlyphs">400</text>
<text x="410" y="805" text-anchor="middle" textLength="15.90" lengthAdjust="spacingAndGlyphs">450</text>
<text x="446" y="805" text-anchor="middle" textLength="15.90" lengthAdjust="spacingAndGlyphs">500</text>
<text x="483" y="805" text-anchor="middle" textLength="15.90" lengthAdjust="spacingAndGlyphs">550</text>
<text x="519" y="805" text-anchor="middle" textLength="15.90" lengthAdjust="spacingAndGlyphs">600</text>
<text x="555" y="805" text-anchor="middle" textLength="15.90" lengthAdjust="spacingAndGlyphs">650</text>
<text x="592" y="805" text-anchor="middle" textLength="15.90" lengthAdjust="spacingAndGlyphs">700</text>
<text x="628" y="805" text-anchor="middle" textLength="15.90" lengthAdjust="spacingAndGlyphs">750</text>
<text x="665" y="805" text-anchor="middle" textLength="15.90" lengthAdjust="spacingAndGlyphs">800</text>
<text x="701" y="805" text-anchor="middle" textLength="15.90" lengthAdjust="spacingAndGlyphs">850</text>
<text x="738" y="805" text-anchor="middle" textLength="15.90" lengthAdjust="spacingAndGlyphs">900</text>
<text x="86.8" y="56.3" textLength="27.40" lengthAdjust="spacingAndGlyphs" font-size="9.9">Напор</text>
<text x="86.8" y="429.2" textLength="95.70" lengthAdjust="spacingAndGlyphs" font-size="9.9">Мощность на валу P2</text>
<text x="86.8" y="553.9" textLength="92.10" lengthAdjust="spacingAndGlyphs" font-size="9.9">Гидравлический КПД</text>
<text x="86.8" y="677.5" textLength="134.00" lengthAdjust="spacingAndGlyphs" font-size="9.9">Кривые кавитационного запаса</text>
<g font-size="9.8">
<text x="73" y="54" text-anchor="end"><tspan font-style="italic">H</tspan> / m</text>
<text x="69.2" y="427" text-anchor="end"><tspan font-style="italic">P</tspan><tspan font-size="5.5" dy="1">2</tspan><tspan dy="-1"> / kW</tspan></text>
<text x="73.4" y="551.2" text-anchor="end"><tspan font-style="italic">η</tspan> / %</text>
<text x="73.4" y="675" text-anchor="end" textLength="41" lengthAdjust="spacingAndGlyphs"><tspan font-style="italic">NPSH</tspan> / m</text>
<text x="774.4" y="805" textLength="34.5" lengthAdjust="spacingAndGlyphs"><tspan font-style="italic">Q</tspan> / m³/h</text>
</g>
</g>
<g font-family="Liberation Sans, Arial, sans-serif" font-size="9.8" stroke-width="0.15" text-rendering="geometricPrecision">
<text x="585.7" y="146" fill="#2e00a0" textLength="18.6" lengthAdjust="spacingAndGlyphs">86%</text>
<text x="550.7" y="177.8" fill="#9c0078" textLength="26.2" lengthAdjust="spacingAndGlyphs">85.9%</text>
<text x="521.7" y="204.8" fill="#a52000" textLength="26.2" lengthAdjust="spacingAndGlyphs">85.6%</text>
<text x="481.7" y="245.9" fill="#88a000" textLength="26.2" lengthAdjust="spacingAndGlyphs">83.6%</text>
</g>
</svg>
</body></html>
